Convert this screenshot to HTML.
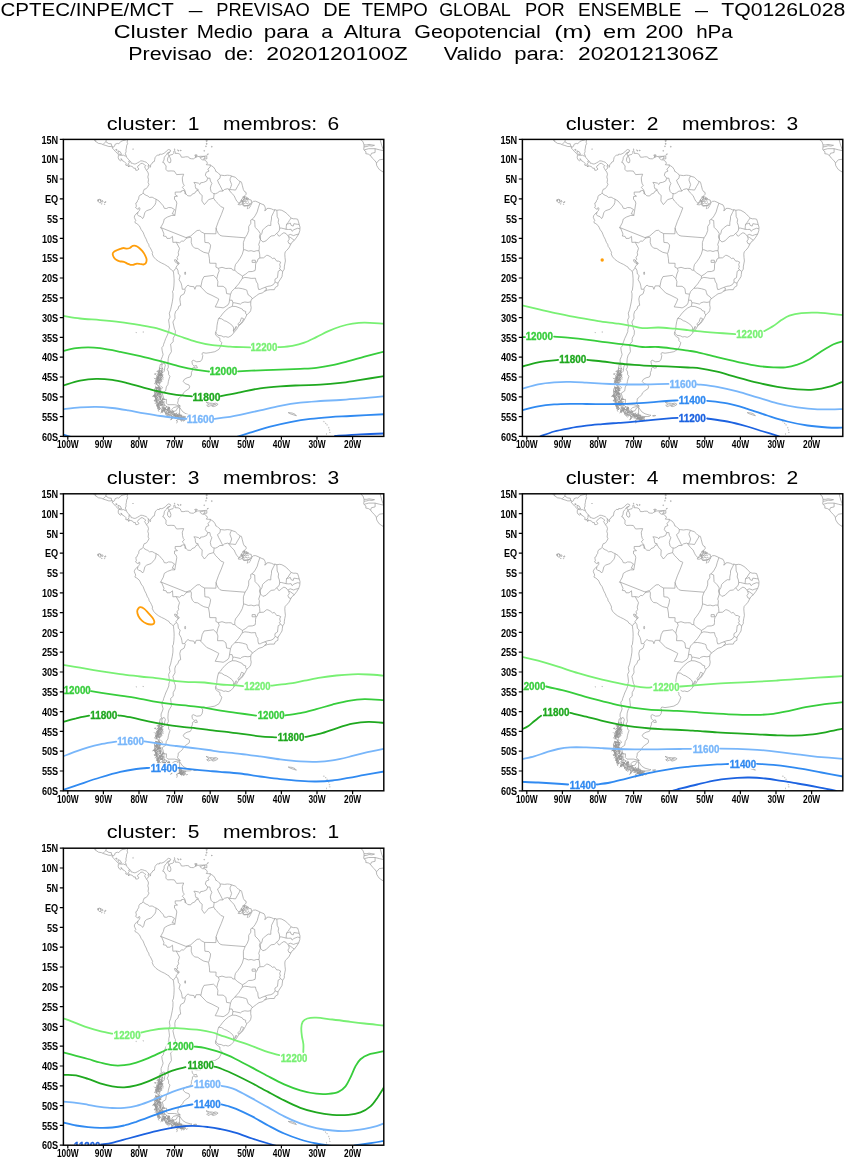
<!DOCTYPE html>
<html><head><meta charset="utf-8"><title>CPTEC/INPE/MCT - Previsao de tempo global por ensemble</title>
<style>html,body{margin:0;padding:0;background:#fff;}body{width:847px;height:1157px;overflow:hidden;}</style>
</head><body>
<svg width="847" height="1157" viewBox="0 0 847 1157" style="display:block">
<g font-family='"Liberation Sans", Arial, Helvetica, sans-serif' fill="#000">
<text x="0.4" y="16.4" font-size="18.8" textLength="173.4" lengthAdjust="spacingAndGlyphs">CPTEC/INPE/MCT</text>
<text x="188.8" y="16.4" font-size="18.8" textLength="13.7" lengthAdjust="spacingAndGlyphs">–</text>
<text x="216.2" y="16.4" font-size="18.8" textLength="93.6" lengthAdjust="spacingAndGlyphs">PREVISAO</text>
<text x="323.2" y="16.4" font-size="18.8" textLength="27.6" lengthAdjust="spacingAndGlyphs">DE</text>
<text x="361.7" y="16.4" font-size="18.8" textLength="66.1" lengthAdjust="spacingAndGlyphs">TEMPO</text>
<text x="439.2" y="16.4" font-size="18.8" textLength="71.6" lengthAdjust="spacingAndGlyphs">GLOBAL</text>
<text x="525.0" y="16.4" font-size="18.8" textLength="39.6" lengthAdjust="spacingAndGlyphs">POR</text>
<text x="578.0" y="16.4" font-size="18.8" textLength="103.3" lengthAdjust="spacingAndGlyphs">ENSEMBLE</text>
<text x="695.0" y="16.4" font-size="18.8" textLength="13.0" lengthAdjust="spacingAndGlyphs">–</text>
<text x="721.2" y="16.4" font-size="18.8" textLength="124.1" lengthAdjust="spacingAndGlyphs">TQ0126L028</text>
<text x="113.7" y="38.4" font-size="18.8" textLength="74.1" lengthAdjust="spacingAndGlyphs">Cluster</text>
<text x="196.7" y="38.4" font-size="18.8" textLength="56.1" lengthAdjust="spacingAndGlyphs">Medio</text>
<text x="263.7" y="38.4" font-size="18.8" textLength="45.1" lengthAdjust="spacingAndGlyphs">para</text>
<text transform="translate(327.2,38.4) scale(1.12,1)" font-size="18.8" text-anchor="middle">a</text>
<text x="343.7" y="38.4" font-size="18.8" textLength="57.1" lengthAdjust="spacingAndGlyphs">Altura</text>
<text x="414.2" y="38.4" font-size="18.8" textLength="126.6" lengthAdjust="spacingAndGlyphs">Geopotencial</text>
<text x="554.2" y="38.4" font-size="18.8" textLength="37.6" lengthAdjust="spacingAndGlyphs">(m)</text>
<text x="603.0" y="38.4" font-size="18.8" textLength="32.8" lengthAdjust="spacingAndGlyphs">em</text>
<text x="645.2" y="38.4" font-size="18.8" textLength="38.1" lengthAdjust="spacingAndGlyphs">200</text>
<text x="696.2" y="38.4" font-size="18.8" textLength="36.6" lengthAdjust="spacingAndGlyphs">hPa</text>
<text x="128.2" y="60.4" font-size="18.8" textLength="83.6" lengthAdjust="spacingAndGlyphs">Previsao</text>
<text x="224.2" y="60.4" font-size="18.8" textLength="29.6" lengthAdjust="spacingAndGlyphs">de:</text>
<text x="266.2" y="60.4" font-size="18.8" textLength="141.6" lengthAdjust="spacingAndGlyphs">2020120100Z</text>
<text x="443.7" y="60.4" font-size="18.8" textLength="58.1" lengthAdjust="spacingAndGlyphs">Valido</text>
<text x="514.2" y="60.4" font-size="18.8" textLength="50.4" lengthAdjust="spacingAndGlyphs">para:</text>
<text x="578.0" y="60.4" font-size="18.8" textLength="140.3" lengthAdjust="spacingAndGlyphs">2020121306Z</text>
</g>
<g transform="translate(63.4,139.4)">
<clipPath id="cp0"><rect x="0" y="0" width="320.4" height="297.0"/></clipPath>
<g clip-path="url(#cp0)">
<path d="M64.3 -2.4L64.3 0.0L63.7 2.8L64.3 4.0L63.2 6.3L63.0 8.7L62.5 10.7L62.7 12.3L61.9 14.3L62.7 16.1L63.5 18.2L64.9 19.8L65.9 21.2L66.5 21.5L67.5 22.4L67.8 23.8L69.2 24.0L70.7 24.6L72.4 24.4L74.2 23.4L76.0 22.4L77.4 21.4L79.2 21.6L81.0 22.2L82.8 22.8L84.2 24.2L85.1 25.1L86.0 26.5L86.7 27.3L86.9 27.9L87.2 26.9L87.2 25.3L88.5 24.4L89.5 22.6L91.0 22.0L91.3 20.2L91.7 18.2L92.6 17.0L94.0 15.6L95.9 15.8L96.3 14.7L98.4 14.9L100.6 13.9L102.3 12.7L103.4 11.3L105.2 10.1L107.0 10.7L107.3 11.7L106.6 12.5L105.6 13.7L104.3 14.3L105.2 15.8L105.6 16.8L105.9 16.0L107.7 15.4L109.5 14.9L110.5 13.9L110.4 11.9L111.2 11.1L112.0 13.1L112.1 14.1L113.7 13.9L115.5 14.3L116.9 15.2L117.5 16.6L118.0 17.8L120.5 17.8L122.3 17.4L124.4 17.4L125.3 17.6L126.2 19.0L128.3 19.4L130.1 19.4L131.5 18.4L133.0 17.8L131.7 17.2L134.4 17.2L137.2 16.9L140.1 17.0L138.3 17.8L136.5 18.0L137.2 19.0L137.9 19.8L139.0 20.4L141.2 20.6L143.3 22.2L144.0 23.8L142.9 25.3L145.4 25.5L146.9 25.5L148.3 26.5L150.1 27.7L151.8 30.1L152.4 32.1L153.6 32.5L155.4 34.3L156.6 35.2L157.0 35.8L157.9 35.8L161.1 36.2L163.9 35.8L166.1 36.0L168.2 36.6L169.6 37.2L171.8 37.8L173.9 39.8L175.3 41.2L176.2 41.6L176.6 42.8L177.3 42.0L178.2 43.2L178.9 45.9L180.0 50.3L181.2 52.3L182.6 52.9L182.8 54.8L181.4 56.2L180.0 58.2L178.5 59.4L177.5 61.4L175.7 64.0L174.6 65.1L176.8 65.5L178.9 64.5L180.0 66.5L181.4 66.7L184.2 66.3L186.4 65.7L188.0 65.1L188.5 63.2L189.9 62.0L192.1 61.8L194.6 62.8L196.5 63.8L198.5 64.7L200.6 65.5L201.7 67.7L202.0 69.7L201.3 71.3L202.6 70.7L203.5 69.1L205.6 68.9L208.1 69.5L210.2 70.5L211.6 70.3L213.4 70.9L216.3 70.5L218.4 70.9L221.6 72.7L223.4 74.1L225.9 76.8L227.8 78.6L229.8 79.4L232.3 79.4L234.2 79.8L235.1 82.4L235.8 85.1L236.6 87.7L236.4 91.3L235.3 94.6L233.4 97.7L230.9 101.0L228.6 102.8L227.5 104.7L225.5 108.5L223.4 110.9L221.8 112.5L221.4 114.8L221.6 118.0L222.0 121.6L221.4 124.5L220.9 127.5L220.9 129.7L219.3 132.1L218.9 135.0L218.6 137.2L217.0 139.8L215.4 142.2L214.6 143.7L214.5 146.5L212.0 147.9L210.9 150.3L206.7 150.3L204.2 150.7L201.2 151.9L198.8 153.6L195.6 154.4L193.1 156.2L189.9 158.6L187.8 160.4L187.4 162.4L187.3 165.5L187.8 168.3L187.3 171.1L186.5 172.7L184.9 174.0L183.4 175.5L182.1 178.2L180.0 181.8L178.2 184.1L175.3 186.5L173.2 190.1L170.5 193.1L169.6 194.4L167.5 196.6L164.8 197.9L162.2 197.2L160.4 197.6L157.9 196.4L154.5 195.9L152.9 194.0L152.4 192.5L152.0 194.0L152.4 195.8L154.0 197.2L156.5 198.8L156.5 201.2L158.4 203.3L157.5 206.3L155.6 209.9L151.5 212.3L146.8 213.2L142.6 213.8L139.4 213.2L138.5 214.6L139.4 216.2L138.7 219.8L137.1 222.0L133.3 222.4L129.8 220.8L128.5 221.8L129.0 224.9L130.8 226.7L133.0 226.1L134.0 228.5L131.5 228.7L130.8 227.5L129.0 228.7L129.0 230.9L128.0 233.2L128.0 235.6L126.9 237.6L123.7 238.4L120.9 240.0L119.8 242.0L121.9 244.3L125.5 245.5L126.2 247.1L125.8 249.1L122.3 251.5L120.1 253.4L119.3 255.4L116.9 257.8L114.8 259.4L114.8 261.4L114.1 263.7L115.2 265.3L116.9 266.7L113.7 267.3L110.2 268.1L108.4 270.1L109.8 272.1L112.7 271.3L114.1 268.5L116.2 267.9L117.7 270.1L119.4 272.4L122.6 274.4L126.9 275.6L128.5 275.8L126.9 277.0L122.6 277.2L117.3 276.6L113.0 276.8L115.5 278.2L120.9 280.8L116.2 279.6L111.2 278.4L107.0 276.0L103.4 274.0L99.5 271.3L96.3 268.5L94.2 265.3L92.7 261.4L91.7 257.4L91.5 253.4L91.3 249.5L92.4 247.9L95.6 248.7L95.9 246.7L93.8 244.7L91.1 244.3L93.1 241.6L94.5 239.6L95.6 236.0L97.4 234.0L99.5 233.2L100.9 231.7L101.3 228.1L102.0 225.7L100.7 223.6L98.8 224.7L97.7 222.9L97.7 220.2L99.0 217.2L99.7 215.0L98.8 211.5L98.4 208.3L99.9 206.5L100.2 204.9L101.3 202.0L102.3 199.2L104.0 195.6L105.4 192.1L105.4 190.3L106.1 187.7L105.7 184.1L105.2 180.6L106.6 177.8L105.9 173.8L107.2 170.3L108.0 166.7L108.9 162.4L109.5 158.4L109.6 154.4L109.1 152.1L110.0 150.7L110.5 146.5L110.7 142.6L110.7 139.4L110.4 135.8L110.1 132.6L109.9 132.1L108.0 130.3L106.4 129.3L105.6 127.7L103.8 126.7L101.3 125.1L98.1 123.6L95.2 122.0L92.7 120.2L90.1 117.4L88.8 114.4L89.2 113.3L88.1 110.9L86.9 108.5L85.8 107.1L85.3 104.9L84.0 103.0L82.8 99.8L81.3 97.0L80.6 95.2L79.6 92.7L77.8 90.3L76.7 87.9L75.8 86.3L73.5 84.3L71.7 83.4L71.6 82.2L72.4 81.4L71.6 79.6L70.9 77.9L71.2 76.4L72.4 74.8L73.9 73.3L74.6 72.9L75.3 71.9L76.2 70.9L76.5 69.1L75.8 68.1L74.9 69.9L73.9 69.5L72.1 68.1L73.0 66.9L72.6 64.9L72.4 63.6L73.7 62.8L74.2 61.0L75.3 59.6L75.5 57.4L76.7 55.6L78.5 55.0L79.7 53.7L79.9 52.3L80.8 49.9L82.8 49.3L84.2 47.5L85.6 44.9L84.7 43.2L85.1 40.0L84.4 37.6L85.1 34.8L84.4 32.7L83.1 30.9L82.1 29.3L81.2 27.5L82.4 26.3L81.0 25.3L79.2 24.0L77.4 24.0L76.4 25.3L74.6 26.5L74.0 27.7L75.6 29.7L74.2 30.7L72.4 30.9L71.9 28.7L70.3 28.9L69.2 27.3L67.5 26.7L65.7 26.5L65.3 27.6L64.4 26.3L63.9 25.3L63.5 26.1L62.3 25.7L62.7 24.0L60.9 22.2L59.1 21.4L58.4 19.9L57.5 19.2L58.0 20.8L57.3 21.4L55.5 20.2L54.8 18.4L55.0 16.2L55.4 15.6L53.9 13.9L52.2 12.3L50.4 10.3L48.6 8.3L49.5 7.9L49.0 6.7L47.5 7.1L45.4 7.1L42.5 6.1L40.4 5.5L37.9 4.4L35.1 4.0L32.2 2.0L30.1 0.0L27.6 -2.4M105.6 16.8L104.3 18.6L104.1 21.4L105.6 23.4L107.2 23.0L107.5 20.6L106.6 18.2L105.9 17.0L105.6 16.8M54.6 11.5L56.8 12.3L58.2 15.0L56.4 15.0L54.8 13.5L54.6 11.5M52.2 10.3L53.6 11.1L53.4 9.9L52.2 10.3M111.1 120.4L112.7 120.4L114.1 122.4L115.9 123.6L115.2 124.9L113.4 123.6L111.6 122.4L111.1 120.4M178.2 178.4L180.3 179.4L178.9 182.2L176.8 184.5L175.0 186.1L174.6 184.5L176.8 182.2L177.5 179.8L178.2 178.4M172.8 186.9L171.4 189.3L170.0 191.3L171.1 190.9L172.8 188.5L172.8 186.9M122.2 133.8L122.0 132.6L121.5 132.6L121.3 133.8L121.5 135.0L122.0 135.0L122.2 133.8M179.8 60.2L182.4 59.8L184.9 60.0L187.8 60.6L188.1 63.0L186.4 65.3L183.5 66.1L180.7 66.3L179.6 64.5L179.8 60.2M181.0 57.0L183.5 58.0L183.9 59.0L181.0 58.8L181.0 57.0M175.7 64.0L177.8 63.0L179.2 61.4L180.3 59.8L181.4 58.6M178.9 64.5L179.2 63.0L180.3 61.8L181.7 61.4L182.8 60.2M179.6 63.4L181.0 64.2L182.4 63.4L183.9 64.2L185.3 63.4L186.4 64.5M180.7 61.8L182.4 62.2L183.9 61.4L185.3 61.8M182.8 59.4L184.2 58.6L185.3 59.2L183.9 59.8L182.8 59.4M179.2 57.8L180.3 57.2L181.4 58.2L180.3 58.6L179.2 57.8M177.8 60.6L178.9 61.0L179.2 62.6L178.2 62.2L177.8 60.6M187.4 66.1L186.4 67.7L185.3 69.3M184.6 66.3L184.2 68.1L183.9 69.7M140.1 17.0L143.3 16.4L143.5 19.4L140.1 19.6L141.5 18.6L141.7 17.4L140.1 17.0M145.0 14.5L144.6 14.4L143.9 14.8L143.7 15.2L144.2 15.3L144.8 14.9L145.0 14.5M134.0 15.8L133.6 15.5L132.6 15.4L131.6 15.5L131.2 15.8L131.6 16.2L132.6 16.3L133.6 16.2L134.0 15.8M141.1 11.5L140.9 11.0L140.7 11.0L140.5 11.5L140.7 11.9L140.9 11.9L141.1 11.5M142.9 6.9L142.7 6.5L142.4 6.5L142.3 6.9L142.4 7.4L142.7 7.4L142.9 6.9M148.8 7.3L148.6 6.8L148.3 6.8L148.1 7.3L148.3 7.8L148.6 7.8L148.8 7.3M143.6 4.4L143.5 3.7L143.1 3.7L142.9 4.4L143.1 5.0L143.5 5.0L143.6 4.4M143.8 1.4L143.6 0.5L143.0 0.5L142.8 1.4L143.0 2.2L143.6 2.2L143.8 1.4M111.6 10.2L111.6 9.8L111.2 9.5L110.9 9.6L110.9 10.0L111.3 10.3L111.6 10.2M115.5 11.6L115.3 11.1L114.6 10.6L114.1 10.5L114.3 11.0L115.0 11.6L115.5 11.6M117.7 11.1L117.5 10.6L117.1 10.6L116.9 11.1L117.1 11.6L117.5 11.6L117.7 11.1M69.8 9.7L69.7 9.3L69.5 9.5L69.5 9.9L69.7 10.1L69.8 9.7M37.2 61.4L36.6 60.0L35.6 59.8L34.8 60.5L34.9 62.2L35.8 63.2L36.6 63.4L37.6 63.2L37.2 61.4M35.2 61.0L35.0 60.3L34.4 60.3L34.2 61.0L34.4 61.7L35.0 61.7L35.2 61.0M39.6 61.8L39.3 61.3L38.6 61.0L38.1 61.5L38.1 62.1L38.6 62.5L39.5 62.5L39.6 61.8M37.8 60.6L37.5 60.1L37.0 60.3L37.0 60.9L37.5 61.0L37.8 60.6M42.6 62.3L42.0 62.2L41.3 62.6L41.0 63.2L41.6 63.4L42.4 62.9L42.6 62.3M38.8 64.5L38.6 64.2L38.2 64.4L38.2 64.7L38.6 64.8L38.8 64.5M41.4 64.9L41.2 64.6L40.9 64.7L40.9 65.0L41.2 65.1L41.4 64.9M73.1 193.1L72.8 192.8L72.5 193.1L72.8 193.3L73.1 193.1M80.1 192.7L79.7 192.4L79.4 192.7L79.7 192.9L80.1 192.7M142.6 262.5L146.1 263.7L149.0 263.9L150.4 264.3L149.3 265.3L147.2 266.3L144.7 267.3L143.3 265.9L145.8 265.3L142.6 262.5M150.4 264.1L152.5 263.7L154.7 264.9L152.5 266.5L149.7 267.3L148.3 266.5L150.8 265.7L150.4 264.1M146.1 264.5L148.3 264.9M150.8 264.9L152.9 265.3M224.8 273.2L228.7 273.6L231.6 274.8L233.0 276.4L230.5 275.6L226.9 274.4L224.8 273.2M260.8 282.3L260.4 282.0L260.1 282.3L260.4 282.7L260.8 282.3M262.5 283.9L262.2 283.6L261.8 283.9L262.2 284.2L262.5 283.9M264.0 285.5L263.6 285.2L263.3 285.5L263.6 285.8L264.0 285.5M265.8 288.3L265.4 288.0L265.0 288.3L265.4 288.6L265.8 288.3M266.5 290.7L266.1 290.3L265.8 290.7L266.1 291.0L266.5 290.7M266.8 293.0L266.5 292.7L266.1 293.0L266.5 293.4L266.8 293.0M263.6 294.6L263.3 294.3L262.9 294.6L263.3 294.9L263.6 294.6M130.1 276.4L131.9 276.0L133.3 276.2L131.5 276.8L130.1 276.4M98.8 224.9L96.8 225.1L96.3 228.1L95.6 230.9L98.1 231.3L98.8 228.9L98.4 226.9L98.8 224.9M96.8 233.5L95.7 233.4L95.4 234.7L95.4 235.9M97.2 233.7L97.3 234.9L97.4 233.7L97.8 233.5M96.0 232.7L97.1 233.9L98.0 234.5L97.2 235.6M96.8 232.2L95.8 232.0L95.0 233.1L95.5 233.0L95.8 233.0M97.5 232.3L97.7 232.4L97.2 231.6L97.7 232.3L97.9 232.3L98.8 231.6L98.3 230.3M96.1 232.0L95.3 232.1L94.1 231.6L94.8 231.4L95.7 231.9L96.2 231.6M97.6 231.9L98.7 232.0L99.1 233.2L99.6 232.8M98.9 231.2L99.5 230.1L99.1 228.9L98.7 228.6L98.7 229.4L98.2 228.7M97.0 231.0L96.0 231.2L96.1 230.1L96.9 229.1L96.4 229.3L96.0 228.3L97.1 229.2M96.3 232.4L95.1 231.5L94.3 232.1L93.4 232.0L93.7 232.5M95.1 234.1L94.9 233.1L96.1 232.6L96.2 232.9M96.2 234.9L95.1 236.1L94.4 237.0L94.0 238.2L92.7 239.2L91.7 239.6L90.6 238.5M97.1 235.5L98.3 235.2L98.2 236.3L98.2 235.0L98.1 235.5L97.2 234.8M97.7 234.9L97.7 235.7L98.8 236.1L99.3 234.9L100.0 235.5M97.3 235.6L97.3 234.5L97.0 235.3L97.1 235.3L97.4 235.0L98.1 234.2M95.4 234.4L95.9 235.1L96.0 235.5L94.8 236.8L94.3 237.5L94.7 236.2L94.6 235.0M98.7 232.9L97.7 234.0L97.6 234.5L97.6 233.1L97.9 234.5L98.9 235.0M97.3 233.2L98.3 232.4L98.9 232.5L98.1 231.7M95.9 233.2L95.8 232.6L94.8 233.5L96.0 234.8L96.3 234.9L96.7 234.6L96.9 234.7M98.5 234.5L97.3 233.7L97.9 234.8L98.5 235.8L99.7 236.6M98.2 237.7L97.6 238.5L97.9 239.1L97.7 240.2L98.7 240.6M96.1 236.6L96.9 235.6L96.0 236.6L96.0 235.5L96.7 235.2L97.4 236.2L96.5 235.9M94.4 237.7L95.1 238.8L95.3 239.5L94.7 238.7L94.7 238.5L95.4 237.4L95.2 237.1M96.3 236.8L96.2 236.7L96.2 235.5L96.6 234.4L97.8 235.1L97.9 233.9M98.0 237.5L97.7 238.0L98.2 238.2L97.4 238.8M94.4 235.3L93.5 234.2L94.7 235.0L95.8 235.3L95.8 233.9L96.6 234.8M96.0 235.8L95.8 236.2L94.7 236.6L94.3 236.7L94.8 237.0L94.9 237.6M98.6 236.6L99.8 237.7L99.2 239.0L99.9 239.6L99.0 239.8M98.3 235.2L98.1 235.1L98.2 235.1L97.7 235.7L98.5 236.6L99.5 237.2M93.9 236.6L92.9 235.6L91.8 234.6L91.7 235.1L91.8 233.9L91.2 234.9M96.1 239.3L97.3 240.0L96.5 238.8L96.8 238.7M94.4 238.9L93.8 238.1L95.0 239.3L93.8 239.3L95.0 239.3M94.6 238.9L95.0 238.8L95.9 237.5L95.5 238.3L94.8 239.1L95.7 238.5L94.8 237.1M98.5 238.1L97.4 237.5L96.8 238.4L95.8 237.4M97.9 238.5L98.2 237.9L97.0 238.8L96.5 240.2L96.1 240.6L97.3 241.1M93.5 237.0L93.1 238.4L92.8 238.5L92.8 239.3L92.8 240.7M94.7 238.6L94.9 238.9L94.4 238.5L93.4 237.3L94.2 238.2L95.2 237.4L95.5 236.7M97.1 237.8L97.7 237.4L96.5 236.5L97.5 236.1L98.1 235.3L97.2 235.2M96.0 237.1L96.8 236.9L97.8 236.4L98.2 237.1M93.4 238.5L94.6 238.9L94.5 240.1L93.3 240.0L92.6 240.7L92.5 241.9M97.7 240.0L98.1 241.2L98.7 241.9L97.7 242.5M96.7 241.4L96.7 241.7L96.7 241.2L97.3 240.8L97.7 242.0L96.8 242.7L97.4 243.2M95.9 241.7L95.9 240.4L94.9 241.2L94.9 240.6M94.5 240.8L95.7 240.7L95.3 241.8L95.2 242.4M93.5 240.8L94.7 241.1L95.7 239.9L94.7 241.0L95.3 241.7L95.0 241.4L95.3 242.0M93.7 240.0L94.6 240.1L93.5 241.5L93.4 241.6L92.9 242.6L92.6 243.1L93.4 244.5M96.8 239.1L97.9 239.9L96.7 239.3L96.1 240.5M95.0 239.0L94.7 239.2L94.1 240.5L93.1 239.6M94.5 238.9L95.7 239.1L95.2 238.3L95.9 238.5L94.8 237.8M95.1 239.0L95.6 240.3L96.2 240.4L96.8 240.0L96.3 241.3M96.7 243.5L96.5 244.1L95.9 243.4L96.3 243.7L95.6 243.7L96.0 244.8L96.4 246.0M94.9 242.1L94.8 242.6L95.4 242.8L95.5 243.5L94.7 243.3M94.1 243.0L95.1 242.3L94.8 242.6L94.9 242.9L94.5 244.1M93.9 241.8L94.4 241.7L95.1 240.8L94.1 239.7L93.8 239.3M94.6 243.1L93.7 243.3L94.3 242.5L95.5 242.5M93.1 240.9L94.2 241.6L93.3 242.6L93.3 242.1L94.4 241.4L94.8 240.7L94.7 240.6M92.9 241.2L93.1 242.5L93.6 241.2L93.9 241.1L93.8 240.4M93.2 242.2L92.9 242.9L93.1 244.3L92.6 244.4L93.8 244.0M96.5 241.8L96.6 243.1L96.4 242.7L95.3 243.5L96.3 243.1M93.1 242.3L94.1 243.1L93.0 243.5L92.8 243.0L92.0 242.2L92.6 242.2L91.9 240.9M94.1 248.5L94.0 249.1L95.0 250.2L95.3 249.9L96.2 249.9M96.6 250.0L97.7 251.2L96.5 250.9L96.3 250.3L95.5 250.5M95.8 249.5L97.0 248.3L96.6 249.1L97.7 248.4M92.9 248.8L93.7 247.4L93.6 248.5L92.5 249.7L92.3 248.6L92.5 247.9L92.2 247.1M94.1 248.5L92.9 248.6L92.6 247.4L91.9 247.8M96.6 249.0L95.9 248.7L95.7 249.0L95.6 248.2L94.5 249.0L93.4 248.7L93.1 249.2M96.8 249.0L97.9 249.6L98.4 249.3L99.2 248.1L98.1 247.2L97.1 246.6M94.7 247.5L95.8 246.7L94.8 246.7L93.6 245.5L93.1 245.0L92.3 245.7M96.4 248.2L96.4 248.5L95.6 248.7L96.0 248.8M95.1 248.8L96.0 247.4L95.4 248.6L94.4 248.6L95.0 248.7L94.3 248.9L94.6 248.5M95.5 250.4L96.2 250.9L95.6 251.6L95.0 252.3M93.8 251.7L93.0 250.6L93.2 251.1L92.9 249.7L92.9 250.5M95.8 250.8L94.8 250.8L95.6 249.9L96.6 251.2M93.1 251.8L93.3 250.9L92.5 252.1L92.6 253.0L92.8 252.2M95.0 252.0L94.3 252.4L93.4 253.2L92.8 253.0L93.2 253.8L92.0 254.3M95.1 250.7L94.1 252.0L94.1 252.0L93.8 251.2L94.2 252.2L94.3 251.8M93.6 250.5L94.0 250.8L92.9 250.1L93.9 250.3L92.7 249.6L93.4 249.2M93.6 250.3L93.4 251.2L92.5 252.3L92.6 252.7M95.6 250.8L95.7 250.4L96.8 251.6L97.1 251.9M94.2 250.8L93.3 251.7L92.3 252.0L92.9 251.2L93.7 251.7L94.5 253.0M96.7 253.4L95.6 252.8L96.1 251.7L96.4 250.8L96.7 250.4L96.0 250.5L96.2 251.8M96.8 253.7L95.9 254.4L96.4 253.3L95.3 253.2L95.9 254.4L96.8 255.5M94.8 252.9L95.1 253.5L94.5 253.8L94.2 253.8L93.4 255.1L94.6 255.2M93.8 252.8L94.7 251.9L94.4 253.1L94.1 253.5L94.8 253.5L95.2 254.8L94.3 253.6M93.0 252.6L91.9 252.6L91.6 251.3L90.7 250.4M97.2 251.6L96.4 250.3L96.4 249.0L97.4 249.9M95.9 251.2L96.7 250.9L96.1 251.4L96.4 250.3M93.9 252.5L93.2 253.2L93.2 253.7L92.0 254.6L91.2 253.4L91.6 252.3L90.8 251.5M91.8 252.0L93.0 252.1L93.0 251.6L94.0 252.3L94.1 251.3L94.7 251.7M93.4 252.3L93.1 251.6L92.9 252.5L93.5 253.7L94.3 254.4M95.1 254.1L95.6 253.4L94.9 254.0L95.3 254.2L94.9 255.4L94.9 255.1M91.3 255.9L90.8 255.8L90.8 256.1L90.4 257.1L90.0 256.2L89.2 257.5M96.1 254.6L95.1 254.2L96.0 253.4L95.8 254.1L94.6 253.7L94.7 254.1L95.1 254.3M97.0 254.6L96.1 255.9L95.0 257.3L94.3 258.2L95.3 259.3M94.9 254.7L94.0 255.5L94.3 255.5L94.6 254.7L93.8 255.2M92.9 254.9L93.4 256.3L94.3 255.6L94.2 254.9L94.1 255.7L93.1 256.4L91.9 256.9M95.8 253.6L96.3 254.3L96.4 254.5L97.1 254.4L96.6 254.0L97.7 254.8M96.6 255.0L97.6 254.0L96.9 255.0L97.9 255.8L97.6 255.6L97.3 254.6M96.9 253.1L96.8 253.0L95.6 254.3L96.7 255.0L97.7 254.2L97.4 254.0L97.6 254.9M91.2 254.8L90.8 255.8L89.6 257.1L90.1 256.7L90.6 256.0M91.6 256.8L90.8 255.6L90.9 255.1L91.9 254.4L92.4 254.7L91.8 255.5M91.4 256.1L92.2 255.7L91.6 256.9L90.6 256.1M92.5 257.4L91.9 257.8L93.0 259.0L93.6 257.9L94.3 257.6L94.3 258.2L94.9 257.4M91.3 257.0L91.0 256.4L91.1 257.2L92.0 258.3M96.7 257.7L96.7 258.2L97.4 259.5L97.0 260.6M95.8 255.4L96.1 254.1L96.1 253.9L95.3 253.0L96.3 253.8L95.5 252.5L96.2 252.6M97.8 255.9L98.2 256.3L97.9 256.6L98.9 257.7M97.1 257.0L96.7 257.2L96.8 258.1L98.0 257.7L99.1 258.7M95.2 255.6L94.8 256.1L93.9 255.2L94.3 254.5M92.3 256.1L92.5 257.2L92.4 256.1L91.7 257.0L91.2 256.4L92.1 257.4M92.5 259.5L92.8 259.9L92.1 258.6L91.5 257.4L92.8 258.3L93.2 259.2M92.5 259.7L93.1 259.9L92.3 259.5L91.4 260.3L91.1 261.6L90.8 260.8M96.2 259.0L96.1 260.0L96.3 260.2L96.9 259.1L96.8 258.9L97.4 259.1M93.0 258.5L93.5 258.2L93.4 258.7L93.7 259.8L93.5 259.0M96.3 258.7L97.2 258.8L96.0 257.8L96.0 257.3L97.0 256.2L96.5 257.6M97.1 257.2L96.0 257.1L95.1 256.3L96.2 256.2M92.2 257.8L92.7 257.8L93.1 256.9L93.1 257.1L94.2 258.0M96.1 258.2L96.7 257.9L97.0 258.6L96.7 259.8M92.0 257.2L92.2 258.3L91.7 258.5L92.8 257.2L94.1 255.9L94.0 256.9M97.8 258.8L97.7 258.7L97.0 257.4L96.7 257.0L97.4 256.1M95.4 261.4L96.1 261.5L96.8 262.2L97.3 261.7L98.5 261.2M95.5 260.4L95.1 259.9L94.7 260.0L95.0 261.1L95.9 262.1L95.5 262.4M92.6 260.8L93.3 261.8L94.2 261.5L93.0 262.8L94.1 262.4L93.5 263.5M93.0 261.5L92.7 262.5L93.7 261.6L92.8 260.6L93.1 259.8L93.5 258.7L94.2 257.8M93.4 260.6L94.0 260.8L95.0 260.6L94.4 261.3M93.0 260.0L93.0 258.9L93.5 259.6L92.6 259.3M97.3 260.6L97.2 260.5L97.6 259.5L97.3 259.8L98.4 260.9L98.8 260.6M92.2 259.8L93.0 260.9L93.0 260.2L92.1 261.0L91.9 262.0L90.9 261.6M94.5 259.4L93.9 259.9L93.3 261.1L92.8 261.5L92.8 262.0M99.0 259.2L100.2 258.8L100.9 259.3L100.5 259.8L100.7 259.5L101.4 260.7M98.0 262.2L97.8 263.3L96.7 262.4L96.6 261.6M92.9 262.9L93.1 262.6L93.6 262.3L94.1 263.1L94.5 263.2L95.2 264.3L94.4 265.6M98.4 262.1L98.1 261.2L98.8 261.1L98.2 261.6M95.7 263.3L95.9 263.1L96.9 263.1L96.9 262.2L97.6 262.4L98.1 262.7L97.0 262.2M97.0 262.0L97.0 262.2L96.0 261.8L95.3 262.8L94.1 264.1M97.7 262.7L97.0 263.8L97.0 264.4L97.1 264.5M98.2 261.1L98.9 260.5L99.8 259.9L98.7 259.5L99.3 259.6L100.3 260.3M99.9 261.5L98.8 260.5L99.3 260.1L99.0 260.7M97.1 261.0L97.4 261.6L98.5 260.9L98.4 261.9L99.6 262.9L100.7 263.8L101.4 263.9M98.5 262.0L99.2 261.9L98.7 263.1L99.8 262.5L100.7 263.0L100.9 261.7M99.7 264.7L99.9 263.4L99.3 263.7L99.0 263.0L98.3 263.1L98.8 263.6M95.1 265.6L94.6 266.6L95.6 265.2L94.7 263.9M99.4 264.8L99.1 266.0L99.2 265.2L98.4 264.5L99.5 265.2L99.8 264.7L99.7 265.5M95.0 264.4L94.9 265.6L95.7 264.8L95.0 264.6L96.0 263.5L96.0 263.6L96.3 264.5M94.5 265.6L94.1 265.4L93.9 265.3L93.0 266.6L94.3 266.9L93.3 266.6M99.4 264.6L99.0 264.6L97.8 265.9L99.0 264.8M96.9 263.8L98.0 264.4L97.0 264.6L97.2 264.3L96.3 263.3L95.9 261.9M96.0 264.9L96.2 263.8L96.1 262.6L97.1 263.8M97.8 264.1L98.3 265.3L97.9 266.0L96.9 264.8M97.1 264.6L96.7 265.3L97.3 266.2L98.4 265.0L97.3 264.8M94.2 266.1L94.9 265.5L95.3 264.1L94.2 265.1L94.8 263.9L95.3 264.5M99.2 266.4L99.2 266.7L98.9 267.1L98.6 267.3M101.2 266.1L101.1 264.9L101.8 265.9L102.7 267.1M99.5 267.2L100.2 265.9L101.2 266.2L100.1 267.4L101.2 267.9M96.1 267.7L95.2 268.4L94.1 267.8L94.2 268.8L95.1 269.5L94.9 270.4M96.4 265.2L97.2 265.9L96.2 266.0L96.1 267.0L96.2 266.6L96.9 265.4M99.0 265.3L98.4 266.1L98.0 264.7L99.3 263.5M94.9 266.3L93.7 265.7L93.2 264.4L92.0 263.5L91.6 264.5M94.0 265.3L93.2 265.4L94.2 266.2L94.4 267.2L93.6 266.5L94.2 267.3M94.7 266.7L95.3 267.6L94.4 267.2L94.8 268.0L94.3 269.4L94.8 269.3L95.6 268.2M100.0 269.2L100.9 268.2L100.9 269.5L101.9 269.6L102.8 270.2L102.0 269.3M98.6 269.6L98.8 268.6L98.5 267.4L99.6 268.5L99.3 269.3L100.1 268.1M102.4 268.2L101.9 269.2L102.5 269.4L101.3 268.5M96.5 269.4L95.8 270.3L94.8 271.0L95.6 272.3M96.1 268.5L95.5 267.6L95.9 267.7L95.2 267.8L94.8 268.9M96.9 268.3L96.9 268.3L96.3 269.4L96.1 270.4L96.3 269.4L95.4 269.2L96.1 270.1M102.9 267.0L103.4 266.8L103.6 268.0L104.8 269.3L104.4 269.6L105.3 269.0L106.1 268.8M104.4 268.2L105.2 269.5L105.3 268.2L106.3 268.9L106.2 268.5L105.8 268.5L104.7 268.6M99.9 268.8L99.7 269.1L100.9 269.3L99.8 267.9L101.0 269.2M103.2 267.7L103.6 266.8L102.4 267.9L101.5 269.3L100.8 270.5L99.8 271.0M98.7 271.7L97.6 271.5L98.7 271.7L98.7 270.6L99.8 270.4L99.2 269.7M104.4 271.3L104.7 271.1L105.0 271.9L105.6 272.0L105.7 271.7L105.6 272.2L105.0 273.0M102.1 271.1L100.9 271.5L101.8 272.2L101.9 272.3L101.4 270.9L100.9 270.1L100.0 271.3M105.7 271.0L105.7 270.1L105.4 269.3L105.4 268.0M103.8 270.0L103.4 270.4L103.8 270.1L104.7 269.2L104.7 268.5L105.3 267.8L105.3 267.0M104.1 269.1L103.9 270.2L103.6 270.0L102.7 270.3L103.9 271.3M105.5 270.3L105.2 270.4L105.1 269.8L104.6 270.1M102.5 270.1L101.3 269.4L102.5 269.8L102.0 269.6L102.8 269.8L102.5 270.6M105.2 270.2L106.3 271.0L106.2 269.9L104.9 271.1L105.1 271.2M106.2 269.3L106.2 269.3L106.7 269.6L106.3 269.3L106.0 268.1L106.4 268.0L105.4 268.4M103.1 272.3L104.1 271.0L104.1 271.2L104.4 269.8L104.0 269.7M107.3 273.1L106.9 274.3L106.5 275.2L106.9 275.7L106.5 274.5L106.5 273.2M105.4 272.4L105.4 273.3L104.7 272.9L104.9 273.3L106.1 272.9M99.6 272.6L99.1 272.1L97.8 272.6L98.7 272.4M105.8 273.0L106.5 272.9L107.4 271.8L107.4 272.8L106.7 272.5L105.8 272.4L105.8 273.7M99.9 270.6L100.7 270.3L101.5 271.5L100.3 270.7L99.8 270.1L99.5 271.0L98.9 272.2M108.2 271.3L107.4 271.0L106.2 271.7L105.9 271.0L104.8 272.2L104.1 273.0M100.7 271.3L100.3 270.2L101.1 270.7L101.3 269.4L101.3 268.2M101.6 271.7L101.4 272.0L101.9 273.3L102.8 274.4L102.0 274.8M99.2 270.7L99.4 271.8L99.5 272.1L99.2 273.3L98.3 272.4L97.9 273.1L97.1 273.7M104.0 275.0L103.6 275.9L104.1 277.0L103.5 276.1M102.9 274.1L102.1 274.6L102.6 274.9L103.8 275.7L104.9 275.7M103.9 274.1L105.0 272.7L105.2 272.9L106.5 272.8L106.2 272.8M102.9 273.5L103.0 274.2L103.7 274.5L104.1 274.3M104.7 274.2L105.2 273.5L104.6 274.3L105.5 275.5M110.7 272.4L110.0 271.8L109.0 272.4L109.7 272.7L109.4 271.7L109.3 271.4M107.9 272.3L107.1 272.7L107.8 272.2L108.8 273.5L109.3 273.6L110.6 273.9M110.7 273.8L109.7 272.7L110.3 272.1L109.1 273.4L108.3 274.2L107.8 274.5M102.0 273.4L102.2 274.2L102.2 274.1L103.2 273.6L103.4 272.4M102.8 272.5L103.8 271.5L104.0 270.9L105.1 270.4L104.0 270.9L104.7 271.4M112.9 275.4L114.2 275.1L113.5 275.0L113.1 273.7L113.0 274.2L113.0 273.7L113.8 273.3M109.2 274.9L109.0 274.8L110.1 275.9L110.7 277.1L111.2 276.3M106.9 275.1L107.0 275.8L105.9 276.2L105.7 277.0L105.2 278.1M111.0 274.9L111.5 276.3L112.0 277.3L112.4 276.7L111.5 276.1M109.9 275.7L110.0 275.0L109.2 274.5L109.5 274.7M111.6 273.6L112.1 274.9L112.0 276.2L113.0 276.7M105.5 274.6L104.7 274.8L104.8 275.3L105.0 276.6M108.8 273.3L107.8 272.7L109.0 272.5L108.0 272.5L107.8 273.4L108.0 274.8L109.0 274.4M110.3 273.4L110.7 274.5L111.3 275.9L111.0 276.8L110.7 275.6L110.8 274.5M110.8 275.0L111.4 275.5L110.6 274.6L110.2 275.0L110.3 275.3L111.1 276.0M108.0 276.3L109.1 275.0L109.0 275.0L108.2 275.6L108.4 276.8L108.9 277.7L108.7 276.4M108.5 277.3L108.4 278.1L108.1 279.4L108.4 278.5L108.4 279.5L107.3 280.7L107.8 279.6M108.2 277.4L109.2 278.3L108.7 278.5L108.9 278.9L108.1 280.0M110.5 276.5L111.6 275.2L111.9 274.3L110.8 273.9L111.1 274.4M112.6 275.5L113.0 276.5L113.9 276.4L114.2 275.5L113.5 274.8L114.0 275.8L114.2 275.6M115.7 275.7L115.9 276.0L114.9 276.9L115.9 276.7L115.0 275.7M109.9 276.2L110.4 277.0L110.3 276.9L110.8 276.2L111.8 276.0L112.7 275.5M114.5 276.1L114.8 274.9L114.9 275.0L115.3 274.9M116.0 276.0L116.6 277.0L117.3 278.3L116.7 278.6L115.5 278.4L114.8 278.9L115.3 279.1M115.3 275.2L115.4 274.0L116.4 274.9L117.0 275.4L117.6 274.9M117.4 278.3L117.4 278.3L117.0 278.3L117.8 278.7L117.5 279.2L117.7 280.5M118.0 278.1L117.3 278.3L118.1 278.0L117.1 279.4L116.2 278.5L115.4 278.4M113.2 277.2L114.0 277.0L113.4 275.6L114.0 276.2L113.9 277.6L115.1 277.6L115.1 278.9M117.5 278.4L118.3 277.1L118.8 277.3L118.1 276.0L118.2 276.4L118.2 276.9L117.3 276.6M112.5 277.0L112.1 277.1L113.2 277.6L112.8 277.6L112.1 278.3L113.1 278.0L113.4 277.4M112.0 276.8L112.0 277.5L112.2 277.4L113.3 276.1M111.2 276.5L112.1 275.7L112.4 275.4L112.1 276.0M117.1 275.9L117.6 276.4L118.2 275.7L118.3 275.4L117.9 275.2M114.1 277.5L114.5 276.4L115.2 276.4L116.2 275.5L117.4 276.5L116.7 275.4M116.2 276.8L116.3 277.3L115.5 278.5L115.0 279.1L115.6 278.9L116.7 279.4L117.7 279.1M115.0 279.4L116.2 279.8L116.9 280.0L117.8 281.2L117.7 280.1L117.2 280.8M114.6 279.4L113.9 280.8L112.8 280.9L113.8 281.5L113.8 282.6L113.2 283.9M115.3 279.7L116.1 278.6L115.7 279.6L114.9 279.5M120.1 278.5L119.3 279.0L120.0 278.6L119.7 278.1M116.6 279.7L117.4 280.8L117.6 280.0L118.9 280.3L120.0 279.3L118.8 279.8L119.2 280.3M117.1 277.4L116.3 278.7L115.5 278.6L116.4 279.0L116.0 279.5L116.5 278.4M115.4 276.8L114.8 276.5L115.5 276.6L114.4 276.2L114.8 276.0L115.3 275.9M116.8 277.7L115.9 279.1L115.8 278.7L116.5 279.0L117.7 279.8L118.3 280.9M114.6 278.5L114.7 279.3L115.4 280.0L115.7 279.3M120.2 277.1L120.3 277.5L120.8 277.6L121.7 278.4L122.8 277.3M119.3 280.5L118.3 279.9L117.3 279.5L117.0 278.5M117.9 279.8L118.9 280.2L119.3 279.2L118.2 280.5L118.7 281.2L118.3 281.7L118.1 282.3M121.4 280.0L121.4 278.8L122.0 277.5L121.1 278.1L120.1 279.4M121.4 280.5L121.8 280.2L121.7 280.0L122.7 280.8L123.6 281.2L124.3 280.2M118.4 279.3L118.9 278.4L118.0 277.3L117.1 277.8L117.1 278.2L117.7 278.3M119.4 279.2L120.3 277.8L119.1 278.6L119.9 278.0L118.7 278.0L118.1 278.2L117.1 279.5M121.9 279.3L120.9 279.4L120.0 279.6L119.2 279.1M118.3 278.5L118.4 277.6L119.5 278.7L120.7 277.8M121.8 279.5L121.2 280.4L120.7 281.6L119.5 281.6M119.4 278.9L118.8 279.4L117.7 279.5L117.1 280.0L116.9 278.6L117.5 279.2M298.9 -2.4L298.0 1.0L299.6 2.2L300.6 5.5L300.6 7.5L300.3 9.9L301.4 11.5L302.6 12.3L302.4 14.3L304.9 14.7L307.1 16.2L308.8 18.6L311.3 21.0L312.9 23.2L313.3 26.1L314.5 28.1L315.9 30.1L319.5 32.5L322.0 34.5M32.2 2.0L32.4 0.0L32.2 -1.2M39.7 5.0L41.5 3.2L42.4 2.3L42.9 0.4L44.0 -1.6M42.4 2.3L45.4 4.2L47.9 4.4L48.1 6.3L47.9 6.9M49.5 7.9L51.1 6.9L51.8 4.8L53.9 4.0L55.4 4.4L57.5 2.0L59.6 1.2L61.8 0.8L64.3 0.0M55.4 15.6L58.2 16.0L60.3 15.8L61.8 16.8L62.7 16.1M65.3 27.6L65.5 25.7L65.0 24.2L66.0 23.4L65.3 22.0L66.5 21.5M85.1 25.1L84.7 27.7L85.6 28.1L84.4 29.7L83.1 30.9M106.6 12.5L104.3 13.3L103.2 15.2L102.3 16.0L100.9 18.0L100.6 20.6L99.3 23.0L100.7 23.4L101.5 25.3L102.7 26.3L102.5 29.9L104.1 31.7L107.7 31.5L110.9 31.7L113.2 35.2L116.6 35.0L120.3 34.8L118.9 38.4L119.1 41.6L119.8 44.5L120.9 45.9L118.9 48.1L121.2 50.3L121.9 52.7L122.5 54.5M122.5 54.5L121.6 54.6L121.6 52.7L120.5 50.9L117.7 51.7L117.8 52.6L111.8 52.7L111.8 55.2L114.1 56.8L111.1 57.2L111.1 60.0L112.7 61.4L113.4 63.8L111.4 76.1M111.4 76.1L110.2 74.6L108.8 74.4L111.1 70.1L108.0 68.3L105.2 68.1L103.1 69.1L100.9 68.9L99.9 66.5L98.1 64.5L95.6 61.6L92.7 59.8M92.7 59.8L91.3 59.2L88.8 57.8L86.0 58.0L84.5 56.6L82.8 56.0L80.6 54.6L79.7 53.7M92.7 59.8L92.4 63.2L91.5 65.5L87.8 69.7L83.3 71.3L81.5 72.9L80.3 77.6L79.2 79.2L77.6 77.2L75.1 76.4L74.0 75.2L74.6 72.9M111.4 76.1L108.4 76.0L104.1 77.6L100.9 79.6L99.9 83.4L98.1 86.7L97.0 88.5L98.1 88.5L100.6 94.6L99.9 96.6L102.7 97.0L103.6 99.0L106.6 99.0L109.1 97.0L109.5 103.0L112.8 102.8M112.8 102.8L116.1 108.9L114.8 113.3L115.3 115.6L113.6 118.0L114.3 120.0L112.7 121.6L114.8 123.6L114.6 125.1L112.5 127.9L113.1 128.7M113.1 128.7L112.0 129.3L109.9 132.1M113.1 128.7L114.5 130.7L115.0 134.6L116.8 136.2L115.7 140.2L117.7 143.7L118.4 146.5L118.9 149.9L121.3 149.8M121.3 149.8L121.9 150.5L120.7 154.4L117.3 156.4L116.4 159.6L116.9 163.2L117.3 165.9L115.5 166.7L114.5 169.9L112.3 171.9L111.4 175.0L111.6 179.0L109.5 182.6L110.2 185.7L111.1 189.7L112.0 191.3L111.8 195.2L109.8 198.8L109.8 202.4L107.2 204.7L107.7 208.7L108.0 212.3L105.6 216.2L104.8 219.4L104.5 224.1L105.0 227.7L103.8 230.1L105.2 232.5L105.2 235.2L106.6 236.8L105.6 239.6L105.0 242.0L104.5 245.1L102.9 247.5L102.3 251.5L98.8 253.8L99.9 257.4L99.9 260.2L103.1 260.0L102.9 263.7L104.5 265.3L111.2 265.3L116.8 266.6M116.2 267.9L116.2 276.8M121.3 149.8L122.8 147.3L124.6 145.7L126.4 146.9L130.5 147.3L131.5 149.9L132.8 146.5L136.9 146.5L137.4 147.5M137.4 147.5L143.3 153.6L148.6 156.0L154.0 158.8L155.4 159.6L154.0 163.2L151.8 167.5L157.5 168.1L159.7 168.5L161.4 167.7L164.6 165.5L165.7 163.5L166.1 160.8M166.1 160.8L168.7 160.8L169.5 163.4L169.1 165.9L168.9 166.9L165.4 168.5L161.8 171.5L159.0 174.6L157.2 177.2L155.2 179.0M155.2 179.0L154.3 182.2L153.6 186.1L153.3 190.1L152.4 192.5M155.2 179.0L158.2 179.4L161.1 181.4L162.7 181.8L166.4 184.1L168.9 186.1L170.3 188.5L170.0 191.3L170.5 193.1M166.1 160.8L167.1 154.8L163.2 154.2L162.5 149.1L159.7 146.9L154.1 146.9L154.5 142.2L153.4 139.2M153.4 139.2L150.1 136.0L140.6 137.2L138.8 140.8L137.4 147.5M153.4 139.2L154.5 134.6L155.8 131.5L154.9 128.9L152.5 127.7L152.7 123.9L146.3 123.8L146.0 119.2L145.1 114.0L140.4 112.9L136.9 110.9L134.4 109.1L131.2 108.7L129.0 106.5L127.8 103.0L128.0 99.0L127.6 97.8L123.4 98.6L120.1 101.8L118.4 101.6L116.2 103.4L112.8 102.8M122.5 54.5L124.4 56.4L127.3 56.6L128.7 54.8L131.5 53.7L132.6 51.7L134.7 50.9L134.7 49.9L132.6 49.5L131.9 47.1L131.9 45.1L130.5 43.0L132.6 43.2L135.1 43.8L136.5 45.1L137.2 43.4L140.1 43.0L143.3 41.6L144.3 38.8M144.3 38.8L141.9 35.8L142.8 32.9L145.6 31.7L144.4 29.7L146.8 27.5L146.9 25.5M144.3 38.8L146.5 38.8L147.0 41.6L148.5 44.0L147.6 46.1L146.9 48.7L147.7 52.1L149.7 54.1L152.2 54.3L154.0 53.5L156.5 51.7L159.4 51.7M159.4 51.7L156.6 46.1L155.2 43.6L154.1 40.8L156.6 38.8L157.0 35.8M159.4 51.7L161.1 50.1L164.3 49.3L166.1 50.2M166.1 50.2L167.5 47.5L168.2 45.1L166.6 40.8L166.8 39.2L168.2 36.6M166.1 50.2L168.9 50.3L172.1 50.7L174.1 47.1L175.7 44.4L176.6 42.8M300.6 5.5L303.5 5.5L305.6 5.0L308.5 5.5L311.1 5.9L308.5 6.7L305.6 6.3L303.5 7.1L300.6 7.5M300.8 10.5L305.3 9.3L311.7 9.3L316.3 10.5L319.9 11.3L322.0 10.7M311.7 9.3L311.7 13.1L308.1 13.9L307.1 16.2M313.1 23.6L315.9 20.4L320.4 19.8L322.7 22.6M316.7 -2.4L317.0 1.2L318.4 6.3L319.9 10.3L319.9 11.3M319.5 32.3L322.7 28.5L323.8 25.7M165.1 49.9L167.9 53.5L170.7 56.2L172.1 59.4L173.4 61.8L175.7 64.0M150.2 58.8L152.2 61.8L154.7 64.2L157.5 67.3L159.7 68.1L160.4 68.5L157.9 75.2L155.0 82.0L152.7 88.5M152.7 88.5L153.3 91.1L155.0 94.2L156.5 95.8L158.6 96.6L181.7 98.4M181.7 98.4L183.9 95.0L185.3 91.1L185.3 87.1L187.4 84.0L187.3 80.7L188.5 80.0M188.5 80.0L190.3 78.4L191.7 76.4L193.8 72.5L194.9 68.5L196.5 63.8M188.5 80.0L191.3 81.2L191.5 85.3L191.7 87.9L194.9 91.1L196.9 94.2L196.0 97.4L197.0 100.0M211.6 70.3L210.2 72.9L208.1 77.2L208.1 79.6L207.4 83.2L207.4 86.1L204.9 85.9L202.0 87.9L199.2 90.7L198.5 93.9L197.0 96.2L197.0 100.0M213.4 70.9L213.6 73.3L213.8 77.2L215.2 80.0L214.8 83.2L215.9 85.9L216.3 88.7M216.3 88.7L215.9 91.1L214.5 93.1L213.2 94.0M213.2 94.0L210.9 96.2L207.7 96.6L204.9 99.0L202.7 101.4L199.5 102.6L197.0 100.0M227.8 78.6L225.9 81.2L224.8 83.2L223.2 84.7M223.2 84.7L222.9 87.1L222.7 89.9M222.7 89.9L220.5 89.3L218.0 88.7L216.3 88.7M235.8 85.1L234.1 84.9L230.5 84.3L229.8 86.7L227.7 85.9L226.9 83.6L225.2 84.3L223.2 84.7M236.4 89.3L234.1 88.9L230.5 90.3L228.7 91.9L227.7 89.9L225.2 90.1L222.7 89.9M235.3 94.6L232.3 95.4L230.2 96.2L226.9 95.0L225.2 95.8L224.5 96.4M230.9 101.0L229.4 99.8L227.3 98.2L225.2 97.2L224.5 96.4M227.5 104.7L225.5 104.1L224.5 101.8L225.9 99.8L225.2 97.2M224.5 96.4L222.7 94.2L220.5 93.3L218.0 95.0L216.3 96.6L215.2 96.6L214.5 95.4L213.2 94.0M196.5 118.6L200.2 118.4L203.1 116.0L204.5 116.0L207.4 117.6L209.1 119.2L210.9 118.6L213.4 121.8L214.8 121.6L217.3 122.8L216.3 125.1L217.0 127.9L215.9 128.7L217.2 130.5M219.3 132.1L217.2 130.5M217.2 130.5L214.8 131.9L214.5 134.6L214.1 138.2L211.6 139.8L211.5 141.6L211.8 142.6M211.8 142.6L213.4 143.4L214.6 143.7M211.8 142.6L209.9 145.3L207.4 146.5L204.5 146.9L202.7 147.5L201.3 148.1M201.3 148.1L203.1 148.9L203.1 150.1L201.7 150.9L201.2 151.9M201.3 148.1L198.5 149.1L197.0 149.9L195.3 150.1L194.6 147.7L194.4 144.5L193.1 142.6L192.4 140.6L192.1 138.8L187.8 139.0L184.9 138.4L181.4 138.0L178.9 139.0M178.9 139.0L176.8 142.2L175.3 144.5L173.5 146.5L171.4 148.9M171.4 148.9L175.3 148.7L178.9 149.3L182.4 150.3L183.5 150.9L183.9 152.9L184.9 155.6L187.4 157.2L189.2 159.6M187.4 162.4L184.6 163.0L181.4 162.6L178.5 163.4L177.1 164.7L173.5 163.9L171.1 163.4L169.5 163.4M183.4 175.5L182.1 173.8L182.4 172.1L179.6 171.1L178.9 169.7L175.7 168.3L172.5 167.1L168.9 166.9M171.4 148.9L168.2 152.1L167.3 154.6M154.9 128.9L158.6 127.9L162.5 129.1L165.4 128.9L168.2 129.1L169.3 130.7L171.4 130.9M171.4 130.9L174.3 133.5L177.8 135.8L179.1 136.6L178.9 139.0M179.1 136.6L182.4 134.6L184.2 133.1L185.3 132.3L188.9 132.1L191.7 131.1L192.1 128.7L192.1 125.5L192.8 122.8L193.8 122.4L194.6 119.6L196.5 118.6M196.5 118.6L196.3 114.8L195.6 111.3M195.6 111.3L193.1 111.3L190.6 112.1L187.8 111.3L184.9 111.7L181.4 110.3L180.1 110.5M180.1 110.5L180.0 106.9L180.0 103.0L181.0 100.2L181.7 98.4M195.6 111.3L196.0 106.9L195.3 105.3L196.3 102.2L197.0 100.0M180.1 110.5L178.9 114.8L176.8 118.8L174.3 122.4L172.1 125.1L171.4 127.9L171.4 130.9M145.4 113.7L146.8 108.9L147.2 105.7L145.4 103.4L141.5 103.0L141.3 99.0L141.2 94.2M141.2 94.2L152.5 94.4L152.7 88.5M141.2 94.2L137.9 92.5L136.2 90.9L133.7 91.1L130.8 93.5L127.3 96.6L122.6 98.2M122.6 98.2L97.7 88.3M122.6 98.2L123.4 98.6M134.7 50.9L136.9 54.6L138.8 56.0L138.5 61.6L141.0 65.2L143.3 62.6L145.2 60.2L150.2 58.8L150.8 54.4M188.7 120.8L191.9 120.8L192.1 123.0L188.7 123.0L188.7 120.8" fill="none" stroke="#9a9a9a" stroke-width="0.7" stroke-linejoin="round"/>
<path d="M49.3 114.8C49.2 113.9 49.5 113.3 50.2 112.7C50.9 112.0 52.3 111.4 53.4 110.9C54.5 110.4 55.8 109.9 56.9 109.5C58.0 109.1 58.8 108.6 59.9 108.6C61.0 108.5 62.3 109.2 63.4 109.2C64.5 109.2 65.4 109.0 66.4 108.6C67.4 108.1 68.3 106.8 69.3 106.5C70.3 106.2 71.3 106.2 72.3 106.5C73.3 106.8 74.1 107.2 75.2 108.0C76.3 108.8 77.7 110.2 78.8 111.5C79.9 112.8 81.0 114.5 81.7 115.9C82.4 117.3 83.1 118.8 83.2 120.1C83.3 121.4 82.8 123.1 82.3 123.9C81.8 124.7 81.0 125.0 80.0 125.1C79.0 125.2 77.5 124.6 76.4 124.5C75.3 124.3 74.6 124.1 73.5 124.2C72.4 124.4 71.0 125.2 69.9 125.4C68.8 125.6 68.0 125.6 67.0 125.4C66.0 125.2 65.1 124.7 64.0 124.2C62.9 123.7 61.8 122.8 60.5 122.4C59.2 122.0 57.7 122.2 56.4 121.9C55.1 121.6 53.8 121.1 52.8 120.4C51.8 119.8 51.1 118.9 50.5 118.0C49.9 117.1 49.4 115.7 49.3 114.8Z" fill="none" stroke="#ff9e0a" stroke-width="1.8" stroke-linecap="round" stroke-linejoin="round"/>
<rect x="185.9" y="203.1" width="29.3" height="9.8" fill="#fff"/>
<path d="M-0.4 176.5C2.5 176.9 10.5 178.4 16.7 179.1C22.9 179.8 30.0 180.1 36.7 180.7C43.4 181.3 50.1 181.9 56.8 182.7C63.5 183.5 70.9 184.7 76.9 185.7C82.9 186.7 88.2 187.5 92.9 188.7C97.6 189.9 101.0 191.3 105.0 192.7C109.0 194.1 112.3 195.5 117.0 197.1C121.7 198.7 127.8 201.0 133.1 202.4C138.4 203.8 143.5 205.0 149.1 205.8C154.7 206.6 162.7 206.9 166.6 207.2C170.5 207.5 169.3 207.5 172.7 207.6C176.0 207.7 184.4 207.9 186.7 208.0M214.8 207.8C217.1 207.6 224.6 207.2 228.9 206.4C233.2 205.6 236.9 204.7 240.9 203.2C244.9 201.8 248.9 199.6 252.9 197.7C256.9 195.8 261.0 193.5 265.0 191.7C269.0 189.9 273.0 188.3 277.0 187.1C281.0 185.9 285.1 184.9 289.1 184.3C293.1 183.7 295.7 183.3 301.1 183.3C306.5 183.3 318.2 184.1 321.6 184.2" fill="none" stroke="#78f073" stroke-width="1.8" stroke-linecap="round" stroke-linejoin="round"/>
<text x="200.5" y="211.6" text-anchor="middle" font-family='"Liberation Sans", Arial, sans-serif' font-weight="bold" font-size="10.0" stroke="#78f073" stroke-width="0.3" textLength="26.9" lengthAdjust="spacingAndGlyphs" fill="#78f073">12200</text>
<rect x="144.9" y="227.6" width="30.2" height="9.8" fill="#fff"/>
<path d="M-0.4 211.6C1.8 211.1 8.5 209.4 12.7 208.8C16.9 208.2 20.7 208.0 24.7 208.0C28.7 208.0 31.3 208.1 36.7 208.8C42.0 209.5 50.1 211.1 56.8 212.4C63.5 213.7 70.2 215.2 76.9 216.8C83.6 218.4 90.3 220.1 97.0 221.8C103.7 223.5 111.0 225.8 117.0 227.2C123.0 228.7 128.3 229.7 133.1 230.5C137.9 231.3 143.5 231.8 145.6 232.1M174.7 231.9C178.4 231.7 189.7 231.2 196.7 230.9C203.7 230.6 210.1 230.5 216.8 230.3C223.5 230.0 230.9 229.7 236.9 229.4C242.9 229.1 247.6 229.0 252.9 228.4C258.2 227.8 263.6 226.9 269.0 225.8C274.4 224.7 279.8 223.2 285.1 221.8C290.5 220.4 295.0 218.9 301.1 217.2C307.2 215.6 318.2 212.8 321.6 211.9" fill="none" stroke="#37cd3c" stroke-width="1.8" stroke-linecap="round" stroke-linejoin="round"/>
<text x="160.0" y="236.1" text-anchor="middle" font-family='"Liberation Sans", Arial, sans-serif' font-weight="bold" font-size="10.0" stroke="#37cd3c" stroke-width="0.3" textLength="27.8" lengthAdjust="spacingAndGlyphs" fill="#37cd3c">12000</text>
<rect x="127.9" y="252.7" width="30.3" height="9.8" fill="#fff"/>
<path d="M-0.4 246.2C2.5 245.4 11.2 242.4 16.7 241.3C22.2 240.2 27.3 239.6 32.7 239.5C38.0 239.4 43.5 239.8 48.8 240.5C54.2 241.2 59.4 242.6 64.8 243.9C70.1 245.2 75.5 247.1 80.9 248.5C86.3 249.9 91.7 251.3 97.0 252.5C102.3 253.7 107.7 254.8 113.0 255.5C118.3 256.2 126.0 256.7 128.6 256.9M157.4 256.7C158.9 256.4 163.4 255.5 166.6 254.9C169.8 254.3 171.7 253.9 176.7 252.9C181.7 251.9 190.0 249.9 196.7 248.9C203.4 247.9 210.1 247.4 216.8 246.9C223.5 246.4 230.2 246.2 236.9 245.9C243.6 245.6 250.3 245.7 257.0 245.3C263.7 244.9 270.3 244.3 277.0 243.5C283.7 242.7 289.7 241.6 297.1 240.5C304.5 239.3 317.5 237.2 321.6 236.6" fill="none" stroke="#1fa81f" stroke-width="1.8" stroke-linecap="round" stroke-linejoin="round"/>
<text x="143.0" y="261.2" text-anchor="middle" font-family='"Liberation Sans", Arial, sans-serif' font-weight="bold" font-size="10.0" stroke="#1fa81f" stroke-width="0.3" textLength="27.9" lengthAdjust="spacingAndGlyphs" fill="#1fa81f">11800</text>
<rect x="122.3" y="274.9" width="29.9" height="9.8" fill="#fff"/>
<path d="M-0.4 269.7C2.5 269.4 11.2 268.4 16.7 268.0C22.2 267.6 27.3 267.3 32.7 267.4C38.0 267.5 43.5 268.0 48.8 268.6C54.2 269.2 59.4 270.1 64.8 271.0C70.1 271.9 75.5 273.1 80.9 274.0C86.3 274.9 91.7 275.8 97.0 276.6C102.3 277.4 108.7 278.1 113.0 278.6C117.3 279.1 121.4 279.3 123.1 279.4M151.2 279.4C153.8 279.1 162.3 278.0 166.6 277.4C170.8 276.8 171.7 276.6 176.7 275.5C181.7 274.4 190.0 272.5 196.7 271.0C203.4 269.5 210.1 267.8 216.8 266.5C223.5 265.2 230.2 264.1 236.9 263.3C243.6 262.5 250.3 262.1 257.0 261.6C263.7 261.2 270.3 261.0 277.0 260.6C283.7 260.2 289.7 259.6 297.1 259.0C304.5 258.4 317.5 257.1 321.6 256.7" fill="none" stroke="#78b6fa" stroke-width="1.8" stroke-linecap="round" stroke-linejoin="round"/>
<text x="137.2" y="283.4" text-anchor="middle" font-family='"Liberation Sans", Arial, sans-serif' font-weight="bold" font-size="10.0" stroke="#78b6fa" stroke-width="0.3" textLength="27.5" lengthAdjust="spacingAndGlyphs" fill="#78b6fa">11600</text>
<path d="M-0.4 295.2C0.8 295.5 5.4 296.8 6.6 297.1M172.6 297.8C174.9 297.0 181.0 295.0 186.7 293.2C192.4 291.5 200.1 289.0 206.8 287.3C213.5 285.5 220.2 284.0 226.9 282.7C233.6 281.4 240.2 280.3 246.9 279.5C253.6 278.7 260.3 278.2 267.0 277.7C273.7 277.2 278.0 277.1 287.1 276.6C296.2 276.1 315.9 275.1 321.6 274.8" fill="none" stroke="#308af1" stroke-width="1.8" stroke-linecap="round" stroke-linejoin="round"/>
<path d="M271.6 296.6C275.9 296.3 288.8 295.3 297.1 294.9C305.4 294.5 317.5 294.2 321.6 294.1" fill="none" stroke="#1c62e0" stroke-width="1.8" stroke-linecap="round" stroke-linejoin="round"/>
</g>
<rect x="0" y="0" width="320.4" height="297.0" fill="none" stroke="#000" stroke-width="1.45"/>
<path d="M0 0.0h-3.6M0 19.8h-3.6M0 39.6h-3.6M0 59.4h-3.6M0 79.2h-3.6M0 99.0h-3.6M0 118.8h-3.6M0 138.6h-3.6M0 158.4h-3.6M0 178.2h-3.6M0 198.0h-3.6M0 217.8h-3.6M0 237.6h-3.6M0 257.4h-3.6M0 277.2h-3.6M0 297.0h-3.6M4.4 297.0v3.4M40.0 297.0v3.4M75.6 297.0v3.4M111.2 297.0v3.4M146.8 297.0v3.4M182.4 297.0v3.4M218.0 297.0v3.4M253.6 297.0v3.4M289.2 297.0v3.4" stroke="#000" stroke-width="1.2" fill="none"/>
<g font-family='"Liberation Sans", Arial, Helvetica, sans-serif' font-weight="bold" font-size="10.1" fill="#000">
<text x="-21.99" y="4.2" textLength="16.79" lengthAdjust="spacingAndGlyphs">15N</text>
<text x="-21.99" y="24.0" textLength="16.79" lengthAdjust="spacingAndGlyphs">10N</text>
<text x="-16.90" y="43.8" textLength="11.70" lengthAdjust="spacingAndGlyphs">5N</text>
<text x="-18.42" y="63.6" textLength="13.22" lengthAdjust="spacingAndGlyphs">EQ</text>
<text x="-16.39" y="83.4" textLength="11.19" lengthAdjust="spacingAndGlyphs">5S</text>
<text x="-21.48" y="103.2" textLength="16.28" lengthAdjust="spacingAndGlyphs">10S</text>
<text x="-21.48" y="123.0" textLength="16.28" lengthAdjust="spacingAndGlyphs">15S</text>
<text x="-21.48" y="142.8" textLength="16.28" lengthAdjust="spacingAndGlyphs">20S</text>
<text x="-21.48" y="162.6" textLength="16.28" lengthAdjust="spacingAndGlyphs">25S</text>
<text x="-21.48" y="182.4" textLength="16.28" lengthAdjust="spacingAndGlyphs">30S</text>
<text x="-21.48" y="202.2" textLength="16.28" lengthAdjust="spacingAndGlyphs">35S</text>
<text x="-21.48" y="222.0" textLength="16.28" lengthAdjust="spacingAndGlyphs">40S</text>
<text x="-21.48" y="241.8" textLength="16.28" lengthAdjust="spacingAndGlyphs">45S</text>
<text x="-21.48" y="261.6" textLength="16.28" lengthAdjust="spacingAndGlyphs">50S</text>
<text x="-21.48" y="281.4" textLength="16.28" lengthAdjust="spacingAndGlyphs">55S</text>
<text x="-21.48" y="301.2" textLength="16.28" lengthAdjust="spacingAndGlyphs">60S</text>
<text x="-6.46" y="308.9" textLength="21.81" lengthAdjust="spacingAndGlyphs">100W</text>
<text x="31.47" y="308.9" textLength="17.17" lengthAdjust="spacingAndGlyphs">90W</text>
<text x="67.07" y="308.9" textLength="17.17" lengthAdjust="spacingAndGlyphs">80W</text>
<text x="102.67" y="308.9" textLength="17.17" lengthAdjust="spacingAndGlyphs">70W</text>
<text x="138.27" y="308.9" textLength="17.17" lengthAdjust="spacingAndGlyphs">60W</text>
<text x="173.87" y="308.9" textLength="17.17" lengthAdjust="spacingAndGlyphs">50W</text>
<text x="209.47" y="308.9" textLength="17.17" lengthAdjust="spacingAndGlyphs">40W</text>
<text x="245.07" y="308.9" textLength="17.17" lengthAdjust="spacingAndGlyphs">30W</text>
<text x="280.67" y="308.9" textLength="17.17" lengthAdjust="spacingAndGlyphs">20W</text>
</g>
<g font-family='"Liberation Sans", Arial, Helvetica, sans-serif' font-size="18.8" fill="#000">
<text x="43.3" y="-9.9" textLength="70.1" lengthAdjust="spacingAndGlyphs">cluster:</text>
<text transform="translate(130.2,-9.9) scale(1.12,1)" text-anchor="middle">1</text>
<text x="159.7" y="-9.9" textLength="94.0" lengthAdjust="spacingAndGlyphs">membros:</text>
<text transform="translate(270.0,-9.9) scale(1.12,1)" text-anchor="middle">6</text>
</g>
</g>
<g transform="translate(522.4,139.4)">
<clipPath id="cp1"><rect x="0" y="0" width="320.4" height="297.0"/></clipPath>
<g clip-path="url(#cp1)">
<path d="M64.3 -2.4L64.3 0.0L63.7 2.8L64.3 4.0L63.2 6.3L63.0 8.7L62.5 10.7L62.7 12.3L61.9 14.3L62.7 16.1L63.5 18.2L64.9 19.8L65.9 21.2L66.5 21.5L67.5 22.4L67.8 23.8L69.2 24.0L70.7 24.6L72.4 24.4L74.2 23.4L76.0 22.4L77.4 21.4L79.2 21.6L81.0 22.2L82.8 22.8L84.2 24.2L85.1 25.1L86.0 26.5L86.7 27.3L86.9 27.9L87.2 26.9L87.2 25.3L88.5 24.4L89.5 22.6L91.0 22.0L91.3 20.2L91.7 18.2L92.6 17.0L94.0 15.6L95.9 15.8L96.3 14.7L98.4 14.9L100.6 13.9L102.3 12.7L103.4 11.3L105.2 10.1L107.0 10.7L107.3 11.7L106.6 12.5L105.6 13.7L104.3 14.3L105.2 15.8L105.6 16.8L105.9 16.0L107.7 15.4L109.5 14.9L110.5 13.9L110.4 11.9L111.2 11.1L112.0 13.1L112.1 14.1L113.7 13.9L115.5 14.3L116.9 15.2L117.5 16.6L118.0 17.8L120.5 17.8L122.3 17.4L124.4 17.4L125.3 17.6L126.2 19.0L128.3 19.4L130.1 19.4L131.5 18.4L133.0 17.8L131.7 17.2L134.4 17.2L137.2 16.9L140.1 17.0L138.3 17.8L136.5 18.0L137.2 19.0L137.9 19.8L139.0 20.4L141.2 20.6L143.3 22.2L144.0 23.8L142.9 25.3L145.4 25.5L146.9 25.5L148.3 26.5L150.1 27.7L151.8 30.1L152.4 32.1L153.6 32.5L155.4 34.3L156.6 35.2L157.0 35.8L157.9 35.8L161.1 36.2L163.9 35.8L166.1 36.0L168.2 36.6L169.6 37.2L171.8 37.8L173.9 39.8L175.3 41.2L176.2 41.6L176.6 42.8L177.3 42.0L178.2 43.2L178.9 45.9L180.0 50.3L181.2 52.3L182.6 52.9L182.8 54.8L181.4 56.2L180.0 58.2L178.5 59.4L177.5 61.4L175.7 64.0L174.6 65.1L176.8 65.5L178.9 64.5L180.0 66.5L181.4 66.7L184.2 66.3L186.4 65.7L188.0 65.1L188.5 63.2L189.9 62.0L192.1 61.8L194.6 62.8L196.5 63.8L198.5 64.7L200.6 65.5L201.7 67.7L202.0 69.7L201.3 71.3L202.6 70.7L203.5 69.1L205.6 68.9L208.1 69.5L210.2 70.5L211.6 70.3L213.4 70.9L216.3 70.5L218.4 70.9L221.6 72.7L223.4 74.1L225.9 76.8L227.8 78.6L229.8 79.4L232.3 79.4L234.2 79.8L235.1 82.4L235.8 85.1L236.6 87.7L236.4 91.3L235.3 94.6L233.4 97.7L230.9 101.0L228.6 102.8L227.5 104.7L225.5 108.5L223.4 110.9L221.8 112.5L221.4 114.8L221.6 118.0L222.0 121.6L221.4 124.5L220.9 127.5L220.9 129.7L219.3 132.1L218.9 135.0L218.6 137.2L217.0 139.8L215.4 142.2L214.6 143.7L214.5 146.5L212.0 147.9L210.9 150.3L206.7 150.3L204.2 150.7L201.2 151.9L198.8 153.6L195.6 154.4L193.1 156.2L189.9 158.6L187.8 160.4L187.4 162.4L187.3 165.5L187.8 168.3L187.3 171.1L186.5 172.7L184.9 174.0L183.4 175.5L182.1 178.2L180.0 181.8L178.2 184.1L175.3 186.5L173.2 190.1L170.5 193.1L169.6 194.4L167.5 196.6L164.8 197.9L162.2 197.2L160.4 197.6L157.9 196.4L154.5 195.9L152.9 194.0L152.4 192.5L152.0 194.0L152.4 195.8L154.0 197.2L156.5 198.8L156.5 201.2L158.4 203.3L157.5 206.3L155.6 209.9L151.5 212.3L146.8 213.2L142.6 213.8L139.4 213.2L138.5 214.6L139.4 216.2L138.7 219.8L137.1 222.0L133.3 222.4L129.8 220.8L128.5 221.8L129.0 224.9L130.8 226.7L133.0 226.1L134.0 228.5L131.5 228.7L130.8 227.5L129.0 228.7L129.0 230.9L128.0 233.2L128.0 235.6L126.9 237.6L123.7 238.4L120.9 240.0L119.8 242.0L121.9 244.3L125.5 245.5L126.2 247.1L125.8 249.1L122.3 251.5L120.1 253.4L119.3 255.4L116.9 257.8L114.8 259.4L114.8 261.4L114.1 263.7L115.2 265.3L116.9 266.7L113.7 267.3L110.2 268.1L108.4 270.1L109.8 272.1L112.7 271.3L114.1 268.5L116.2 267.9L117.7 270.1L119.4 272.4L122.6 274.4L126.9 275.6L128.5 275.8L126.9 277.0L122.6 277.2L117.3 276.6L113.0 276.8L115.5 278.2L120.9 280.8L116.2 279.6L111.2 278.4L107.0 276.0L103.4 274.0L99.5 271.3L96.3 268.5L94.2 265.3L92.7 261.4L91.7 257.4L91.5 253.4L91.3 249.5L92.4 247.9L95.6 248.7L95.9 246.7L93.8 244.7L91.1 244.3L93.1 241.6L94.5 239.6L95.6 236.0L97.4 234.0L99.5 233.2L100.9 231.7L101.3 228.1L102.0 225.7L100.7 223.6L98.8 224.7L97.7 222.9L97.7 220.2L99.0 217.2L99.7 215.0L98.8 211.5L98.4 208.3L99.9 206.5L100.2 204.9L101.3 202.0L102.3 199.2L104.0 195.6L105.4 192.1L105.4 190.3L106.1 187.7L105.7 184.1L105.2 180.6L106.6 177.8L105.9 173.8L107.2 170.3L108.0 166.7L108.9 162.4L109.5 158.4L109.6 154.4L109.1 152.1L110.0 150.7L110.5 146.5L110.7 142.6L110.7 139.4L110.4 135.8L110.1 132.6L109.9 132.1L108.0 130.3L106.4 129.3L105.6 127.7L103.8 126.7L101.3 125.1L98.1 123.6L95.2 122.0L92.7 120.2L90.1 117.4L88.8 114.4L89.2 113.3L88.1 110.9L86.9 108.5L85.8 107.1L85.3 104.9L84.0 103.0L82.8 99.8L81.3 97.0L80.6 95.2L79.6 92.7L77.8 90.3L76.7 87.9L75.8 86.3L73.5 84.3L71.7 83.4L71.6 82.2L72.4 81.4L71.6 79.6L70.9 77.9L71.2 76.4L72.4 74.8L73.9 73.3L74.6 72.9L75.3 71.9L76.2 70.9L76.5 69.1L75.8 68.1L74.9 69.9L73.9 69.5L72.1 68.1L73.0 66.9L72.6 64.9L72.4 63.6L73.7 62.8L74.2 61.0L75.3 59.6L75.5 57.4L76.7 55.6L78.5 55.0L79.7 53.7L79.9 52.3L80.8 49.9L82.8 49.3L84.2 47.5L85.6 44.9L84.7 43.2L85.1 40.0L84.4 37.6L85.1 34.8L84.4 32.7L83.1 30.9L82.1 29.3L81.2 27.5L82.4 26.3L81.0 25.3L79.2 24.0L77.4 24.0L76.4 25.3L74.6 26.5L74.0 27.7L75.6 29.7L74.2 30.7L72.4 30.9L71.9 28.7L70.3 28.9L69.2 27.3L67.5 26.7L65.7 26.5L65.3 27.6L64.4 26.3L63.9 25.3L63.5 26.1L62.3 25.7L62.7 24.0L60.9 22.2L59.1 21.4L58.4 19.9L57.5 19.2L58.0 20.8L57.3 21.4L55.5 20.2L54.8 18.4L55.0 16.2L55.4 15.6L53.9 13.9L52.2 12.3L50.4 10.3L48.6 8.3L49.5 7.9L49.0 6.7L47.5 7.1L45.4 7.1L42.5 6.1L40.4 5.5L37.9 4.4L35.1 4.0L32.2 2.0L30.1 0.0L27.6 -2.4M105.6 16.8L104.3 18.6L104.1 21.4L105.6 23.4L107.2 23.0L107.5 20.6L106.6 18.2L105.9 17.0L105.6 16.8M54.6 11.5L56.8 12.3L58.2 15.0L56.4 15.0L54.8 13.5L54.6 11.5M52.2 10.3L53.6 11.1L53.4 9.9L52.2 10.3M111.1 120.4L112.7 120.4L114.1 122.4L115.9 123.6L115.2 124.9L113.4 123.6L111.6 122.4L111.1 120.4M178.2 178.4L180.3 179.4L178.9 182.2L176.8 184.5L175.0 186.1L174.6 184.5L176.8 182.2L177.5 179.8L178.2 178.4M172.8 186.9L171.4 189.3L170.0 191.3L171.1 190.9L172.8 188.5L172.8 186.9M122.2 133.8L122.0 132.6L121.5 132.6L121.3 133.8L121.5 135.0L122.0 135.0L122.2 133.8M179.8 60.2L182.4 59.8L184.9 60.0L187.8 60.6L188.1 63.0L186.4 65.3L183.5 66.1L180.7 66.3L179.6 64.5L179.8 60.2M181.0 57.0L183.5 58.0L183.9 59.0L181.0 58.8L181.0 57.0M175.7 64.0L177.8 63.0L179.2 61.4L180.3 59.8L181.4 58.6M178.9 64.5L179.2 63.0L180.3 61.8L181.7 61.4L182.8 60.2M179.6 63.4L181.0 64.2L182.4 63.4L183.9 64.2L185.3 63.4L186.4 64.5M180.7 61.8L182.4 62.2L183.9 61.4L185.3 61.8M182.8 59.4L184.2 58.6L185.3 59.2L183.9 59.8L182.8 59.4M179.2 57.8L180.3 57.2L181.4 58.2L180.3 58.6L179.2 57.8M177.8 60.6L178.9 61.0L179.2 62.6L178.2 62.2L177.8 60.6M187.4 66.1L186.4 67.7L185.3 69.3M184.6 66.3L184.2 68.1L183.9 69.7M140.1 17.0L143.3 16.4L143.5 19.4L140.1 19.6L141.5 18.6L141.7 17.4L140.1 17.0M145.0 14.5L144.6 14.4L143.9 14.8L143.7 15.2L144.2 15.3L144.8 14.9L145.0 14.5M134.0 15.8L133.6 15.5L132.6 15.4L131.6 15.5L131.2 15.8L131.6 16.2L132.6 16.3L133.6 16.2L134.0 15.8M141.1 11.5L140.9 11.0L140.7 11.0L140.5 11.5L140.7 11.9L140.9 11.9L141.1 11.5M142.9 6.9L142.7 6.5L142.4 6.5L142.3 6.9L142.4 7.4L142.7 7.4L142.9 6.9M148.8 7.3L148.6 6.8L148.3 6.8L148.1 7.3L148.3 7.8L148.6 7.8L148.8 7.3M143.6 4.4L143.5 3.7L143.1 3.7L142.9 4.4L143.1 5.0L143.5 5.0L143.6 4.4M143.8 1.4L143.6 0.5L143.0 0.5L142.8 1.4L143.0 2.2L143.6 2.2L143.8 1.4M111.6 10.2L111.6 9.8L111.2 9.5L110.9 9.6L110.9 10.0L111.3 10.3L111.6 10.2M115.5 11.6L115.3 11.1L114.6 10.6L114.1 10.5L114.3 11.0L115.0 11.6L115.5 11.6M117.7 11.1L117.5 10.6L117.1 10.6L116.9 11.1L117.1 11.6L117.5 11.6L117.7 11.1M69.8 9.7L69.7 9.3L69.5 9.5L69.5 9.9L69.7 10.1L69.8 9.7M37.2 61.4L36.6 60.0L35.6 59.8L34.8 60.5L34.9 62.2L35.8 63.2L36.6 63.4L37.6 63.2L37.2 61.4M35.2 61.0L35.0 60.3L34.4 60.3L34.2 61.0L34.4 61.7L35.0 61.7L35.2 61.0M39.6 61.8L39.3 61.3L38.6 61.0L38.1 61.5L38.1 62.1L38.6 62.5L39.5 62.5L39.6 61.8M37.8 60.6L37.5 60.1L37.0 60.3L37.0 60.9L37.5 61.0L37.8 60.6M42.6 62.3L42.0 62.2L41.3 62.6L41.0 63.2L41.6 63.4L42.4 62.9L42.6 62.3M38.8 64.5L38.6 64.2L38.2 64.4L38.2 64.7L38.6 64.8L38.8 64.5M41.4 64.9L41.2 64.6L40.9 64.7L40.9 65.0L41.2 65.1L41.4 64.9M73.1 193.1L72.8 192.8L72.5 193.1L72.8 193.3L73.1 193.1M80.1 192.7L79.7 192.4L79.4 192.7L79.7 192.9L80.1 192.7M142.6 262.5L146.1 263.7L149.0 263.9L150.4 264.3L149.3 265.3L147.2 266.3L144.7 267.3L143.3 265.9L145.8 265.3L142.6 262.5M150.4 264.1L152.5 263.7L154.7 264.9L152.5 266.5L149.7 267.3L148.3 266.5L150.8 265.7L150.4 264.1M146.1 264.5L148.3 264.9M150.8 264.9L152.9 265.3M224.8 273.2L228.7 273.6L231.6 274.8L233.0 276.4L230.5 275.6L226.9 274.4L224.8 273.2M260.8 282.3L260.4 282.0L260.1 282.3L260.4 282.7L260.8 282.3M262.5 283.9L262.2 283.6L261.8 283.9L262.2 284.2L262.5 283.9M264.0 285.5L263.6 285.2L263.3 285.5L263.6 285.8L264.0 285.5M265.8 288.3L265.4 288.0L265.0 288.3L265.4 288.6L265.8 288.3M266.5 290.7L266.1 290.3L265.8 290.7L266.1 291.0L266.5 290.7M266.8 293.0L266.5 292.7L266.1 293.0L266.5 293.4L266.8 293.0M263.6 294.6L263.3 294.3L262.9 294.6L263.3 294.9L263.6 294.6M130.1 276.4L131.9 276.0L133.3 276.2L131.5 276.8L130.1 276.4M98.8 224.9L96.8 225.1L96.3 228.1L95.6 230.9L98.1 231.3L98.8 228.9L98.4 226.9L98.8 224.9M96.8 233.5L95.7 233.4L95.4 234.7L95.4 235.9M97.2 233.7L97.3 234.9L97.4 233.7L97.8 233.5M96.0 232.7L97.1 233.9L98.0 234.5L97.2 235.6M96.8 232.2L95.8 232.0L95.0 233.1L95.5 233.0L95.8 233.0M97.5 232.3L97.7 232.4L97.2 231.6L97.7 232.3L97.9 232.3L98.8 231.6L98.3 230.3M96.1 232.0L95.3 232.1L94.1 231.6L94.8 231.4L95.7 231.9L96.2 231.6M97.6 231.9L98.7 232.0L99.1 233.2L99.6 232.8M98.9 231.2L99.5 230.1L99.1 228.9L98.7 228.6L98.7 229.4L98.2 228.7M97.0 231.0L96.0 231.2L96.1 230.1L96.9 229.1L96.4 229.3L96.0 228.3L97.1 229.2M96.3 232.4L95.1 231.5L94.3 232.1L93.4 232.0L93.7 232.5M95.1 234.1L94.9 233.1L96.1 232.6L96.2 232.9M96.2 234.9L95.1 236.1L94.4 237.0L94.0 238.2L92.7 239.2L91.7 239.6L90.6 238.5M97.1 235.5L98.3 235.2L98.2 236.3L98.2 235.0L98.1 235.5L97.2 234.8M97.7 234.9L97.7 235.7L98.8 236.1L99.3 234.9L100.0 235.5M97.3 235.6L97.3 234.5L97.0 235.3L97.1 235.3L97.4 235.0L98.1 234.2M95.4 234.4L95.9 235.1L96.0 235.5L94.8 236.8L94.3 237.5L94.7 236.2L94.6 235.0M98.7 232.9L97.7 234.0L97.6 234.5L97.6 233.1L97.9 234.5L98.9 235.0M97.3 233.2L98.3 232.4L98.9 232.5L98.1 231.7M95.9 233.2L95.8 232.6L94.8 233.5L96.0 234.8L96.3 234.9L96.7 234.6L96.9 234.7M98.5 234.5L97.3 233.7L97.9 234.8L98.5 235.8L99.7 236.6M98.2 237.7L97.6 238.5L97.9 239.1L97.7 240.2L98.7 240.6M96.1 236.6L96.9 235.6L96.0 236.6L96.0 235.5L96.7 235.2L97.4 236.2L96.5 235.9M94.4 237.7L95.1 238.8L95.3 239.5L94.7 238.7L94.7 238.5L95.4 237.4L95.2 237.1M96.3 236.8L96.2 236.7L96.2 235.5L96.6 234.4L97.8 235.1L97.9 233.9M98.0 237.5L97.7 238.0L98.2 238.2L97.4 238.8M94.4 235.3L93.5 234.2L94.7 235.0L95.8 235.3L95.8 233.9L96.6 234.8M96.0 235.8L95.8 236.2L94.7 236.6L94.3 236.7L94.8 237.0L94.9 237.6M98.6 236.6L99.8 237.7L99.2 239.0L99.9 239.6L99.0 239.8M98.3 235.2L98.1 235.1L98.2 235.1L97.7 235.7L98.5 236.6L99.5 237.2M93.9 236.6L92.9 235.6L91.8 234.6L91.7 235.1L91.8 233.9L91.2 234.9M96.1 239.3L97.3 240.0L96.5 238.8L96.8 238.7M94.4 238.9L93.8 238.1L95.0 239.3L93.8 239.3L95.0 239.3M94.6 238.9L95.0 238.8L95.9 237.5L95.5 238.3L94.8 239.1L95.7 238.5L94.8 237.1M98.5 238.1L97.4 237.5L96.8 238.4L95.8 237.4M97.9 238.5L98.2 237.9L97.0 238.8L96.5 240.2L96.1 240.6L97.3 241.1M93.5 237.0L93.1 238.4L92.8 238.5L92.8 239.3L92.8 240.7M94.7 238.6L94.9 238.9L94.4 238.5L93.4 237.3L94.2 238.2L95.2 237.4L95.5 236.7M97.1 237.8L97.7 237.4L96.5 236.5L97.5 236.1L98.1 235.3L97.2 235.2M96.0 237.1L96.8 236.9L97.8 236.4L98.2 237.1M93.4 238.5L94.6 238.9L94.5 240.1L93.3 240.0L92.6 240.7L92.5 241.9M97.7 240.0L98.1 241.2L98.7 241.9L97.7 242.5M96.7 241.4L96.7 241.7L96.7 241.2L97.3 240.8L97.7 242.0L96.8 242.7L97.4 243.2M95.9 241.7L95.9 240.4L94.9 241.2L94.9 240.6M94.5 240.8L95.7 240.7L95.3 241.8L95.2 242.4M93.5 240.8L94.7 241.1L95.7 239.9L94.7 241.0L95.3 241.7L95.0 241.4L95.3 242.0M93.7 240.0L94.6 240.1L93.5 241.5L93.4 241.6L92.9 242.6L92.6 243.1L93.4 244.5M96.8 239.1L97.9 239.9L96.7 239.3L96.1 240.5M95.0 239.0L94.7 239.2L94.1 240.5L93.1 239.6M94.5 238.9L95.7 239.1L95.2 238.3L95.9 238.5L94.8 237.8M95.1 239.0L95.6 240.3L96.2 240.4L96.8 240.0L96.3 241.3M96.7 243.5L96.5 244.1L95.9 243.4L96.3 243.7L95.6 243.7L96.0 244.8L96.4 246.0M94.9 242.1L94.8 242.6L95.4 242.8L95.5 243.5L94.7 243.3M94.1 243.0L95.1 242.3L94.8 242.6L94.9 242.9L94.5 244.1M93.9 241.8L94.4 241.7L95.1 240.8L94.1 239.7L93.8 239.3M94.6 243.1L93.7 243.3L94.3 242.5L95.5 242.5M93.1 240.9L94.2 241.6L93.3 242.6L93.3 242.1L94.4 241.4L94.8 240.7L94.7 240.6M92.9 241.2L93.1 242.5L93.6 241.2L93.9 241.1L93.8 240.4M93.2 242.2L92.9 242.9L93.1 244.3L92.6 244.4L93.8 244.0M96.5 241.8L96.6 243.1L96.4 242.7L95.3 243.5L96.3 243.1M93.1 242.3L94.1 243.1L93.0 243.5L92.8 243.0L92.0 242.2L92.6 242.2L91.9 240.9M94.1 248.5L94.0 249.1L95.0 250.2L95.3 249.9L96.2 249.9M96.6 250.0L97.7 251.2L96.5 250.9L96.3 250.3L95.5 250.5M95.8 249.5L97.0 248.3L96.6 249.1L97.7 248.4M92.9 248.8L93.7 247.4L93.6 248.5L92.5 249.7L92.3 248.6L92.5 247.9L92.2 247.1M94.1 248.5L92.9 248.6L92.6 247.4L91.9 247.8M96.6 249.0L95.9 248.7L95.7 249.0L95.6 248.2L94.5 249.0L93.4 248.7L93.1 249.2M96.8 249.0L97.9 249.6L98.4 249.3L99.2 248.1L98.1 247.2L97.1 246.6M94.7 247.5L95.8 246.7L94.8 246.7L93.6 245.5L93.1 245.0L92.3 245.7M96.4 248.2L96.4 248.5L95.6 248.7L96.0 248.8M95.1 248.8L96.0 247.4L95.4 248.6L94.4 248.6L95.0 248.7L94.3 248.9L94.6 248.5M95.5 250.4L96.2 250.9L95.6 251.6L95.0 252.3M93.8 251.7L93.0 250.6L93.2 251.1L92.9 249.7L92.9 250.5M95.8 250.8L94.8 250.8L95.6 249.9L96.6 251.2M93.1 251.8L93.3 250.9L92.5 252.1L92.6 253.0L92.8 252.2M95.0 252.0L94.3 252.4L93.4 253.2L92.8 253.0L93.2 253.8L92.0 254.3M95.1 250.7L94.1 252.0L94.1 252.0L93.8 251.2L94.2 252.2L94.3 251.8M93.6 250.5L94.0 250.8L92.9 250.1L93.9 250.3L92.7 249.6L93.4 249.2M93.6 250.3L93.4 251.2L92.5 252.3L92.6 252.7M95.6 250.8L95.7 250.4L96.8 251.6L97.1 251.9M94.2 250.8L93.3 251.7L92.3 252.0L92.9 251.2L93.7 251.7L94.5 253.0M96.7 253.4L95.6 252.8L96.1 251.7L96.4 250.8L96.7 250.4L96.0 250.5L96.2 251.8M96.8 253.7L95.9 254.4L96.4 253.3L95.3 253.2L95.9 254.4L96.8 255.5M94.8 252.9L95.1 253.5L94.5 253.8L94.2 253.8L93.4 255.1L94.6 255.2M93.8 252.8L94.7 251.9L94.4 253.1L94.1 253.5L94.8 253.5L95.2 254.8L94.3 253.6M93.0 252.6L91.9 252.6L91.6 251.3L90.7 250.4M97.2 251.6L96.4 250.3L96.4 249.0L97.4 249.9M95.9 251.2L96.7 250.9L96.1 251.4L96.4 250.3M93.9 252.5L93.2 253.2L93.2 253.7L92.0 254.6L91.2 253.4L91.6 252.3L90.8 251.5M91.8 252.0L93.0 252.1L93.0 251.6L94.0 252.3L94.1 251.3L94.7 251.7M93.4 252.3L93.1 251.6L92.9 252.5L93.5 253.7L94.3 254.4M95.1 254.1L95.6 253.4L94.9 254.0L95.3 254.2L94.9 255.4L94.9 255.1M91.3 255.9L90.8 255.8L90.8 256.1L90.4 257.1L90.0 256.2L89.2 257.5M96.1 254.6L95.1 254.2L96.0 253.4L95.8 254.1L94.6 253.7L94.7 254.1L95.1 254.3M97.0 254.6L96.1 255.9L95.0 257.3L94.3 258.2L95.3 259.3M94.9 254.7L94.0 255.5L94.3 255.5L94.6 254.7L93.8 255.2M92.9 254.9L93.4 256.3L94.3 255.6L94.2 254.9L94.1 255.7L93.1 256.4L91.9 256.9M95.8 253.6L96.3 254.3L96.4 254.5L97.1 254.4L96.6 254.0L97.7 254.8M96.6 255.0L97.6 254.0L96.9 255.0L97.9 255.8L97.6 255.6L97.3 254.6M96.9 253.1L96.8 253.0L95.6 254.3L96.7 255.0L97.7 254.2L97.4 254.0L97.6 254.9M91.2 254.8L90.8 255.8L89.6 257.1L90.1 256.7L90.6 256.0M91.6 256.8L90.8 255.6L90.9 255.1L91.9 254.4L92.4 254.7L91.8 255.5M91.4 256.1L92.2 255.7L91.6 256.9L90.6 256.1M92.5 257.4L91.9 257.8L93.0 259.0L93.6 257.9L94.3 257.6L94.3 258.2L94.9 257.4M91.3 257.0L91.0 256.4L91.1 257.2L92.0 258.3M96.7 257.7L96.7 258.2L97.4 259.5L97.0 260.6M95.8 255.4L96.1 254.1L96.1 253.9L95.3 253.0L96.3 253.8L95.5 252.5L96.2 252.6M97.8 255.9L98.2 256.3L97.9 256.6L98.9 257.7M97.1 257.0L96.7 257.2L96.8 258.1L98.0 257.7L99.1 258.7M95.2 255.6L94.8 256.1L93.9 255.2L94.3 254.5M92.3 256.1L92.5 257.2L92.4 256.1L91.7 257.0L91.2 256.4L92.1 257.4M92.5 259.5L92.8 259.9L92.1 258.6L91.5 257.4L92.8 258.3L93.2 259.2M92.5 259.7L93.1 259.9L92.3 259.5L91.4 260.3L91.1 261.6L90.8 260.8M96.2 259.0L96.1 260.0L96.3 260.2L96.9 259.1L96.8 258.9L97.4 259.1M93.0 258.5L93.5 258.2L93.4 258.7L93.7 259.8L93.5 259.0M96.3 258.7L97.2 258.8L96.0 257.8L96.0 257.3L97.0 256.2L96.5 257.6M97.1 257.2L96.0 257.1L95.1 256.3L96.2 256.2M92.2 257.8L92.7 257.8L93.1 256.9L93.1 257.1L94.2 258.0M96.1 258.2L96.7 257.9L97.0 258.6L96.7 259.8M92.0 257.2L92.2 258.3L91.7 258.5L92.8 257.2L94.1 255.9L94.0 256.9M97.8 258.8L97.7 258.7L97.0 257.4L96.7 257.0L97.4 256.1M95.4 261.4L96.1 261.5L96.8 262.2L97.3 261.7L98.5 261.2M95.5 260.4L95.1 259.9L94.7 260.0L95.0 261.1L95.9 262.1L95.5 262.4M92.6 260.8L93.3 261.8L94.2 261.5L93.0 262.8L94.1 262.4L93.5 263.5M93.0 261.5L92.7 262.5L93.7 261.6L92.8 260.6L93.1 259.8L93.5 258.7L94.2 257.8M93.4 260.6L94.0 260.8L95.0 260.6L94.4 261.3M93.0 260.0L93.0 258.9L93.5 259.6L92.6 259.3M97.3 260.6L97.2 260.5L97.6 259.5L97.3 259.8L98.4 260.9L98.8 260.6M92.2 259.8L93.0 260.9L93.0 260.2L92.1 261.0L91.9 262.0L90.9 261.6M94.5 259.4L93.9 259.9L93.3 261.1L92.8 261.5L92.8 262.0M99.0 259.2L100.2 258.8L100.9 259.3L100.5 259.8L100.7 259.5L101.4 260.7M98.0 262.2L97.8 263.3L96.7 262.4L96.6 261.6M92.9 262.9L93.1 262.6L93.6 262.3L94.1 263.1L94.5 263.2L95.2 264.3L94.4 265.6M98.4 262.1L98.1 261.2L98.8 261.1L98.2 261.6M95.7 263.3L95.9 263.1L96.9 263.1L96.9 262.2L97.6 262.4L98.1 262.7L97.0 262.2M97.0 262.0L97.0 262.2L96.0 261.8L95.3 262.8L94.1 264.1M97.7 262.7L97.0 263.8L97.0 264.4L97.1 264.5M98.2 261.1L98.9 260.5L99.8 259.9L98.7 259.5L99.3 259.6L100.3 260.3M99.9 261.5L98.8 260.5L99.3 260.1L99.0 260.7M97.1 261.0L97.4 261.6L98.5 260.9L98.4 261.9L99.6 262.9L100.7 263.8L101.4 263.9M98.5 262.0L99.2 261.9L98.7 263.1L99.8 262.5L100.7 263.0L100.9 261.7M99.7 264.7L99.9 263.4L99.3 263.7L99.0 263.0L98.3 263.1L98.8 263.6M95.1 265.6L94.6 266.6L95.6 265.2L94.7 263.9M99.4 264.8L99.1 266.0L99.2 265.2L98.4 264.5L99.5 265.2L99.8 264.7L99.7 265.5M95.0 264.4L94.9 265.6L95.7 264.8L95.0 264.6L96.0 263.5L96.0 263.6L96.3 264.5M94.5 265.6L94.1 265.4L93.9 265.3L93.0 266.6L94.3 266.9L93.3 266.6M99.4 264.6L99.0 264.6L97.8 265.9L99.0 264.8M96.9 263.8L98.0 264.4L97.0 264.6L97.2 264.3L96.3 263.3L95.9 261.9M96.0 264.9L96.2 263.8L96.1 262.6L97.1 263.8M97.8 264.1L98.3 265.3L97.9 266.0L96.9 264.8M97.1 264.6L96.7 265.3L97.3 266.2L98.4 265.0L97.3 264.8M94.2 266.1L94.9 265.5L95.3 264.1L94.2 265.1L94.8 263.9L95.3 264.5M99.2 266.4L99.2 266.7L98.9 267.1L98.6 267.3M101.2 266.1L101.1 264.9L101.8 265.9L102.7 267.1M99.5 267.2L100.2 265.9L101.2 266.2L100.1 267.4L101.2 267.9M96.1 267.7L95.2 268.4L94.1 267.8L94.2 268.8L95.1 269.5L94.9 270.4M96.4 265.2L97.2 265.9L96.2 266.0L96.1 267.0L96.2 266.6L96.9 265.4M99.0 265.3L98.4 266.1L98.0 264.7L99.3 263.5M94.9 266.3L93.7 265.7L93.2 264.4L92.0 263.5L91.6 264.5M94.0 265.3L93.2 265.4L94.2 266.2L94.4 267.2L93.6 266.5L94.2 267.3M94.7 266.7L95.3 267.6L94.4 267.2L94.8 268.0L94.3 269.4L94.8 269.3L95.6 268.2M100.0 269.2L100.9 268.2L100.9 269.5L101.9 269.6L102.8 270.2L102.0 269.3M98.6 269.6L98.8 268.6L98.5 267.4L99.6 268.5L99.3 269.3L100.1 268.1M102.4 268.2L101.9 269.2L102.5 269.4L101.3 268.5M96.5 269.4L95.8 270.3L94.8 271.0L95.6 272.3M96.1 268.5L95.5 267.6L95.9 267.7L95.2 267.8L94.8 268.9M96.9 268.3L96.9 268.3L96.3 269.4L96.1 270.4L96.3 269.4L95.4 269.2L96.1 270.1M102.9 267.0L103.4 266.8L103.6 268.0L104.8 269.3L104.4 269.6L105.3 269.0L106.1 268.8M104.4 268.2L105.2 269.5L105.3 268.2L106.3 268.9L106.2 268.5L105.8 268.5L104.7 268.6M99.9 268.8L99.7 269.1L100.9 269.3L99.8 267.9L101.0 269.2M103.2 267.7L103.6 266.8L102.4 267.9L101.5 269.3L100.8 270.5L99.8 271.0M98.7 271.7L97.6 271.5L98.7 271.7L98.7 270.6L99.8 270.4L99.2 269.7M104.4 271.3L104.7 271.1L105.0 271.9L105.6 272.0L105.7 271.7L105.6 272.2L105.0 273.0M102.1 271.1L100.9 271.5L101.8 272.2L101.9 272.3L101.4 270.9L100.9 270.1L100.0 271.3M105.7 271.0L105.7 270.1L105.4 269.3L105.4 268.0M103.8 270.0L103.4 270.4L103.8 270.1L104.7 269.2L104.7 268.5L105.3 267.8L105.3 267.0M104.1 269.1L103.9 270.2L103.6 270.0L102.7 270.3L103.9 271.3M105.5 270.3L105.2 270.4L105.1 269.8L104.6 270.1M102.5 270.1L101.3 269.4L102.5 269.8L102.0 269.6L102.8 269.8L102.5 270.6M105.2 270.2L106.3 271.0L106.2 269.9L104.9 271.1L105.1 271.2M106.2 269.3L106.2 269.3L106.7 269.6L106.3 269.3L106.0 268.1L106.4 268.0L105.4 268.4M103.1 272.3L104.1 271.0L104.1 271.2L104.4 269.8L104.0 269.7M107.3 273.1L106.9 274.3L106.5 275.2L106.9 275.7L106.5 274.5L106.5 273.2M105.4 272.4L105.4 273.3L104.7 272.9L104.9 273.3L106.1 272.9M99.6 272.6L99.1 272.1L97.8 272.6L98.7 272.4M105.8 273.0L106.5 272.9L107.4 271.8L107.4 272.8L106.7 272.5L105.8 272.4L105.8 273.7M99.9 270.6L100.7 270.3L101.5 271.5L100.3 270.7L99.8 270.1L99.5 271.0L98.9 272.2M108.2 271.3L107.4 271.0L106.2 271.7L105.9 271.0L104.8 272.2L104.1 273.0M100.7 271.3L100.3 270.2L101.1 270.7L101.3 269.4L101.3 268.2M101.6 271.7L101.4 272.0L101.9 273.3L102.8 274.4L102.0 274.8M99.2 270.7L99.4 271.8L99.5 272.1L99.2 273.3L98.3 272.4L97.9 273.1L97.1 273.7M104.0 275.0L103.6 275.9L104.1 277.0L103.5 276.1M102.9 274.1L102.1 274.6L102.6 274.9L103.8 275.7L104.9 275.7M103.9 274.1L105.0 272.7L105.2 272.9L106.5 272.8L106.2 272.8M102.9 273.5L103.0 274.2L103.7 274.5L104.1 274.3M104.7 274.2L105.2 273.5L104.6 274.3L105.5 275.5M110.7 272.4L110.0 271.8L109.0 272.4L109.7 272.7L109.4 271.7L109.3 271.4M107.9 272.3L107.1 272.7L107.8 272.2L108.8 273.5L109.3 273.6L110.6 273.9M110.7 273.8L109.7 272.7L110.3 272.1L109.1 273.4L108.3 274.2L107.8 274.5M102.0 273.4L102.2 274.2L102.2 274.1L103.2 273.6L103.4 272.4M102.8 272.5L103.8 271.5L104.0 270.9L105.1 270.4L104.0 270.9L104.7 271.4M112.9 275.4L114.2 275.1L113.5 275.0L113.1 273.7L113.0 274.2L113.0 273.7L113.8 273.3M109.2 274.9L109.0 274.8L110.1 275.9L110.7 277.1L111.2 276.3M106.9 275.1L107.0 275.8L105.9 276.2L105.7 277.0L105.2 278.1M111.0 274.9L111.5 276.3L112.0 277.3L112.4 276.7L111.5 276.1M109.9 275.7L110.0 275.0L109.2 274.5L109.5 274.7M111.6 273.6L112.1 274.9L112.0 276.2L113.0 276.7M105.5 274.6L104.7 274.8L104.8 275.3L105.0 276.6M108.8 273.3L107.8 272.7L109.0 272.5L108.0 272.5L107.8 273.4L108.0 274.8L109.0 274.4M110.3 273.4L110.7 274.5L111.3 275.9L111.0 276.8L110.7 275.6L110.8 274.5M110.8 275.0L111.4 275.5L110.6 274.6L110.2 275.0L110.3 275.3L111.1 276.0M108.0 276.3L109.1 275.0L109.0 275.0L108.2 275.6L108.4 276.8L108.9 277.7L108.7 276.4M108.5 277.3L108.4 278.1L108.1 279.4L108.4 278.5L108.4 279.5L107.3 280.7L107.8 279.6M108.2 277.4L109.2 278.3L108.7 278.5L108.9 278.9L108.1 280.0M110.5 276.5L111.6 275.2L111.9 274.3L110.8 273.9L111.1 274.4M112.6 275.5L113.0 276.5L113.9 276.4L114.2 275.5L113.5 274.8L114.0 275.8L114.2 275.6M115.7 275.7L115.9 276.0L114.9 276.9L115.9 276.7L115.0 275.7M109.9 276.2L110.4 277.0L110.3 276.9L110.8 276.2L111.8 276.0L112.7 275.5M114.5 276.1L114.8 274.9L114.9 275.0L115.3 274.9M116.0 276.0L116.6 277.0L117.3 278.3L116.7 278.6L115.5 278.4L114.8 278.9L115.3 279.1M115.3 275.2L115.4 274.0L116.4 274.9L117.0 275.4L117.6 274.9M117.4 278.3L117.4 278.3L117.0 278.3L117.8 278.7L117.5 279.2L117.7 280.5M118.0 278.1L117.3 278.3L118.1 278.0L117.1 279.4L116.2 278.5L115.4 278.4M113.2 277.2L114.0 277.0L113.4 275.6L114.0 276.2L113.9 277.6L115.1 277.6L115.1 278.9M117.5 278.4L118.3 277.1L118.8 277.3L118.1 276.0L118.2 276.4L118.2 276.9L117.3 276.6M112.5 277.0L112.1 277.1L113.2 277.6L112.8 277.6L112.1 278.3L113.1 278.0L113.4 277.4M112.0 276.8L112.0 277.5L112.2 277.4L113.3 276.1M111.2 276.5L112.1 275.7L112.4 275.4L112.1 276.0M117.1 275.9L117.6 276.4L118.2 275.7L118.3 275.4L117.9 275.2M114.1 277.5L114.5 276.4L115.2 276.4L116.2 275.5L117.4 276.5L116.7 275.4M116.2 276.8L116.3 277.3L115.5 278.5L115.0 279.1L115.6 278.9L116.7 279.4L117.7 279.1M115.0 279.4L116.2 279.8L116.9 280.0L117.8 281.2L117.7 280.1L117.2 280.8M114.6 279.4L113.9 280.8L112.8 280.9L113.8 281.5L113.8 282.6L113.2 283.9M115.3 279.7L116.1 278.6L115.7 279.6L114.9 279.5M120.1 278.5L119.3 279.0L120.0 278.6L119.7 278.1M116.6 279.7L117.4 280.8L117.6 280.0L118.9 280.3L120.0 279.3L118.8 279.8L119.2 280.3M117.1 277.4L116.3 278.7L115.5 278.6L116.4 279.0L116.0 279.5L116.5 278.4M115.4 276.8L114.8 276.5L115.5 276.6L114.4 276.2L114.8 276.0L115.3 275.9M116.8 277.7L115.9 279.1L115.8 278.7L116.5 279.0L117.7 279.8L118.3 280.9M114.6 278.5L114.7 279.3L115.4 280.0L115.7 279.3M120.2 277.1L120.3 277.5L120.8 277.6L121.7 278.4L122.8 277.3M119.3 280.5L118.3 279.9L117.3 279.5L117.0 278.5M117.9 279.8L118.9 280.2L119.3 279.2L118.2 280.5L118.7 281.2L118.3 281.7L118.1 282.3M121.4 280.0L121.4 278.8L122.0 277.5L121.1 278.1L120.1 279.4M121.4 280.5L121.8 280.2L121.7 280.0L122.7 280.8L123.6 281.2L124.3 280.2M118.4 279.3L118.9 278.4L118.0 277.3L117.1 277.8L117.1 278.2L117.7 278.3M119.4 279.2L120.3 277.8L119.1 278.6L119.9 278.0L118.7 278.0L118.1 278.2L117.1 279.5M121.9 279.3L120.9 279.4L120.0 279.6L119.2 279.1M118.3 278.5L118.4 277.6L119.5 278.7L120.7 277.8M121.8 279.5L121.2 280.4L120.7 281.6L119.5 281.6M119.4 278.9L118.8 279.4L117.7 279.5L117.1 280.0L116.9 278.6L117.5 279.2M298.9 -2.4L298.0 1.0L299.6 2.2L300.6 5.5L300.6 7.5L300.3 9.9L301.4 11.5L302.6 12.3L302.4 14.3L304.9 14.7L307.1 16.2L308.8 18.6L311.3 21.0L312.9 23.2L313.3 26.1L314.5 28.1L315.9 30.1L319.5 32.5L322.0 34.5M32.2 2.0L32.4 0.0L32.2 -1.2M39.7 5.0L41.5 3.2L42.4 2.3L42.9 0.4L44.0 -1.6M42.4 2.3L45.4 4.2L47.9 4.4L48.1 6.3L47.9 6.9M49.5 7.9L51.1 6.9L51.8 4.8L53.9 4.0L55.4 4.4L57.5 2.0L59.6 1.2L61.8 0.8L64.3 0.0M55.4 15.6L58.2 16.0L60.3 15.8L61.8 16.8L62.7 16.1M65.3 27.6L65.5 25.7L65.0 24.2L66.0 23.4L65.3 22.0L66.5 21.5M85.1 25.1L84.7 27.7L85.6 28.1L84.4 29.7L83.1 30.9M106.6 12.5L104.3 13.3L103.2 15.2L102.3 16.0L100.9 18.0L100.6 20.6L99.3 23.0L100.7 23.4L101.5 25.3L102.7 26.3L102.5 29.9L104.1 31.7L107.7 31.5L110.9 31.7L113.2 35.2L116.6 35.0L120.3 34.8L118.9 38.4L119.1 41.6L119.8 44.5L120.9 45.9L118.9 48.1L121.2 50.3L121.9 52.7L122.5 54.5M122.5 54.5L121.6 54.6L121.6 52.7L120.5 50.9L117.7 51.7L117.8 52.6L111.8 52.7L111.8 55.2L114.1 56.8L111.1 57.2L111.1 60.0L112.7 61.4L113.4 63.8L111.4 76.1M111.4 76.1L110.2 74.6L108.8 74.4L111.1 70.1L108.0 68.3L105.2 68.1L103.1 69.1L100.9 68.9L99.9 66.5L98.1 64.5L95.6 61.6L92.7 59.8M92.7 59.8L91.3 59.2L88.8 57.8L86.0 58.0L84.5 56.6L82.8 56.0L80.6 54.6L79.7 53.7M92.7 59.8L92.4 63.2L91.5 65.5L87.8 69.7L83.3 71.3L81.5 72.9L80.3 77.6L79.2 79.2L77.6 77.2L75.1 76.4L74.0 75.2L74.6 72.9M111.4 76.1L108.4 76.0L104.1 77.6L100.9 79.6L99.9 83.4L98.1 86.7L97.0 88.5L98.1 88.5L100.6 94.6L99.9 96.6L102.7 97.0L103.6 99.0L106.6 99.0L109.1 97.0L109.5 103.0L112.8 102.8M112.8 102.8L116.1 108.9L114.8 113.3L115.3 115.6L113.6 118.0L114.3 120.0L112.7 121.6L114.8 123.6L114.6 125.1L112.5 127.9L113.1 128.7M113.1 128.7L112.0 129.3L109.9 132.1M113.1 128.7L114.5 130.7L115.0 134.6L116.8 136.2L115.7 140.2L117.7 143.7L118.4 146.5L118.9 149.9L121.3 149.8M121.3 149.8L121.9 150.5L120.7 154.4L117.3 156.4L116.4 159.6L116.9 163.2L117.3 165.9L115.5 166.7L114.5 169.9L112.3 171.9L111.4 175.0L111.6 179.0L109.5 182.6L110.2 185.7L111.1 189.7L112.0 191.3L111.8 195.2L109.8 198.8L109.8 202.4L107.2 204.7L107.7 208.7L108.0 212.3L105.6 216.2L104.8 219.4L104.5 224.1L105.0 227.7L103.8 230.1L105.2 232.5L105.2 235.2L106.6 236.8L105.6 239.6L105.0 242.0L104.5 245.1L102.9 247.5L102.3 251.5L98.8 253.8L99.9 257.4L99.9 260.2L103.1 260.0L102.9 263.7L104.5 265.3L111.2 265.3L116.8 266.6M116.2 267.9L116.2 276.8M121.3 149.8L122.8 147.3L124.6 145.7L126.4 146.9L130.5 147.3L131.5 149.9L132.8 146.5L136.9 146.5L137.4 147.5M137.4 147.5L143.3 153.6L148.6 156.0L154.0 158.8L155.4 159.6L154.0 163.2L151.8 167.5L157.5 168.1L159.7 168.5L161.4 167.7L164.6 165.5L165.7 163.5L166.1 160.8M166.1 160.8L168.7 160.8L169.5 163.4L169.1 165.9L168.9 166.9L165.4 168.5L161.8 171.5L159.0 174.6L157.2 177.2L155.2 179.0M155.2 179.0L154.3 182.2L153.6 186.1L153.3 190.1L152.4 192.5M155.2 179.0L158.2 179.4L161.1 181.4L162.7 181.8L166.4 184.1L168.9 186.1L170.3 188.5L170.0 191.3L170.5 193.1M166.1 160.8L167.1 154.8L163.2 154.2L162.5 149.1L159.7 146.9L154.1 146.9L154.5 142.2L153.4 139.2M153.4 139.2L150.1 136.0L140.6 137.2L138.8 140.8L137.4 147.5M153.4 139.2L154.5 134.6L155.8 131.5L154.9 128.9L152.5 127.7L152.7 123.9L146.3 123.8L146.0 119.2L145.1 114.0L140.4 112.9L136.9 110.9L134.4 109.1L131.2 108.7L129.0 106.5L127.8 103.0L128.0 99.0L127.6 97.8L123.4 98.6L120.1 101.8L118.4 101.6L116.2 103.4L112.8 102.8M122.5 54.5L124.4 56.4L127.3 56.6L128.7 54.8L131.5 53.7L132.6 51.7L134.7 50.9L134.7 49.9L132.6 49.5L131.9 47.1L131.9 45.1L130.5 43.0L132.6 43.2L135.1 43.8L136.5 45.1L137.2 43.4L140.1 43.0L143.3 41.6L144.3 38.8M144.3 38.8L141.9 35.8L142.8 32.9L145.6 31.7L144.4 29.7L146.8 27.5L146.9 25.5M144.3 38.8L146.5 38.8L147.0 41.6L148.5 44.0L147.6 46.1L146.9 48.7L147.7 52.1L149.7 54.1L152.2 54.3L154.0 53.5L156.5 51.7L159.4 51.7M159.4 51.7L156.6 46.1L155.2 43.6L154.1 40.8L156.6 38.8L157.0 35.8M159.4 51.7L161.1 50.1L164.3 49.3L166.1 50.2M166.1 50.2L167.5 47.5L168.2 45.1L166.6 40.8L166.8 39.2L168.2 36.6M166.1 50.2L168.9 50.3L172.1 50.7L174.1 47.1L175.7 44.4L176.6 42.8M300.6 5.5L303.5 5.5L305.6 5.0L308.5 5.5L311.1 5.9L308.5 6.7L305.6 6.3L303.5 7.1L300.6 7.5M300.8 10.5L305.3 9.3L311.7 9.3L316.3 10.5L319.9 11.3L322.0 10.7M311.7 9.3L311.7 13.1L308.1 13.9L307.1 16.2M313.1 23.6L315.9 20.4L320.4 19.8L322.7 22.6M316.7 -2.4L317.0 1.2L318.4 6.3L319.9 10.3L319.9 11.3M319.5 32.3L322.7 28.5L323.8 25.7M165.1 49.9L167.9 53.5L170.7 56.2L172.1 59.4L173.4 61.8L175.7 64.0M150.2 58.8L152.2 61.8L154.7 64.2L157.5 67.3L159.7 68.1L160.4 68.5L157.9 75.2L155.0 82.0L152.7 88.5M152.7 88.5L153.3 91.1L155.0 94.2L156.5 95.8L158.6 96.6L181.7 98.4M181.7 98.4L183.9 95.0L185.3 91.1L185.3 87.1L187.4 84.0L187.3 80.7L188.5 80.0M188.5 80.0L190.3 78.4L191.7 76.4L193.8 72.5L194.9 68.5L196.5 63.8M188.5 80.0L191.3 81.2L191.5 85.3L191.7 87.9L194.9 91.1L196.9 94.2L196.0 97.4L197.0 100.0M211.6 70.3L210.2 72.9L208.1 77.2L208.1 79.6L207.4 83.2L207.4 86.1L204.9 85.9L202.0 87.9L199.2 90.7L198.5 93.9L197.0 96.2L197.0 100.0M213.4 70.9L213.6 73.3L213.8 77.2L215.2 80.0L214.8 83.2L215.9 85.9L216.3 88.7M216.3 88.7L215.9 91.1L214.5 93.1L213.2 94.0M213.2 94.0L210.9 96.2L207.7 96.6L204.9 99.0L202.7 101.4L199.5 102.6L197.0 100.0M227.8 78.6L225.9 81.2L224.8 83.2L223.2 84.7M223.2 84.7L222.9 87.1L222.7 89.9M222.7 89.9L220.5 89.3L218.0 88.7L216.3 88.7M235.8 85.1L234.1 84.9L230.5 84.3L229.8 86.7L227.7 85.9L226.9 83.6L225.2 84.3L223.2 84.7M236.4 89.3L234.1 88.9L230.5 90.3L228.7 91.9L227.7 89.9L225.2 90.1L222.7 89.9M235.3 94.6L232.3 95.4L230.2 96.2L226.9 95.0L225.2 95.8L224.5 96.4M230.9 101.0L229.4 99.8L227.3 98.2L225.2 97.2L224.5 96.4M227.5 104.7L225.5 104.1L224.5 101.8L225.9 99.8L225.2 97.2M224.5 96.4L222.7 94.2L220.5 93.3L218.0 95.0L216.3 96.6L215.2 96.6L214.5 95.4L213.2 94.0M196.5 118.6L200.2 118.4L203.1 116.0L204.5 116.0L207.4 117.6L209.1 119.2L210.9 118.6L213.4 121.8L214.8 121.6L217.3 122.8L216.3 125.1L217.0 127.9L215.9 128.7L217.2 130.5M219.3 132.1L217.2 130.5M217.2 130.5L214.8 131.9L214.5 134.6L214.1 138.2L211.6 139.8L211.5 141.6L211.8 142.6M211.8 142.6L213.4 143.4L214.6 143.7M211.8 142.6L209.9 145.3L207.4 146.5L204.5 146.9L202.7 147.5L201.3 148.1M201.3 148.1L203.1 148.9L203.1 150.1L201.7 150.9L201.2 151.9M201.3 148.1L198.5 149.1L197.0 149.9L195.3 150.1L194.6 147.7L194.4 144.5L193.1 142.6L192.4 140.6L192.1 138.8L187.8 139.0L184.9 138.4L181.4 138.0L178.9 139.0M178.9 139.0L176.8 142.2L175.3 144.5L173.5 146.5L171.4 148.9M171.4 148.9L175.3 148.7L178.9 149.3L182.4 150.3L183.5 150.9L183.9 152.9L184.9 155.6L187.4 157.2L189.2 159.6M187.4 162.4L184.6 163.0L181.4 162.6L178.5 163.4L177.1 164.7L173.5 163.9L171.1 163.4L169.5 163.4M183.4 175.5L182.1 173.8L182.4 172.1L179.6 171.1L178.9 169.7L175.7 168.3L172.5 167.1L168.9 166.9M171.4 148.9L168.2 152.1L167.3 154.6M154.9 128.9L158.6 127.9L162.5 129.1L165.4 128.9L168.2 129.1L169.3 130.7L171.4 130.9M171.4 130.9L174.3 133.5L177.8 135.8L179.1 136.6L178.9 139.0M179.1 136.6L182.4 134.6L184.2 133.1L185.3 132.3L188.9 132.1L191.7 131.1L192.1 128.7L192.1 125.5L192.8 122.8L193.8 122.4L194.6 119.6L196.5 118.6M196.5 118.6L196.3 114.8L195.6 111.3M195.6 111.3L193.1 111.3L190.6 112.1L187.8 111.3L184.9 111.7L181.4 110.3L180.1 110.5M180.1 110.5L180.0 106.9L180.0 103.0L181.0 100.2L181.7 98.4M195.6 111.3L196.0 106.9L195.3 105.3L196.3 102.2L197.0 100.0M180.1 110.5L178.9 114.8L176.8 118.8L174.3 122.4L172.1 125.1L171.4 127.9L171.4 130.9M145.4 113.7L146.8 108.9L147.2 105.7L145.4 103.4L141.5 103.0L141.3 99.0L141.2 94.2M141.2 94.2L152.5 94.4L152.7 88.5M141.2 94.2L137.9 92.5L136.2 90.9L133.7 91.1L130.8 93.5L127.3 96.6L122.6 98.2M122.6 98.2L97.7 88.3M122.6 98.2L123.4 98.6M134.7 50.9L136.9 54.6L138.8 56.0L138.5 61.6L141.0 65.2L143.3 62.6L145.2 60.2L150.2 58.8L150.8 54.4M188.7 120.8L191.9 120.8L192.1 123.0L188.7 123.0L188.7 120.8" fill="none" stroke="#9a9a9a" stroke-width="0.7" stroke-linejoin="round"/>
<circle cx="79.8" cy="120.6" r="1.7" fill="#ff9e0a"/>
<rect x="212.6" y="190.3" width="29.3" height="9.8" fill="#fff"/>
<path d="M-0.4 165.9C2.3 166.5 9.7 168.3 15.7 169.7C21.7 171.1 29.0 172.9 35.7 174.3C42.4 175.7 49.1 177.1 55.8 178.3C62.5 179.5 69.2 180.7 75.9 181.7C82.6 182.7 90.6 183.5 96.0 184.3C101.4 185.1 104.0 185.6 108.0 186.3C112.0 187.0 115.3 188.4 120.0 188.7C124.7 189.0 130.7 188.0 136.1 188.1C141.5 188.2 147.3 188.9 152.2 189.3C157.1 189.7 161.9 190.3 165.6 190.7C169.4 191.1 169.9 191.3 174.7 191.7C179.6 192.2 188.4 192.9 194.7 193.4C201.1 193.9 209.8 194.6 212.8 194.8M241.9 191.7C243.4 190.9 248.0 188.5 250.9 186.7C253.7 184.9 256.3 182.4 259.0 180.7C261.7 179.0 263.7 177.5 267.0 176.3C270.3 175.1 274.3 174.2 279.0 173.7C283.7 173.2 288.0 172.9 295.1 173.3C302.2 173.6 317.2 175.4 321.6 175.8" fill="none" stroke="#78f073" stroke-width="1.8" stroke-linecap="round" stroke-linejoin="round"/>
<text x="227.3" y="198.8" text-anchor="middle" font-family='"Liberation Sans", Arial, sans-serif' font-weight="bold" font-size="10.0" stroke="#78f073" stroke-width="0.3" textLength="26.9" lengthAdjust="spacingAndGlyphs" fill="#78f073">12200</text>
<rect x="2.0" y="192.5" width="29.7" height="9.8" fill="#fff"/>
<path d="M-0.4 197.8C0.1 197.8 2.1 197.7 2.6 197.7M31.7 197.2C34.4 197.4 42.5 197.9 47.8 198.4C53.2 198.9 58.5 199.5 63.8 200.2C69.2 200.9 74.5 201.7 79.9 202.4C85.3 203.1 91.3 203.8 96.0 204.4C100.7 205.0 104.0 205.3 108.0 205.8C112.0 206.3 115.3 207.3 120.0 207.6C124.7 207.9 130.7 207.3 136.1 207.6C141.5 207.9 147.3 208.8 152.2 209.4C157.1 210.0 161.9 210.6 165.6 211.2C169.4 211.8 169.9 211.7 174.7 212.8C179.6 213.9 188.0 216.2 194.7 217.8C201.4 219.4 208.1 221.0 214.8 222.5C221.5 223.9 228.9 225.6 234.9 226.5C240.9 227.4 246.2 227.7 250.9 227.9C255.6 228.1 259.0 228.3 263.0 227.9C267.0 227.5 271.0 226.6 275.0 225.3C279.0 223.9 283.1 222.0 287.1 219.8C291.1 217.5 295.1 214.3 299.1 211.8C303.1 209.3 307.5 206.5 311.2 204.8C315.0 203.1 319.9 202.0 321.6 201.5" fill="none" stroke="#37cd3c" stroke-width="1.8" stroke-linecap="round" stroke-linejoin="round"/>
<text x="16.9" y="201.0" text-anchor="middle" font-family='"Liberation Sans", Arial, sans-serif' font-weight="bold" font-size="10.0" stroke="#37cd3c" stroke-width="0.3" textLength="27.3" lengthAdjust="spacingAndGlyphs" fill="#37cd3c">12000</text>
<rect x="35.5" y="215.6" width="29.5" height="9.8" fill="#fff"/>
<path d="M-0.4 227.2C2.3 226.5 9.7 224.0 15.7 222.9C21.7 221.8 32.4 220.9 35.7 220.5M64.8 220.5C67.3 220.8 74.7 221.5 79.9 222.1C85.1 222.7 90.6 223.5 96.0 224.1C101.4 224.7 106.6 225.1 112.0 225.5C117.4 225.9 122.8 226.3 128.1 226.5C133.5 226.7 137.9 226.6 144.1 226.9C150.4 227.2 160.5 227.8 165.6 228.1C170.7 228.4 169.9 227.8 174.7 228.5C179.6 229.2 188.0 230.7 194.7 232.3C201.4 233.9 208.1 236.1 214.8 237.9C221.5 239.7 228.2 241.7 234.9 243.3C241.6 244.9 248.3 246.4 255.0 247.5C261.7 248.6 269.0 249.5 275.0 250.0C281.0 250.4 285.8 250.7 291.1 250.2C296.5 249.8 302.0 248.7 307.1 247.3C312.2 245.9 319.2 242.7 321.6 241.8" fill="none" stroke="#1fa81f" stroke-width="1.8" stroke-linecap="round" stroke-linejoin="round"/>
<text x="50.3" y="224.1" text-anchor="middle" font-family='"Liberation Sans", Arial, sans-serif' font-weight="bold" font-size="10.0" stroke="#1fa81f" stroke-width="0.3" textLength="27.1" lengthAdjust="spacingAndGlyphs" fill="#1fa81f">11800</text>
<rect x="145.9" y="240.0" width="29.6" height="9.8" fill="#fff"/>
<path d="M-0.4 249.3C2.3 248.6 10.4 246.0 15.7 244.9C21.1 243.8 26.4 243.3 31.7 242.9C37.1 242.5 42.5 242.4 47.8 242.5C53.2 242.6 58.5 243.0 63.8 243.3C69.2 243.6 74.5 244.0 79.9 244.3C85.3 244.6 90.6 244.8 96.0 244.9C101.4 245.0 106.6 245.1 112.0 245.1C117.4 245.1 122.4 245.0 128.1 244.9C133.8 244.8 143.1 244.6 146.1 244.5M174.7 244.9C178.0 245.3 188.0 246.2 194.7 247.4C201.4 248.6 208.1 250.2 214.8 252.0C221.5 253.8 228.2 256.0 234.9 258.0C241.6 260.0 248.3 262.3 255.0 264.0C261.7 265.7 268.3 267.0 275.0 268.0C281.7 269.0 287.3 269.7 295.1 270.0C302.9 270.3 317.2 269.7 321.6 269.6" fill="none" stroke="#78b6fa" stroke-width="1.8" stroke-linecap="round" stroke-linejoin="round"/>
<text x="160.7" y="248.5" text-anchor="middle" font-family='"Liberation Sans", Arial, sans-serif' font-weight="bold" font-size="10.0" stroke="#78b6fa" stroke-width="0.3" textLength="27.2" lengthAdjust="spacingAndGlyphs" fill="#78b6fa">11600</text>
<rect x="155.0" y="256.5" width="29.7" height="9.8" fill="#fff"/>
<path d="M-0.4 270.9C2.3 270.2 10.4 268.0 15.7 267.0C21.1 266.0 26.4 265.4 31.7 265.0C37.1 264.6 42.5 264.5 47.8 264.4C53.2 264.3 58.5 264.5 63.8 264.6C69.2 264.7 74.5 264.8 79.9 264.8C85.3 264.8 90.6 264.7 96.0 264.6C101.4 264.5 106.6 264.3 112.0 264.0C117.4 263.7 122.8 263.4 128.1 263.0C133.5 262.6 139.6 261.9 144.1 261.6C148.6 261.3 153.4 261.1 155.2 261.0M184.7 261.4C188.1 261.8 198.1 262.7 204.8 264.0C211.5 265.3 218.2 267.4 224.9 269.4C231.6 271.4 238.2 274.0 244.9 276.1C251.6 278.2 258.3 280.4 265.0 282.1C271.7 283.8 278.4 285.1 285.1 286.1C291.8 287.1 299.0 287.7 305.1 288.1C311.2 288.5 318.9 288.3 321.6 288.3" fill="none" stroke="#308af1" stroke-width="1.8" stroke-linecap="round" stroke-linejoin="round"/>
<text x="169.9" y="265.0" text-anchor="middle" font-family='"Liberation Sans", Arial, sans-serif' font-weight="bold" font-size="10.0" stroke="#308af1" stroke-width="0.3" textLength="27.3" lengthAdjust="spacingAndGlyphs" fill="#308af1">11400</text>
<rect x="155.0" y="274.2" width="29.7" height="9.8" fill="#fff"/>
<path d="M17.6 297.1C20.0 296.3 26.7 293.5 31.7 292.1C36.7 290.7 42.5 289.7 47.8 288.7C53.2 287.7 58.5 287.0 63.8 286.3C69.2 285.6 74.5 285.2 79.9 284.7C85.3 284.2 90.6 283.9 96.0 283.5C101.4 283.1 106.6 282.8 112.0 282.3C117.4 281.8 122.8 281.2 128.1 280.7C133.5 280.2 139.6 279.7 144.1 279.3C148.6 278.9 153.4 278.6 155.2 278.5M184.7 279.1C188.1 279.6 198.1 280.8 204.8 282.1C211.5 283.4 218.9 285.4 224.9 287.1C230.9 288.8 235.6 290.5 240.9 292.1C246.2 293.7 254.0 296.1 256.6 296.9" fill="none" stroke="#1c62e0" stroke-width="1.8" stroke-linecap="round" stroke-linejoin="round"/>
<text x="169.9" y="282.7" text-anchor="middle" font-family='"Liberation Sans", Arial, sans-serif' font-weight="bold" font-size="10.0" stroke="#1c62e0" stroke-width="0.3" textLength="27.3" lengthAdjust="spacingAndGlyphs" fill="#1c62e0">11200</text>
</g>
<rect x="0" y="0" width="320.4" height="297.0" fill="none" stroke="#000" stroke-width="1.45"/>
<path d="M0 0.0h-3.6M0 19.8h-3.6M0 39.6h-3.6M0 59.4h-3.6M0 79.2h-3.6M0 99.0h-3.6M0 118.8h-3.6M0 138.6h-3.6M0 158.4h-3.6M0 178.2h-3.6M0 198.0h-3.6M0 217.8h-3.6M0 237.6h-3.6M0 257.4h-3.6M0 277.2h-3.6M0 297.0h-3.6M4.4 297.0v3.4M40.0 297.0v3.4M75.6 297.0v3.4M111.2 297.0v3.4M146.8 297.0v3.4M182.4 297.0v3.4M218.0 297.0v3.4M253.6 297.0v3.4M289.2 297.0v3.4" stroke="#000" stroke-width="1.2" fill="none"/>
<g font-family='"Liberation Sans", Arial, Helvetica, sans-serif' font-weight="bold" font-size="10.1" fill="#000">
<text x="-21.99" y="4.2" textLength="16.79" lengthAdjust="spacingAndGlyphs">15N</text>
<text x="-21.99" y="24.0" textLength="16.79" lengthAdjust="spacingAndGlyphs">10N</text>
<text x="-16.90" y="43.8" textLength="11.70" lengthAdjust="spacingAndGlyphs">5N</text>
<text x="-18.42" y="63.6" textLength="13.22" lengthAdjust="spacingAndGlyphs">EQ</text>
<text x="-16.39" y="83.4" textLength="11.19" lengthAdjust="spacingAndGlyphs">5S</text>
<text x="-21.48" y="103.2" textLength="16.28" lengthAdjust="spacingAndGlyphs">10S</text>
<text x="-21.48" y="123.0" textLength="16.28" lengthAdjust="spacingAndGlyphs">15S</text>
<text x="-21.48" y="142.8" textLength="16.28" lengthAdjust="spacingAndGlyphs">20S</text>
<text x="-21.48" y="162.6" textLength="16.28" lengthAdjust="spacingAndGlyphs">25S</text>
<text x="-21.48" y="182.4" textLength="16.28" lengthAdjust="spacingAndGlyphs">30S</text>
<text x="-21.48" y="202.2" textLength="16.28" lengthAdjust="spacingAndGlyphs">35S</text>
<text x="-21.48" y="222.0" textLength="16.28" lengthAdjust="spacingAndGlyphs">40S</text>
<text x="-21.48" y="241.8" textLength="16.28" lengthAdjust="spacingAndGlyphs">45S</text>
<text x="-21.48" y="261.6" textLength="16.28" lengthAdjust="spacingAndGlyphs">50S</text>
<text x="-21.48" y="281.4" textLength="16.28" lengthAdjust="spacingAndGlyphs">55S</text>
<text x="-21.48" y="301.2" textLength="16.28" lengthAdjust="spacingAndGlyphs">60S</text>
<text x="-6.46" y="308.9" textLength="21.81" lengthAdjust="spacingAndGlyphs">100W</text>
<text x="31.47" y="308.9" textLength="17.17" lengthAdjust="spacingAndGlyphs">90W</text>
<text x="67.07" y="308.9" textLength="17.17" lengthAdjust="spacingAndGlyphs">80W</text>
<text x="102.67" y="308.9" textLength="17.17" lengthAdjust="spacingAndGlyphs">70W</text>
<text x="138.27" y="308.9" textLength="17.17" lengthAdjust="spacingAndGlyphs">60W</text>
<text x="173.87" y="308.9" textLength="17.17" lengthAdjust="spacingAndGlyphs">50W</text>
<text x="209.47" y="308.9" textLength="17.17" lengthAdjust="spacingAndGlyphs">40W</text>
<text x="245.07" y="308.9" textLength="17.17" lengthAdjust="spacingAndGlyphs">30W</text>
<text x="280.67" y="308.9" textLength="17.17" lengthAdjust="spacingAndGlyphs">20W</text>
</g>
<g font-family='"Liberation Sans", Arial, Helvetica, sans-serif' font-size="18.8" fill="#000">
<text x="43.3" y="-9.9" textLength="70.1" lengthAdjust="spacingAndGlyphs">cluster:</text>
<text transform="translate(130.2,-9.9) scale(1.12,1)" text-anchor="middle">2</text>
<text x="159.7" y="-9.9" textLength="94.0" lengthAdjust="spacingAndGlyphs">membros:</text>
<text transform="translate(270.0,-9.9) scale(1.12,1)" text-anchor="middle">3</text>
</g>
</g>
<g transform="translate(63.4,493.8)">
<clipPath id="cp2"><rect x="0" y="0" width="320.4" height="297.0"/></clipPath>
<g clip-path="url(#cp2)">
<path d="M64.3 -2.4L64.3 0.0L63.7 2.8L64.3 4.0L63.2 6.3L63.0 8.7L62.5 10.7L62.7 12.3L61.9 14.3L62.7 16.1L63.5 18.2L64.9 19.8L65.9 21.2L66.5 21.5L67.5 22.4L67.8 23.8L69.2 24.0L70.7 24.6L72.4 24.4L74.2 23.4L76.0 22.4L77.4 21.4L79.2 21.6L81.0 22.2L82.8 22.8L84.2 24.2L85.1 25.1L86.0 26.5L86.7 27.3L86.9 27.9L87.2 26.9L87.2 25.3L88.5 24.4L89.5 22.6L91.0 22.0L91.3 20.2L91.7 18.2L92.6 17.0L94.0 15.6L95.9 15.8L96.3 14.7L98.4 14.9L100.6 13.9L102.3 12.7L103.4 11.3L105.2 10.1L107.0 10.7L107.3 11.7L106.6 12.5L105.6 13.7L104.3 14.3L105.2 15.8L105.6 16.8L105.9 16.0L107.7 15.4L109.5 14.9L110.5 13.9L110.4 11.9L111.2 11.1L112.0 13.1L112.1 14.1L113.7 13.9L115.5 14.3L116.9 15.2L117.5 16.6L118.0 17.8L120.5 17.8L122.3 17.4L124.4 17.4L125.3 17.6L126.2 19.0L128.3 19.4L130.1 19.4L131.5 18.4L133.0 17.8L131.7 17.2L134.4 17.2L137.2 16.9L140.1 17.0L138.3 17.8L136.5 18.0L137.2 19.0L137.9 19.8L139.0 20.4L141.2 20.6L143.3 22.2L144.0 23.8L142.9 25.3L145.4 25.5L146.9 25.5L148.3 26.5L150.1 27.7L151.8 30.1L152.4 32.1L153.6 32.5L155.4 34.3L156.6 35.2L157.0 35.8L157.9 35.8L161.1 36.2L163.9 35.8L166.1 36.0L168.2 36.6L169.6 37.2L171.8 37.8L173.9 39.8L175.3 41.2L176.2 41.6L176.6 42.8L177.3 42.0L178.2 43.2L178.9 45.9L180.0 50.3L181.2 52.3L182.6 52.9L182.8 54.8L181.4 56.2L180.0 58.2L178.5 59.4L177.5 61.4L175.7 64.0L174.6 65.1L176.8 65.5L178.9 64.5L180.0 66.5L181.4 66.7L184.2 66.3L186.4 65.7L188.0 65.1L188.5 63.2L189.9 62.0L192.1 61.8L194.6 62.8L196.5 63.8L198.5 64.7L200.6 65.5L201.7 67.7L202.0 69.7L201.3 71.3L202.6 70.7L203.5 69.1L205.6 68.9L208.1 69.5L210.2 70.5L211.6 70.3L213.4 70.9L216.3 70.5L218.4 70.9L221.6 72.7L223.4 74.1L225.9 76.8L227.8 78.6L229.8 79.4L232.3 79.4L234.2 79.8L235.1 82.4L235.8 85.1L236.6 87.7L236.4 91.3L235.3 94.6L233.4 97.7L230.9 101.0L228.6 102.8L227.5 104.7L225.5 108.5L223.4 110.9L221.8 112.5L221.4 114.8L221.6 118.0L222.0 121.6L221.4 124.5L220.9 127.5L220.9 129.7L219.3 132.1L218.9 135.0L218.6 137.2L217.0 139.8L215.4 142.2L214.6 143.7L214.5 146.5L212.0 147.9L210.9 150.3L206.7 150.3L204.2 150.7L201.2 151.9L198.8 153.6L195.6 154.4L193.1 156.2L189.9 158.6L187.8 160.4L187.4 162.4L187.3 165.5L187.8 168.3L187.3 171.1L186.5 172.7L184.9 174.0L183.4 175.5L182.1 178.2L180.0 181.8L178.2 184.1L175.3 186.5L173.2 190.1L170.5 193.1L169.6 194.4L167.5 196.6L164.8 197.9L162.2 197.2L160.4 197.6L157.9 196.4L154.5 195.9L152.9 194.0L152.4 192.5L152.0 194.0L152.4 195.8L154.0 197.2L156.5 198.8L156.5 201.2L158.4 203.3L157.5 206.3L155.6 209.9L151.5 212.3L146.8 213.2L142.6 213.8L139.4 213.2L138.5 214.6L139.4 216.2L138.7 219.8L137.1 222.0L133.3 222.4L129.8 220.8L128.5 221.8L129.0 224.9L130.8 226.7L133.0 226.1L134.0 228.5L131.5 228.7L130.8 227.5L129.0 228.7L129.0 230.9L128.0 233.2L128.0 235.6L126.9 237.6L123.7 238.4L120.9 240.0L119.8 242.0L121.9 244.3L125.5 245.5L126.2 247.1L125.8 249.1L122.3 251.5L120.1 253.4L119.3 255.4L116.9 257.8L114.8 259.4L114.8 261.4L114.1 263.7L115.2 265.3L116.9 266.7L113.7 267.3L110.2 268.1L108.4 270.1L109.8 272.1L112.7 271.3L114.1 268.5L116.2 267.9L117.7 270.1L119.4 272.4L122.6 274.4L126.9 275.6L128.5 275.8L126.9 277.0L122.6 277.2L117.3 276.6L113.0 276.8L115.5 278.2L120.9 280.8L116.2 279.6L111.2 278.4L107.0 276.0L103.4 274.0L99.5 271.3L96.3 268.5L94.2 265.3L92.7 261.4L91.7 257.4L91.5 253.4L91.3 249.5L92.4 247.9L95.6 248.7L95.9 246.7L93.8 244.7L91.1 244.3L93.1 241.6L94.5 239.6L95.6 236.0L97.4 234.0L99.5 233.2L100.9 231.7L101.3 228.1L102.0 225.7L100.7 223.6L98.8 224.7L97.7 222.9L97.7 220.2L99.0 217.2L99.7 215.0L98.8 211.5L98.4 208.3L99.9 206.5L100.2 204.9L101.3 202.0L102.3 199.2L104.0 195.6L105.4 192.1L105.4 190.3L106.1 187.7L105.7 184.1L105.2 180.6L106.6 177.8L105.9 173.8L107.2 170.3L108.0 166.7L108.9 162.4L109.5 158.4L109.6 154.4L109.1 152.1L110.0 150.7L110.5 146.5L110.7 142.6L110.7 139.4L110.4 135.8L110.1 132.6L109.9 132.1L108.0 130.3L106.4 129.3L105.6 127.7L103.8 126.7L101.3 125.1L98.1 123.6L95.2 122.0L92.7 120.2L90.1 117.4L88.8 114.4L89.2 113.3L88.1 110.9L86.9 108.5L85.8 107.1L85.3 104.9L84.0 103.0L82.8 99.8L81.3 97.0L80.6 95.2L79.6 92.7L77.8 90.3L76.7 87.9L75.8 86.3L73.5 84.3L71.7 83.4L71.6 82.2L72.4 81.4L71.6 79.6L70.9 77.9L71.2 76.4L72.4 74.8L73.9 73.3L74.6 72.9L75.3 71.9L76.2 70.9L76.5 69.1L75.8 68.1L74.9 69.9L73.9 69.5L72.1 68.1L73.0 66.9L72.6 64.9L72.4 63.6L73.7 62.8L74.2 61.0L75.3 59.6L75.5 57.4L76.7 55.6L78.5 55.0L79.7 53.7L79.9 52.3L80.8 49.9L82.8 49.3L84.2 47.5L85.6 44.9L84.7 43.2L85.1 40.0L84.4 37.6L85.1 34.8L84.4 32.7L83.1 30.9L82.1 29.3L81.2 27.5L82.4 26.3L81.0 25.3L79.2 24.0L77.4 24.0L76.4 25.3L74.6 26.5L74.0 27.7L75.6 29.7L74.2 30.7L72.4 30.9L71.9 28.7L70.3 28.9L69.2 27.3L67.5 26.7L65.7 26.5L65.3 27.6L64.4 26.3L63.9 25.3L63.5 26.1L62.3 25.7L62.7 24.0L60.9 22.2L59.1 21.4L58.4 19.9L57.5 19.2L58.0 20.8L57.3 21.4L55.5 20.2L54.8 18.4L55.0 16.2L55.4 15.6L53.9 13.9L52.2 12.3L50.4 10.3L48.6 8.3L49.5 7.9L49.0 6.7L47.5 7.1L45.4 7.1L42.5 6.1L40.4 5.5L37.9 4.4L35.1 4.0L32.2 2.0L30.1 0.0L27.6 -2.4M105.6 16.8L104.3 18.6L104.1 21.4L105.6 23.4L107.2 23.0L107.5 20.6L106.6 18.2L105.9 17.0L105.6 16.8M54.6 11.5L56.8 12.3L58.2 15.0L56.4 15.0L54.8 13.5L54.6 11.5M52.2 10.3L53.6 11.1L53.4 9.9L52.2 10.3M111.1 120.4L112.7 120.4L114.1 122.4L115.9 123.6L115.2 124.9L113.4 123.6L111.6 122.4L111.1 120.4M178.2 178.4L180.3 179.4L178.9 182.2L176.8 184.5L175.0 186.1L174.6 184.5L176.8 182.2L177.5 179.8L178.2 178.4M172.8 186.9L171.4 189.3L170.0 191.3L171.1 190.9L172.8 188.5L172.8 186.9M122.2 133.8L122.0 132.6L121.5 132.6L121.3 133.8L121.5 135.0L122.0 135.0L122.2 133.8M179.8 60.2L182.4 59.8L184.9 60.0L187.8 60.6L188.1 63.0L186.4 65.3L183.5 66.1L180.7 66.3L179.6 64.5L179.8 60.2M181.0 57.0L183.5 58.0L183.9 59.0L181.0 58.8L181.0 57.0M175.7 64.0L177.8 63.0L179.2 61.4L180.3 59.8L181.4 58.6M178.9 64.5L179.2 63.0L180.3 61.8L181.7 61.4L182.8 60.2M179.6 63.4L181.0 64.2L182.4 63.4L183.9 64.2L185.3 63.4L186.4 64.5M180.7 61.8L182.4 62.2L183.9 61.4L185.3 61.8M182.8 59.4L184.2 58.6L185.3 59.2L183.9 59.8L182.8 59.4M179.2 57.8L180.3 57.2L181.4 58.2L180.3 58.6L179.2 57.8M177.8 60.6L178.9 61.0L179.2 62.6L178.2 62.2L177.8 60.6M187.4 66.1L186.4 67.7L185.3 69.3M184.6 66.3L184.2 68.1L183.9 69.7M140.1 17.0L143.3 16.4L143.5 19.4L140.1 19.6L141.5 18.6L141.7 17.4L140.1 17.0M145.0 14.5L144.6 14.4L143.9 14.8L143.7 15.2L144.2 15.3L144.8 14.9L145.0 14.5M134.0 15.8L133.6 15.5L132.6 15.4L131.6 15.5L131.2 15.8L131.6 16.2L132.6 16.3L133.6 16.2L134.0 15.8M141.1 11.5L140.9 11.0L140.7 11.0L140.5 11.5L140.7 11.9L140.9 11.9L141.1 11.5M142.9 6.9L142.7 6.5L142.4 6.5L142.3 6.9L142.4 7.4L142.7 7.4L142.9 6.9M148.8 7.3L148.6 6.8L148.3 6.8L148.1 7.3L148.3 7.8L148.6 7.8L148.8 7.3M143.6 4.4L143.5 3.7L143.1 3.7L142.9 4.4L143.1 5.0L143.5 5.0L143.6 4.4M143.8 1.4L143.6 0.5L143.0 0.5L142.8 1.4L143.0 2.2L143.6 2.2L143.8 1.4M111.6 10.2L111.6 9.8L111.2 9.5L110.9 9.6L110.9 10.0L111.3 10.3L111.6 10.2M115.5 11.6L115.3 11.1L114.6 10.6L114.1 10.5L114.3 11.0L115.0 11.6L115.5 11.6M117.7 11.1L117.5 10.6L117.1 10.6L116.9 11.1L117.1 11.6L117.5 11.6L117.7 11.1M69.8 9.7L69.7 9.3L69.5 9.5L69.5 9.9L69.7 10.1L69.8 9.7M37.2 61.4L36.6 60.0L35.6 59.8L34.8 60.5L34.9 62.2L35.8 63.2L36.6 63.4L37.6 63.2L37.2 61.4M35.2 61.0L35.0 60.3L34.4 60.3L34.2 61.0L34.4 61.7L35.0 61.7L35.2 61.0M39.6 61.8L39.3 61.3L38.6 61.0L38.1 61.5L38.1 62.1L38.6 62.5L39.5 62.5L39.6 61.8M37.8 60.6L37.5 60.1L37.0 60.3L37.0 60.9L37.5 61.0L37.8 60.6M42.6 62.3L42.0 62.2L41.3 62.6L41.0 63.2L41.6 63.4L42.4 62.9L42.6 62.3M38.8 64.5L38.6 64.2L38.2 64.4L38.2 64.7L38.6 64.8L38.8 64.5M41.4 64.9L41.2 64.6L40.9 64.7L40.9 65.0L41.2 65.1L41.4 64.9M73.1 193.1L72.8 192.8L72.5 193.1L72.8 193.3L73.1 193.1M80.1 192.7L79.7 192.4L79.4 192.7L79.7 192.9L80.1 192.7M142.6 262.5L146.1 263.7L149.0 263.9L150.4 264.3L149.3 265.3L147.2 266.3L144.7 267.3L143.3 265.9L145.8 265.3L142.6 262.5M150.4 264.1L152.5 263.7L154.7 264.9L152.5 266.5L149.7 267.3L148.3 266.5L150.8 265.7L150.4 264.1M146.1 264.5L148.3 264.9M150.8 264.9L152.9 265.3M224.8 273.2L228.7 273.6L231.6 274.8L233.0 276.4L230.5 275.6L226.9 274.4L224.8 273.2M260.8 282.3L260.4 282.0L260.1 282.3L260.4 282.7L260.8 282.3M262.5 283.9L262.2 283.6L261.8 283.9L262.2 284.2L262.5 283.9M264.0 285.5L263.6 285.2L263.3 285.5L263.6 285.8L264.0 285.5M265.8 288.3L265.4 288.0L265.0 288.3L265.4 288.6L265.8 288.3M266.5 290.7L266.1 290.3L265.8 290.7L266.1 291.0L266.5 290.7M266.8 293.0L266.5 292.7L266.1 293.0L266.5 293.4L266.8 293.0M263.6 294.6L263.3 294.3L262.9 294.6L263.3 294.9L263.6 294.6M130.1 276.4L131.9 276.0L133.3 276.2L131.5 276.8L130.1 276.4M98.8 224.9L96.8 225.1L96.3 228.1L95.6 230.9L98.1 231.3L98.8 228.9L98.4 226.9L98.8 224.9M96.8 233.5L95.7 233.4L95.4 234.7L95.4 235.9M97.2 233.7L97.3 234.9L97.4 233.7L97.8 233.5M96.0 232.7L97.1 233.9L98.0 234.5L97.2 235.6M96.8 232.2L95.8 232.0L95.0 233.1L95.5 233.0L95.8 233.0M97.5 232.3L97.7 232.4L97.2 231.6L97.7 232.3L97.9 232.3L98.8 231.6L98.3 230.3M96.1 232.0L95.3 232.1L94.1 231.6L94.8 231.4L95.7 231.9L96.2 231.6M97.6 231.9L98.7 232.0L99.1 233.2L99.6 232.8M98.9 231.2L99.5 230.1L99.1 228.9L98.7 228.6L98.7 229.4L98.2 228.7M97.0 231.0L96.0 231.2L96.1 230.1L96.9 229.1L96.4 229.3L96.0 228.3L97.1 229.2M96.3 232.4L95.1 231.5L94.3 232.1L93.4 232.0L93.7 232.5M95.1 234.1L94.9 233.1L96.1 232.6L96.2 232.9M96.2 234.9L95.1 236.1L94.4 237.0L94.0 238.2L92.7 239.2L91.7 239.6L90.6 238.5M97.1 235.5L98.3 235.2L98.2 236.3L98.2 235.0L98.1 235.5L97.2 234.8M97.7 234.9L97.7 235.7L98.8 236.1L99.3 234.9L100.0 235.5M97.3 235.6L97.3 234.5L97.0 235.3L97.1 235.3L97.4 235.0L98.1 234.2M95.4 234.4L95.9 235.1L96.0 235.5L94.8 236.8L94.3 237.5L94.7 236.2L94.6 235.0M98.7 232.9L97.7 234.0L97.6 234.5L97.6 233.1L97.9 234.5L98.9 235.0M97.3 233.2L98.3 232.4L98.9 232.5L98.1 231.7M95.9 233.2L95.8 232.6L94.8 233.5L96.0 234.8L96.3 234.9L96.7 234.6L96.9 234.7M98.5 234.5L97.3 233.7L97.9 234.8L98.5 235.8L99.7 236.6M98.2 237.7L97.6 238.5L97.9 239.1L97.7 240.2L98.7 240.6M96.1 236.6L96.9 235.6L96.0 236.6L96.0 235.5L96.7 235.2L97.4 236.2L96.5 235.9M94.4 237.7L95.1 238.8L95.3 239.5L94.7 238.7L94.7 238.5L95.4 237.4L95.2 237.1M96.3 236.8L96.2 236.7L96.2 235.5L96.6 234.4L97.8 235.1L97.9 233.9M98.0 237.5L97.7 238.0L98.2 238.2L97.4 238.8M94.4 235.3L93.5 234.2L94.7 235.0L95.8 235.3L95.8 233.9L96.6 234.8M96.0 235.8L95.8 236.2L94.7 236.6L94.3 236.7L94.8 237.0L94.9 237.6M98.6 236.6L99.8 237.7L99.2 239.0L99.9 239.6L99.0 239.8M98.3 235.2L98.1 235.1L98.2 235.1L97.7 235.7L98.5 236.6L99.5 237.2M93.9 236.6L92.9 235.6L91.8 234.6L91.7 235.1L91.8 233.9L91.2 234.9M96.1 239.3L97.3 240.0L96.5 238.8L96.8 238.7M94.4 238.9L93.8 238.1L95.0 239.3L93.8 239.3L95.0 239.3M94.6 238.9L95.0 238.8L95.9 237.5L95.5 238.3L94.8 239.1L95.7 238.5L94.8 237.1M98.5 238.1L97.4 237.5L96.8 238.4L95.8 237.4M97.9 238.5L98.2 237.9L97.0 238.8L96.5 240.2L96.1 240.6L97.3 241.1M93.5 237.0L93.1 238.4L92.8 238.5L92.8 239.3L92.8 240.7M94.7 238.6L94.9 238.9L94.4 238.5L93.4 237.3L94.2 238.2L95.2 237.4L95.5 236.7M97.1 237.8L97.7 237.4L96.5 236.5L97.5 236.1L98.1 235.3L97.2 235.2M96.0 237.1L96.8 236.9L97.8 236.4L98.2 237.1M93.4 238.5L94.6 238.9L94.5 240.1L93.3 240.0L92.6 240.7L92.5 241.9M97.7 240.0L98.1 241.2L98.7 241.9L97.7 242.5M96.7 241.4L96.7 241.7L96.7 241.2L97.3 240.8L97.7 242.0L96.8 242.7L97.4 243.2M95.9 241.7L95.9 240.4L94.9 241.2L94.9 240.6M94.5 240.8L95.7 240.7L95.3 241.8L95.2 242.4M93.5 240.8L94.7 241.1L95.7 239.9L94.7 241.0L95.3 241.7L95.0 241.4L95.3 242.0M93.7 240.0L94.6 240.1L93.5 241.5L93.4 241.6L92.9 242.6L92.6 243.1L93.4 244.5M96.8 239.1L97.9 239.9L96.7 239.3L96.1 240.5M95.0 239.0L94.7 239.2L94.1 240.5L93.1 239.6M94.5 238.9L95.7 239.1L95.2 238.3L95.9 238.5L94.8 237.8M95.1 239.0L95.6 240.3L96.2 240.4L96.8 240.0L96.3 241.3M96.7 243.5L96.5 244.1L95.9 243.4L96.3 243.7L95.6 243.7L96.0 244.8L96.4 246.0M94.9 242.1L94.8 242.6L95.4 242.8L95.5 243.5L94.7 243.3M94.1 243.0L95.1 242.3L94.8 242.6L94.9 242.9L94.5 244.1M93.9 241.8L94.4 241.7L95.1 240.8L94.1 239.7L93.8 239.3M94.6 243.1L93.7 243.3L94.3 242.5L95.5 242.5M93.1 240.9L94.2 241.6L93.3 242.6L93.3 242.1L94.4 241.4L94.8 240.7L94.7 240.6M92.9 241.2L93.1 242.5L93.6 241.2L93.9 241.1L93.8 240.4M93.2 242.2L92.9 242.9L93.1 244.3L92.6 244.4L93.8 244.0M96.5 241.8L96.6 243.1L96.4 242.7L95.3 243.5L96.3 243.1M93.1 242.3L94.1 243.1L93.0 243.5L92.8 243.0L92.0 242.2L92.6 242.2L91.9 240.9M94.1 248.5L94.0 249.1L95.0 250.2L95.3 249.9L96.2 249.9M96.6 250.0L97.7 251.2L96.5 250.9L96.3 250.3L95.5 250.5M95.8 249.5L97.0 248.3L96.6 249.1L97.7 248.4M92.9 248.8L93.7 247.4L93.6 248.5L92.5 249.7L92.3 248.6L92.5 247.9L92.2 247.1M94.1 248.5L92.9 248.6L92.6 247.4L91.9 247.8M96.6 249.0L95.9 248.7L95.7 249.0L95.6 248.2L94.5 249.0L93.4 248.7L93.1 249.2M96.8 249.0L97.9 249.6L98.4 249.3L99.2 248.1L98.1 247.2L97.1 246.6M94.7 247.5L95.8 246.7L94.8 246.7L93.6 245.5L93.1 245.0L92.3 245.7M96.4 248.2L96.4 248.5L95.6 248.7L96.0 248.8M95.1 248.8L96.0 247.4L95.4 248.6L94.4 248.6L95.0 248.7L94.3 248.9L94.6 248.5M95.5 250.4L96.2 250.9L95.6 251.6L95.0 252.3M93.8 251.7L93.0 250.6L93.2 251.1L92.9 249.7L92.9 250.5M95.8 250.8L94.8 250.8L95.6 249.9L96.6 251.2M93.1 251.8L93.3 250.9L92.5 252.1L92.6 253.0L92.8 252.2M95.0 252.0L94.3 252.4L93.4 253.2L92.8 253.0L93.2 253.8L92.0 254.3M95.1 250.7L94.1 252.0L94.1 252.0L93.8 251.2L94.2 252.2L94.3 251.8M93.6 250.5L94.0 250.8L92.9 250.1L93.9 250.3L92.7 249.6L93.4 249.2M93.6 250.3L93.4 251.2L92.5 252.3L92.6 252.7M95.6 250.8L95.7 250.4L96.8 251.6L97.1 251.9M94.2 250.8L93.3 251.7L92.3 252.0L92.9 251.2L93.7 251.7L94.5 253.0M96.7 253.4L95.6 252.8L96.1 251.7L96.4 250.8L96.7 250.4L96.0 250.5L96.2 251.8M96.8 253.7L95.9 254.4L96.4 253.3L95.3 253.2L95.9 254.4L96.8 255.5M94.8 252.9L95.1 253.5L94.5 253.8L94.2 253.8L93.4 255.1L94.6 255.2M93.8 252.8L94.7 251.9L94.4 253.1L94.1 253.5L94.8 253.5L95.2 254.8L94.3 253.6M93.0 252.6L91.9 252.6L91.6 251.3L90.7 250.4M97.2 251.6L96.4 250.3L96.4 249.0L97.4 249.9M95.9 251.2L96.7 250.9L96.1 251.4L96.4 250.3M93.9 252.5L93.2 253.2L93.2 253.7L92.0 254.6L91.2 253.4L91.6 252.3L90.8 251.5M91.8 252.0L93.0 252.1L93.0 251.6L94.0 252.3L94.1 251.3L94.7 251.7M93.4 252.3L93.1 251.6L92.9 252.5L93.5 253.7L94.3 254.4M95.1 254.1L95.6 253.4L94.9 254.0L95.3 254.2L94.9 255.4L94.9 255.1M91.3 255.9L90.8 255.8L90.8 256.1L90.4 257.1L90.0 256.2L89.2 257.5M96.1 254.6L95.1 254.2L96.0 253.4L95.8 254.1L94.6 253.7L94.7 254.1L95.1 254.3M97.0 254.6L96.1 255.9L95.0 257.3L94.3 258.2L95.3 259.3M94.9 254.7L94.0 255.5L94.3 255.5L94.6 254.7L93.8 255.2M92.9 254.9L93.4 256.3L94.3 255.6L94.2 254.9L94.1 255.7L93.1 256.4L91.9 256.9M95.8 253.6L96.3 254.3L96.4 254.5L97.1 254.4L96.6 254.0L97.7 254.8M96.6 255.0L97.6 254.0L96.9 255.0L97.9 255.8L97.6 255.6L97.3 254.6M96.9 253.1L96.8 253.0L95.6 254.3L96.7 255.0L97.7 254.2L97.4 254.0L97.6 254.9M91.2 254.8L90.8 255.8L89.6 257.1L90.1 256.7L90.6 256.0M91.6 256.8L90.8 255.6L90.9 255.1L91.9 254.4L92.4 254.7L91.8 255.5M91.4 256.1L92.2 255.7L91.6 256.9L90.6 256.1M92.5 257.4L91.9 257.8L93.0 259.0L93.6 257.9L94.3 257.6L94.3 258.2L94.9 257.4M91.3 257.0L91.0 256.4L91.1 257.2L92.0 258.3M96.7 257.7L96.7 258.2L97.4 259.5L97.0 260.6M95.8 255.4L96.1 254.1L96.1 253.9L95.3 253.0L96.3 253.8L95.5 252.5L96.2 252.6M97.8 255.9L98.2 256.3L97.9 256.6L98.9 257.7M97.1 257.0L96.7 257.2L96.8 258.1L98.0 257.7L99.1 258.7M95.2 255.6L94.8 256.1L93.9 255.2L94.3 254.5M92.3 256.1L92.5 257.2L92.4 256.1L91.7 257.0L91.2 256.4L92.1 257.4M92.5 259.5L92.8 259.9L92.1 258.6L91.5 257.4L92.8 258.3L93.2 259.2M92.5 259.7L93.1 259.9L92.3 259.5L91.4 260.3L91.1 261.6L90.8 260.8M96.2 259.0L96.1 260.0L96.3 260.2L96.9 259.1L96.8 258.9L97.4 259.1M93.0 258.5L93.5 258.2L93.4 258.7L93.7 259.8L93.5 259.0M96.3 258.7L97.2 258.8L96.0 257.8L96.0 257.3L97.0 256.2L96.5 257.6M97.1 257.2L96.0 257.1L95.1 256.3L96.2 256.2M92.2 257.8L92.7 257.8L93.1 256.9L93.1 257.1L94.2 258.0M96.1 258.2L96.7 257.9L97.0 258.6L96.7 259.8M92.0 257.2L92.2 258.3L91.7 258.5L92.8 257.2L94.1 255.9L94.0 256.9M97.8 258.8L97.7 258.7L97.0 257.4L96.7 257.0L97.4 256.1M95.4 261.4L96.1 261.5L96.8 262.2L97.3 261.7L98.5 261.2M95.5 260.4L95.1 259.9L94.7 260.0L95.0 261.1L95.9 262.1L95.5 262.4M92.6 260.8L93.3 261.8L94.2 261.5L93.0 262.8L94.1 262.4L93.5 263.5M93.0 261.5L92.7 262.5L93.7 261.6L92.8 260.6L93.1 259.8L93.5 258.7L94.2 257.8M93.4 260.6L94.0 260.8L95.0 260.6L94.4 261.3M93.0 260.0L93.0 258.9L93.5 259.6L92.6 259.3M97.3 260.6L97.2 260.5L97.6 259.5L97.3 259.8L98.4 260.9L98.8 260.6M92.2 259.8L93.0 260.9L93.0 260.2L92.1 261.0L91.9 262.0L90.9 261.6M94.5 259.4L93.9 259.9L93.3 261.1L92.8 261.5L92.8 262.0M99.0 259.2L100.2 258.8L100.9 259.3L100.5 259.8L100.7 259.5L101.4 260.7M98.0 262.2L97.8 263.3L96.7 262.4L96.6 261.6M92.9 262.9L93.1 262.6L93.6 262.3L94.1 263.1L94.5 263.2L95.2 264.3L94.4 265.6M98.4 262.1L98.1 261.2L98.8 261.1L98.2 261.6M95.7 263.3L95.9 263.1L96.9 263.1L96.9 262.2L97.6 262.4L98.1 262.7L97.0 262.2M97.0 262.0L97.0 262.2L96.0 261.8L95.3 262.8L94.1 264.1M97.7 262.7L97.0 263.8L97.0 264.4L97.1 264.5M98.2 261.1L98.9 260.5L99.8 259.9L98.7 259.5L99.3 259.6L100.3 260.3M99.9 261.5L98.8 260.5L99.3 260.1L99.0 260.7M97.1 261.0L97.4 261.6L98.5 260.9L98.4 261.9L99.6 262.9L100.7 263.8L101.4 263.9M98.5 262.0L99.2 261.9L98.7 263.1L99.8 262.5L100.7 263.0L100.9 261.7M99.7 264.7L99.9 263.4L99.3 263.7L99.0 263.0L98.3 263.1L98.8 263.6M95.1 265.6L94.6 266.6L95.6 265.2L94.7 263.9M99.4 264.8L99.1 266.0L99.2 265.2L98.4 264.5L99.5 265.2L99.8 264.7L99.7 265.5M95.0 264.4L94.9 265.6L95.7 264.8L95.0 264.6L96.0 263.5L96.0 263.6L96.3 264.5M94.5 265.6L94.1 265.4L93.9 265.3L93.0 266.6L94.3 266.9L93.3 266.6M99.4 264.6L99.0 264.6L97.8 265.9L99.0 264.8M96.9 263.8L98.0 264.4L97.0 264.6L97.2 264.3L96.3 263.3L95.9 261.9M96.0 264.9L96.2 263.8L96.1 262.6L97.1 263.8M97.8 264.1L98.3 265.3L97.9 266.0L96.9 264.8M97.1 264.6L96.7 265.3L97.3 266.2L98.4 265.0L97.3 264.8M94.2 266.1L94.9 265.5L95.3 264.1L94.2 265.1L94.8 263.9L95.3 264.5M99.2 266.4L99.2 266.7L98.9 267.1L98.6 267.3M101.2 266.1L101.1 264.9L101.8 265.9L102.7 267.1M99.5 267.2L100.2 265.9L101.2 266.2L100.1 267.4L101.2 267.9M96.1 267.7L95.2 268.4L94.1 267.8L94.2 268.8L95.1 269.5L94.9 270.4M96.4 265.2L97.2 265.9L96.2 266.0L96.1 267.0L96.2 266.6L96.9 265.4M99.0 265.3L98.4 266.1L98.0 264.7L99.3 263.5M94.9 266.3L93.7 265.7L93.2 264.4L92.0 263.5L91.6 264.5M94.0 265.3L93.2 265.4L94.2 266.2L94.4 267.2L93.6 266.5L94.2 267.3M94.7 266.7L95.3 267.6L94.4 267.2L94.8 268.0L94.3 269.4L94.8 269.3L95.6 268.2M100.0 269.2L100.9 268.2L100.9 269.5L101.9 269.6L102.8 270.2L102.0 269.3M98.6 269.6L98.8 268.6L98.5 267.4L99.6 268.5L99.3 269.3L100.1 268.1M102.4 268.2L101.9 269.2L102.5 269.4L101.3 268.5M96.5 269.4L95.8 270.3L94.8 271.0L95.6 272.3M96.1 268.5L95.5 267.6L95.9 267.7L95.2 267.8L94.8 268.9M96.9 268.3L96.9 268.3L96.3 269.4L96.1 270.4L96.3 269.4L95.4 269.2L96.1 270.1M102.9 267.0L103.4 266.8L103.6 268.0L104.8 269.3L104.4 269.6L105.3 269.0L106.1 268.8M104.4 268.2L105.2 269.5L105.3 268.2L106.3 268.9L106.2 268.5L105.8 268.5L104.7 268.6M99.9 268.8L99.7 269.1L100.9 269.3L99.8 267.9L101.0 269.2M103.2 267.7L103.6 266.8L102.4 267.9L101.5 269.3L100.8 270.5L99.8 271.0M98.7 271.7L97.6 271.5L98.7 271.7L98.7 270.6L99.8 270.4L99.2 269.7M104.4 271.3L104.7 271.1L105.0 271.9L105.6 272.0L105.7 271.7L105.6 272.2L105.0 273.0M102.1 271.1L100.9 271.5L101.8 272.2L101.9 272.3L101.4 270.9L100.9 270.1L100.0 271.3M105.7 271.0L105.7 270.1L105.4 269.3L105.4 268.0M103.8 270.0L103.4 270.4L103.8 270.1L104.7 269.2L104.7 268.5L105.3 267.8L105.3 267.0M104.1 269.1L103.9 270.2L103.6 270.0L102.7 270.3L103.9 271.3M105.5 270.3L105.2 270.4L105.1 269.8L104.6 270.1M102.5 270.1L101.3 269.4L102.5 269.8L102.0 269.6L102.8 269.8L102.5 270.6M105.2 270.2L106.3 271.0L106.2 269.9L104.9 271.1L105.1 271.2M106.2 269.3L106.2 269.3L106.7 269.6L106.3 269.3L106.0 268.1L106.4 268.0L105.4 268.4M103.1 272.3L104.1 271.0L104.1 271.2L104.4 269.8L104.0 269.7M107.3 273.1L106.9 274.3L106.5 275.2L106.9 275.7L106.5 274.5L106.5 273.2M105.4 272.4L105.4 273.3L104.7 272.9L104.9 273.3L106.1 272.9M99.6 272.6L99.1 272.1L97.8 272.6L98.7 272.4M105.8 273.0L106.5 272.9L107.4 271.8L107.4 272.8L106.7 272.5L105.8 272.4L105.8 273.7M99.9 270.6L100.7 270.3L101.5 271.5L100.3 270.7L99.8 270.1L99.5 271.0L98.9 272.2M108.2 271.3L107.4 271.0L106.2 271.7L105.9 271.0L104.8 272.2L104.1 273.0M100.7 271.3L100.3 270.2L101.1 270.7L101.3 269.4L101.3 268.2M101.6 271.7L101.4 272.0L101.9 273.3L102.8 274.4L102.0 274.8M99.2 270.7L99.4 271.8L99.5 272.1L99.2 273.3L98.3 272.4L97.9 273.1L97.1 273.7M104.0 275.0L103.6 275.9L104.1 277.0L103.5 276.1M102.9 274.1L102.1 274.6L102.6 274.9L103.8 275.7L104.9 275.7M103.9 274.1L105.0 272.7L105.2 272.9L106.5 272.8L106.2 272.8M102.9 273.5L103.0 274.2L103.7 274.5L104.1 274.3M104.7 274.2L105.2 273.5L104.6 274.3L105.5 275.5M110.7 272.4L110.0 271.8L109.0 272.4L109.7 272.7L109.4 271.7L109.3 271.4M107.9 272.3L107.1 272.7L107.8 272.2L108.8 273.5L109.3 273.6L110.6 273.9M110.7 273.8L109.7 272.7L110.3 272.1L109.1 273.4L108.3 274.2L107.8 274.5M102.0 273.4L102.2 274.2L102.2 274.1L103.2 273.6L103.4 272.4M102.8 272.5L103.8 271.5L104.0 270.9L105.1 270.4L104.0 270.9L104.7 271.4M112.9 275.4L114.2 275.1L113.5 275.0L113.1 273.7L113.0 274.2L113.0 273.7L113.8 273.3M109.2 274.9L109.0 274.8L110.1 275.9L110.7 277.1L111.2 276.3M106.9 275.1L107.0 275.8L105.9 276.2L105.7 277.0L105.2 278.1M111.0 274.9L111.5 276.3L112.0 277.3L112.4 276.7L111.5 276.1M109.9 275.7L110.0 275.0L109.2 274.5L109.5 274.7M111.6 273.6L112.1 274.9L112.0 276.2L113.0 276.7M105.5 274.6L104.7 274.8L104.8 275.3L105.0 276.6M108.8 273.3L107.8 272.7L109.0 272.5L108.0 272.5L107.8 273.4L108.0 274.8L109.0 274.4M110.3 273.4L110.7 274.5L111.3 275.9L111.0 276.8L110.7 275.6L110.8 274.5M110.8 275.0L111.4 275.5L110.6 274.6L110.2 275.0L110.3 275.3L111.1 276.0M108.0 276.3L109.1 275.0L109.0 275.0L108.2 275.6L108.4 276.8L108.9 277.7L108.7 276.4M108.5 277.3L108.4 278.1L108.1 279.4L108.4 278.5L108.4 279.5L107.3 280.7L107.8 279.6M108.2 277.4L109.2 278.3L108.7 278.5L108.9 278.9L108.1 280.0M110.5 276.5L111.6 275.2L111.9 274.3L110.8 273.9L111.1 274.4M112.6 275.5L113.0 276.5L113.9 276.4L114.2 275.5L113.5 274.8L114.0 275.8L114.2 275.6M115.7 275.7L115.9 276.0L114.9 276.9L115.9 276.7L115.0 275.7M109.9 276.2L110.4 277.0L110.3 276.9L110.8 276.2L111.8 276.0L112.7 275.5M114.5 276.1L114.8 274.9L114.9 275.0L115.3 274.9M116.0 276.0L116.6 277.0L117.3 278.3L116.7 278.6L115.5 278.4L114.8 278.9L115.3 279.1M115.3 275.2L115.4 274.0L116.4 274.9L117.0 275.4L117.6 274.9M117.4 278.3L117.4 278.3L117.0 278.3L117.8 278.7L117.5 279.2L117.7 280.5M118.0 278.1L117.3 278.3L118.1 278.0L117.1 279.4L116.2 278.5L115.4 278.4M113.2 277.2L114.0 277.0L113.4 275.6L114.0 276.2L113.9 277.6L115.1 277.6L115.1 278.9M117.5 278.4L118.3 277.1L118.8 277.3L118.1 276.0L118.2 276.4L118.2 276.9L117.3 276.6M112.5 277.0L112.1 277.1L113.2 277.6L112.8 277.6L112.1 278.3L113.1 278.0L113.4 277.4M112.0 276.8L112.0 277.5L112.2 277.4L113.3 276.1M111.2 276.5L112.1 275.7L112.4 275.4L112.1 276.0M117.1 275.9L117.6 276.4L118.2 275.7L118.3 275.4L117.9 275.2M114.1 277.5L114.5 276.4L115.2 276.4L116.2 275.5L117.4 276.5L116.7 275.4M116.2 276.8L116.3 277.3L115.5 278.5L115.0 279.1L115.6 278.9L116.7 279.4L117.7 279.1M115.0 279.4L116.2 279.8L116.9 280.0L117.8 281.2L117.7 280.1L117.2 280.8M114.6 279.4L113.9 280.8L112.8 280.9L113.8 281.5L113.8 282.6L113.2 283.9M115.3 279.7L116.1 278.6L115.7 279.6L114.9 279.5M120.1 278.5L119.3 279.0L120.0 278.6L119.7 278.1M116.6 279.7L117.4 280.8L117.6 280.0L118.9 280.3L120.0 279.3L118.8 279.8L119.2 280.3M117.1 277.4L116.3 278.7L115.5 278.6L116.4 279.0L116.0 279.5L116.5 278.4M115.4 276.8L114.8 276.5L115.5 276.6L114.4 276.2L114.8 276.0L115.3 275.9M116.8 277.7L115.9 279.1L115.8 278.7L116.5 279.0L117.7 279.8L118.3 280.9M114.6 278.5L114.7 279.3L115.4 280.0L115.7 279.3M120.2 277.1L120.3 277.5L120.8 277.6L121.7 278.4L122.8 277.3M119.3 280.5L118.3 279.9L117.3 279.5L117.0 278.5M117.9 279.8L118.9 280.2L119.3 279.2L118.2 280.5L118.7 281.2L118.3 281.7L118.1 282.3M121.4 280.0L121.4 278.8L122.0 277.5L121.1 278.1L120.1 279.4M121.4 280.5L121.8 280.2L121.7 280.0L122.7 280.8L123.6 281.2L124.3 280.2M118.4 279.3L118.9 278.4L118.0 277.3L117.1 277.8L117.1 278.2L117.7 278.3M119.4 279.2L120.3 277.8L119.1 278.6L119.9 278.0L118.7 278.0L118.1 278.2L117.1 279.5M121.9 279.3L120.9 279.4L120.0 279.6L119.2 279.1M118.3 278.5L118.4 277.6L119.5 278.7L120.7 277.8M121.8 279.5L121.2 280.4L120.7 281.6L119.5 281.6M119.4 278.9L118.8 279.4L117.7 279.5L117.1 280.0L116.9 278.6L117.5 279.2M298.9 -2.4L298.0 1.0L299.6 2.2L300.6 5.5L300.6 7.5L300.3 9.9L301.4 11.5L302.6 12.3L302.4 14.3L304.9 14.7L307.1 16.2L308.8 18.6L311.3 21.0L312.9 23.2L313.3 26.1L314.5 28.1L315.9 30.1L319.5 32.5L322.0 34.5M32.2 2.0L32.4 0.0L32.2 -1.2M39.7 5.0L41.5 3.2L42.4 2.3L42.9 0.4L44.0 -1.6M42.4 2.3L45.4 4.2L47.9 4.4L48.1 6.3L47.9 6.9M49.5 7.9L51.1 6.9L51.8 4.8L53.9 4.0L55.4 4.4L57.5 2.0L59.6 1.2L61.8 0.8L64.3 0.0M55.4 15.6L58.2 16.0L60.3 15.8L61.8 16.8L62.7 16.1M65.3 27.6L65.5 25.7L65.0 24.2L66.0 23.4L65.3 22.0L66.5 21.5M85.1 25.1L84.7 27.7L85.6 28.1L84.4 29.7L83.1 30.9M106.6 12.5L104.3 13.3L103.2 15.2L102.3 16.0L100.9 18.0L100.6 20.6L99.3 23.0L100.7 23.4L101.5 25.3L102.7 26.3L102.5 29.9L104.1 31.7L107.7 31.5L110.9 31.7L113.2 35.2L116.6 35.0L120.3 34.8L118.9 38.4L119.1 41.6L119.8 44.5L120.9 45.9L118.9 48.1L121.2 50.3L121.9 52.7L122.5 54.5M122.5 54.5L121.6 54.6L121.6 52.7L120.5 50.9L117.7 51.7L117.8 52.6L111.8 52.7L111.8 55.2L114.1 56.8L111.1 57.2L111.1 60.0L112.7 61.4L113.4 63.8L111.4 76.1M111.4 76.1L110.2 74.6L108.8 74.4L111.1 70.1L108.0 68.3L105.2 68.1L103.1 69.1L100.9 68.9L99.9 66.5L98.1 64.5L95.6 61.6L92.7 59.8M92.7 59.8L91.3 59.2L88.8 57.8L86.0 58.0L84.5 56.6L82.8 56.0L80.6 54.6L79.7 53.7M92.7 59.8L92.4 63.2L91.5 65.5L87.8 69.7L83.3 71.3L81.5 72.9L80.3 77.6L79.2 79.2L77.6 77.2L75.1 76.4L74.0 75.2L74.6 72.9M111.4 76.1L108.4 76.0L104.1 77.6L100.9 79.6L99.9 83.4L98.1 86.7L97.0 88.5L98.1 88.5L100.6 94.6L99.9 96.6L102.7 97.0L103.6 99.0L106.6 99.0L109.1 97.0L109.5 103.0L112.8 102.8M112.8 102.8L116.1 108.9L114.8 113.3L115.3 115.6L113.6 118.0L114.3 120.0L112.7 121.6L114.8 123.6L114.6 125.1L112.5 127.9L113.1 128.7M113.1 128.7L112.0 129.3L109.9 132.1M113.1 128.7L114.5 130.7L115.0 134.6L116.8 136.2L115.7 140.2L117.7 143.7L118.4 146.5L118.9 149.9L121.3 149.8M121.3 149.8L121.9 150.5L120.7 154.4L117.3 156.4L116.4 159.6L116.9 163.2L117.3 165.9L115.5 166.7L114.5 169.9L112.3 171.9L111.4 175.0L111.6 179.0L109.5 182.6L110.2 185.7L111.1 189.7L112.0 191.3L111.8 195.2L109.8 198.8L109.8 202.4L107.2 204.7L107.7 208.7L108.0 212.3L105.6 216.2L104.8 219.4L104.5 224.1L105.0 227.7L103.8 230.1L105.2 232.5L105.2 235.2L106.6 236.8L105.6 239.6L105.0 242.0L104.5 245.1L102.9 247.5L102.3 251.5L98.8 253.8L99.9 257.4L99.9 260.2L103.1 260.0L102.9 263.7L104.5 265.3L111.2 265.3L116.8 266.6M116.2 267.9L116.2 276.8M121.3 149.8L122.8 147.3L124.6 145.7L126.4 146.9L130.5 147.3L131.5 149.9L132.8 146.5L136.9 146.5L137.4 147.5M137.4 147.5L143.3 153.6L148.6 156.0L154.0 158.8L155.4 159.6L154.0 163.2L151.8 167.5L157.5 168.1L159.7 168.5L161.4 167.7L164.6 165.5L165.7 163.5L166.1 160.8M166.1 160.8L168.7 160.8L169.5 163.4L169.1 165.9L168.9 166.9L165.4 168.5L161.8 171.5L159.0 174.6L157.2 177.2L155.2 179.0M155.2 179.0L154.3 182.2L153.6 186.1L153.3 190.1L152.4 192.5M155.2 179.0L158.2 179.4L161.1 181.4L162.7 181.8L166.4 184.1L168.9 186.1L170.3 188.5L170.0 191.3L170.5 193.1M166.1 160.8L167.1 154.8L163.2 154.2L162.5 149.1L159.7 146.9L154.1 146.9L154.5 142.2L153.4 139.2M153.4 139.2L150.1 136.0L140.6 137.2L138.8 140.8L137.4 147.5M153.4 139.2L154.5 134.6L155.8 131.5L154.9 128.9L152.5 127.7L152.7 123.9L146.3 123.8L146.0 119.2L145.1 114.0L140.4 112.9L136.9 110.9L134.4 109.1L131.2 108.7L129.0 106.5L127.8 103.0L128.0 99.0L127.6 97.8L123.4 98.6L120.1 101.8L118.4 101.6L116.2 103.4L112.8 102.8M122.5 54.5L124.4 56.4L127.3 56.6L128.7 54.8L131.5 53.7L132.6 51.7L134.7 50.9L134.7 49.9L132.6 49.5L131.9 47.1L131.9 45.1L130.5 43.0L132.6 43.2L135.1 43.8L136.5 45.1L137.2 43.4L140.1 43.0L143.3 41.6L144.3 38.8M144.3 38.8L141.9 35.8L142.8 32.9L145.6 31.7L144.4 29.7L146.8 27.5L146.9 25.5M144.3 38.8L146.5 38.8L147.0 41.6L148.5 44.0L147.6 46.1L146.9 48.7L147.7 52.1L149.7 54.1L152.2 54.3L154.0 53.5L156.5 51.7L159.4 51.7M159.4 51.7L156.6 46.1L155.2 43.6L154.1 40.8L156.6 38.8L157.0 35.8M159.4 51.7L161.1 50.1L164.3 49.3L166.1 50.2M166.1 50.2L167.5 47.5L168.2 45.1L166.6 40.8L166.8 39.2L168.2 36.6M166.1 50.2L168.9 50.3L172.1 50.7L174.1 47.1L175.7 44.4L176.6 42.8M300.6 5.5L303.5 5.5L305.6 5.0L308.5 5.5L311.1 5.9L308.5 6.7L305.6 6.3L303.5 7.1L300.6 7.5M300.8 10.5L305.3 9.3L311.7 9.3L316.3 10.5L319.9 11.3L322.0 10.7M311.7 9.3L311.7 13.1L308.1 13.9L307.1 16.2M313.1 23.6L315.9 20.4L320.4 19.8L322.7 22.6M316.7 -2.4L317.0 1.2L318.4 6.3L319.9 10.3L319.9 11.3M319.5 32.3L322.7 28.5L323.8 25.7M165.1 49.9L167.9 53.5L170.7 56.2L172.1 59.4L173.4 61.8L175.7 64.0M150.2 58.8L152.2 61.8L154.7 64.2L157.5 67.3L159.7 68.1L160.4 68.5L157.9 75.2L155.0 82.0L152.7 88.5M152.7 88.5L153.3 91.1L155.0 94.2L156.5 95.8L158.6 96.6L181.7 98.4M181.7 98.4L183.9 95.0L185.3 91.1L185.3 87.1L187.4 84.0L187.3 80.7L188.5 80.0M188.5 80.0L190.3 78.4L191.7 76.4L193.8 72.5L194.9 68.5L196.5 63.8M188.5 80.0L191.3 81.2L191.5 85.3L191.7 87.9L194.9 91.1L196.9 94.2L196.0 97.4L197.0 100.0M211.6 70.3L210.2 72.9L208.1 77.2L208.1 79.6L207.4 83.2L207.4 86.1L204.9 85.9L202.0 87.9L199.2 90.7L198.5 93.9L197.0 96.2L197.0 100.0M213.4 70.9L213.6 73.3L213.8 77.2L215.2 80.0L214.8 83.2L215.9 85.9L216.3 88.7M216.3 88.7L215.9 91.1L214.5 93.1L213.2 94.0M213.2 94.0L210.9 96.2L207.7 96.6L204.9 99.0L202.7 101.4L199.5 102.6L197.0 100.0M227.8 78.6L225.9 81.2L224.8 83.2L223.2 84.7M223.2 84.7L222.9 87.1L222.7 89.9M222.7 89.9L220.5 89.3L218.0 88.7L216.3 88.7M235.8 85.1L234.1 84.9L230.5 84.3L229.8 86.7L227.7 85.9L226.9 83.6L225.2 84.3L223.2 84.7M236.4 89.3L234.1 88.9L230.5 90.3L228.7 91.9L227.7 89.9L225.2 90.1L222.7 89.9M235.3 94.6L232.3 95.4L230.2 96.2L226.9 95.0L225.2 95.8L224.5 96.4M230.9 101.0L229.4 99.8L227.3 98.2L225.2 97.2L224.5 96.4M227.5 104.7L225.5 104.1L224.5 101.8L225.9 99.8L225.2 97.2M224.5 96.4L222.7 94.2L220.5 93.3L218.0 95.0L216.3 96.6L215.2 96.6L214.5 95.4L213.2 94.0M196.5 118.6L200.2 118.4L203.1 116.0L204.5 116.0L207.4 117.6L209.1 119.2L210.9 118.6L213.4 121.8L214.8 121.6L217.3 122.8L216.3 125.1L217.0 127.9L215.9 128.7L217.2 130.5M219.3 132.1L217.2 130.5M217.2 130.5L214.8 131.9L214.5 134.6L214.1 138.2L211.6 139.8L211.5 141.6L211.8 142.6M211.8 142.6L213.4 143.4L214.6 143.7M211.8 142.6L209.9 145.3L207.4 146.5L204.5 146.9L202.7 147.5L201.3 148.1M201.3 148.1L203.1 148.9L203.1 150.1L201.7 150.9L201.2 151.9M201.3 148.1L198.5 149.1L197.0 149.9L195.3 150.1L194.6 147.7L194.4 144.5L193.1 142.6L192.4 140.6L192.1 138.8L187.8 139.0L184.9 138.4L181.4 138.0L178.9 139.0M178.9 139.0L176.8 142.2L175.3 144.5L173.5 146.5L171.4 148.9M171.4 148.9L175.3 148.7L178.9 149.3L182.4 150.3L183.5 150.9L183.9 152.9L184.9 155.6L187.4 157.2L189.2 159.6M187.4 162.4L184.6 163.0L181.4 162.6L178.5 163.4L177.1 164.7L173.5 163.9L171.1 163.4L169.5 163.4M183.4 175.5L182.1 173.8L182.4 172.1L179.6 171.1L178.9 169.7L175.7 168.3L172.5 167.1L168.9 166.9M171.4 148.9L168.2 152.1L167.3 154.6M154.9 128.9L158.6 127.9L162.5 129.1L165.4 128.9L168.2 129.1L169.3 130.7L171.4 130.9M171.4 130.9L174.3 133.5L177.8 135.8L179.1 136.6L178.9 139.0M179.1 136.6L182.4 134.6L184.2 133.1L185.3 132.3L188.9 132.1L191.7 131.1L192.1 128.7L192.1 125.5L192.8 122.8L193.8 122.4L194.6 119.6L196.5 118.6M196.5 118.6L196.3 114.8L195.6 111.3M195.6 111.3L193.1 111.3L190.6 112.1L187.8 111.3L184.9 111.7L181.4 110.3L180.1 110.5M180.1 110.5L180.0 106.9L180.0 103.0L181.0 100.2L181.7 98.4M195.6 111.3L196.0 106.9L195.3 105.3L196.3 102.2L197.0 100.0M180.1 110.5L178.9 114.8L176.8 118.8L174.3 122.4L172.1 125.1L171.4 127.9L171.4 130.9M145.4 113.7L146.8 108.9L147.2 105.7L145.4 103.4L141.5 103.0L141.3 99.0L141.2 94.2M141.2 94.2L152.5 94.4L152.7 88.5M141.2 94.2L137.9 92.5L136.2 90.9L133.7 91.1L130.8 93.5L127.3 96.6L122.6 98.2M122.6 98.2L97.7 88.3M122.6 98.2L123.4 98.6M134.7 50.9L136.9 54.6L138.8 56.0L138.5 61.6L141.0 65.2L143.3 62.6L145.2 60.2L150.2 58.8L150.8 54.4M188.7 120.8L191.9 120.8L192.1 123.0L188.7 123.0L188.7 120.8" fill="none" stroke="#9a9a9a" stroke-width="0.7" stroke-linejoin="round"/>
<path d="M73.8 117.5C73.8 116.2 74.4 115.2 75.0 114.5C75.6 113.8 76.3 113.3 77.3 113.4C78.3 113.5 79.6 114.1 80.9 115.1C82.2 116.1 83.6 117.8 85.0 119.3C86.4 120.8 88.1 122.6 89.1 124.0C90.1 125.4 90.7 126.5 90.9 127.5C91.1 128.5 90.9 129.4 90.3 129.9C89.7 130.4 88.6 130.7 87.4 130.7C86.2 130.7 84.7 130.5 83.2 129.9C81.7 129.3 79.9 128.2 78.5 126.9C77.1 125.6 75.8 123.8 75.0 122.2C74.2 120.6 73.8 118.8 73.8 117.5Z" fill="none" stroke="#ff9e0a" stroke-width="1.8" stroke-linecap="round" stroke-linejoin="round"/>
<rect x="179.5" y="188.1" width="28.9" height="9.8" fill="#fff"/>
<path d="M-0.4 171.1C2.5 171.6 10.5 172.9 16.7 173.9C22.9 174.9 30.0 176.2 36.7 177.3C43.4 178.4 50.1 179.4 56.8 180.3C63.5 181.2 70.2 181.9 76.9 182.7C83.6 183.5 91.0 184.1 97.0 184.9C103.0 185.7 108.3 186.7 113.0 187.3C117.7 187.9 120.4 188.1 125.1 188.3C129.8 188.5 135.8 188.3 141.1 188.7C146.4 189.1 152.6 190.3 157.2 190.7C161.8 191.1 164.8 191.0 168.6 191.3C172.3 191.6 177.8 192.1 179.7 192.3M207.8 191.9C210.6 191.6 219.3 190.7 224.8 189.9C230.3 189.1 235.5 187.9 240.9 186.9C246.3 185.9 251.7 184.8 257.0 183.9C262.4 183.0 267.6 182.3 273.0 181.7C278.4 181.1 283.8 180.7 289.1 180.5C294.5 180.3 299.7 180.4 305.1 180.7C310.5 180.9 318.9 181.8 321.6 182.0" fill="none" stroke="#78f073" stroke-width="1.8" stroke-linecap="round" stroke-linejoin="round"/>
<text x="194.0" y="196.6" text-anchor="middle" font-family='"Liberation Sans", Arial, sans-serif' font-weight="bold" font-size="10.0" stroke="#78f073" stroke-width="0.3" textLength="26.5" lengthAdjust="spacingAndGlyphs" fill="#78f073">12200</text>
<rect x="-1.0" y="192.1" width="29.5" height="9.8" fill="#fff"/>
<rect x="193.1" y="217.2" width="29.3" height="9.8" fill="#fff"/>
<path d="M27.7 197.4C30.5 197.8 39.3 199.2 44.8 200.0C50.3 200.8 55.5 201.6 60.8 202.4C66.2 203.2 71.6 204.1 76.9 205.0C82.2 205.9 87.6 207.1 92.9 208.0C98.2 208.9 103.6 209.7 109.0 210.4C114.4 211.1 119.8 211.4 125.1 212.0C130.4 212.6 135.8 213.0 141.1 213.8C146.4 214.6 151.9 215.9 157.2 216.8C162.5 217.7 166.8 218.1 172.7 219.0C178.6 219.8 189.4 221.4 192.7 221.9M221.8 221.5C224.3 221.1 231.7 220.4 236.9 219.4C242.1 218.4 247.6 216.8 252.9 215.4C258.2 214.0 263.6 212.2 269.0 210.8C274.4 209.4 279.8 207.9 285.1 207.0C290.5 206.1 295.0 205.5 301.1 205.4C307.2 205.3 318.2 206.2 321.6 206.3" fill="none" stroke="#37cd3c" stroke-width="1.8" stroke-linecap="round" stroke-linejoin="round"/>
<text x="13.8" y="200.6" text-anchor="middle" font-family='"Liberation Sans", Arial, sans-serif' font-weight="bold" font-size="10.0" stroke="#37cd3c" stroke-width="0.3" textLength="27.1" lengthAdjust="spacingAndGlyphs" fill="#37cd3c">12000</text>
<text x="207.7" y="225.7" text-anchor="middle" font-family='"Liberation Sans", Arial, sans-serif' font-weight="bold" font-size="10.0" stroke="#37cd3c" stroke-width="0.3" textLength="26.9" lengthAdjust="spacingAndGlyphs" fill="#37cd3c">12000</text>
<rect x="25.5" y="216.6" width="29.7" height="9.8" fill="#fff"/>
<rect x="213.2" y="239.0" width="28.9" height="9.8" fill="#fff"/>
<path d="M-0.4 228.2C1.8 227.6 8.3 225.5 12.7 224.5C17.0 223.4 23.5 222.3 25.7 221.9M54.8 221.5C57.2 221.9 63.9 222.9 68.9 223.9C73.9 224.9 79.6 226.4 84.9 227.5C90.2 228.6 95.7 229.6 101.0 230.5C106.3 231.4 111.7 232.2 117.0 232.9C122.3 233.6 127.8 233.9 133.1 234.5C138.4 235.1 143.5 235.8 149.1 236.5C154.7 237.2 162.0 237.9 166.6 238.5C171.2 239.1 171.7 239.2 176.7 239.9C181.7 240.6 190.7 241.9 196.7 242.5C202.7 243.1 210.1 243.3 212.8 243.5M241.9 243.1C244.4 242.6 251.8 241.3 257.0 239.9C262.2 238.5 267.6 236.2 273.0 234.5C278.4 232.8 283.8 231.0 289.1 229.9C294.5 228.8 299.7 228.2 305.1 228.1C310.5 228.0 318.9 229.0 321.6 229.2" fill="none" stroke="#1fa81f" stroke-width="1.8" stroke-linecap="round" stroke-linejoin="round"/>
<text x="40.4" y="225.1" text-anchor="middle" font-family='"Liberation Sans", Arial, sans-serif' font-weight="bold" font-size="10.0" stroke="#1fa81f" stroke-width="0.3" textLength="27.3" lengthAdjust="spacingAndGlyphs" fill="#1fa81f">11800</text>
<text x="227.7" y="247.5" text-anchor="middle" font-family='"Liberation Sans", Arial, sans-serif' font-weight="bold" font-size="10.0" stroke="#1fa81f" stroke-width="0.3" textLength="26.5" lengthAdjust="spacingAndGlyphs" fill="#1fa81f">11800</text>
<rect x="52.6" y="242.6" width="29.3" height="9.8" fill="#fff"/>
<path d="M-0.4 262.6C1.8 261.8 8.5 259.1 12.7 257.6C16.9 256.1 20.7 254.8 24.7 253.6C28.7 252.4 32.0 251.5 36.7 250.6C41.4 249.6 50.1 248.4 52.8 247.9M80.9 247.5C83.6 247.9 91.7 249.2 97.0 250.0C102.3 250.8 107.7 251.5 113.0 252.2C118.3 252.9 123.8 253.5 129.1 254.2C134.4 254.9 140.5 255.6 145.1 256.2C149.7 256.8 151.3 257.4 156.6 258.0C161.9 258.6 170.0 259.2 176.7 260.0C183.4 260.8 190.0 261.7 196.7 262.6C203.4 263.5 210.1 264.8 216.8 265.6C223.5 266.4 230.9 267.2 236.9 267.6C242.9 268.0 247.6 268.2 252.9 268.0C258.2 267.8 263.6 267.4 269.0 266.6C274.4 265.8 279.8 264.5 285.1 263.2C290.5 261.9 295.0 260.4 301.1 259.0C307.2 257.6 318.2 255.4 321.6 254.7" fill="none" stroke="#78b6fa" stroke-width="1.8" stroke-linecap="round" stroke-linejoin="round"/>
<text x="67.2" y="251.1" text-anchor="middle" font-family='"Liberation Sans", Arial, sans-serif' font-weight="bold" font-size="10.0" stroke="#78b6fa" stroke-width="0.3" textLength="26.9" lengthAdjust="spacingAndGlyphs" fill="#78b6fa">11600</text>
<rect x="86.1" y="269.3" width="29.3" height="9.8" fill="#fff"/>
<path d="M-0.4 296.1C2.5 295.1 10.5 292.4 16.7 290.3C22.9 288.2 30.0 285.7 36.7 283.7C43.4 281.7 50.8 279.5 56.8 278.1C62.8 276.7 68.1 275.9 72.9 275.2C77.8 274.5 83.7 274.2 85.9 274.0M115.0 274.0C117.3 274.3 124.1 275.1 129.1 275.6C134.1 276.1 140.5 276.7 145.1 277.1C149.7 277.5 151.3 277.7 156.6 278.1C161.9 278.5 170.0 278.9 176.7 279.7C183.4 280.5 190.0 281.8 196.7 282.7C203.4 283.6 210.1 284.6 216.8 285.3C223.5 286.0 230.9 286.7 236.9 287.1C242.9 287.5 247.6 287.8 252.9 287.7C258.2 287.6 263.6 287.3 269.0 286.7C274.4 286.1 279.8 285.0 285.1 284.1C290.5 283.2 295.0 282.2 301.1 281.1C307.2 280.0 318.2 278.1 321.6 277.5" fill="none" stroke="#308af1" stroke-width="1.8" stroke-linecap="round" stroke-linejoin="round"/>
<text x="100.7" y="277.8" text-anchor="middle" font-family='"Liberation Sans", Arial, sans-serif' font-weight="bold" font-size="10.0" stroke="#308af1" stroke-width="0.3" textLength="26.9" lengthAdjust="spacingAndGlyphs" fill="#308af1">11400</text>
</g>
<rect x="0" y="0" width="320.4" height="297.0" fill="none" stroke="#000" stroke-width="1.45"/>
<path d="M0 0.0h-3.6M0 19.8h-3.6M0 39.6h-3.6M0 59.4h-3.6M0 79.2h-3.6M0 99.0h-3.6M0 118.8h-3.6M0 138.6h-3.6M0 158.4h-3.6M0 178.2h-3.6M0 198.0h-3.6M0 217.8h-3.6M0 237.6h-3.6M0 257.4h-3.6M0 277.2h-3.6M0 297.0h-3.6M4.4 297.0v3.4M40.0 297.0v3.4M75.6 297.0v3.4M111.2 297.0v3.4M146.8 297.0v3.4M182.4 297.0v3.4M218.0 297.0v3.4M253.6 297.0v3.4M289.2 297.0v3.4" stroke="#000" stroke-width="1.2" fill="none"/>
<g font-family='"Liberation Sans", Arial, Helvetica, sans-serif' font-weight="bold" font-size="10.1" fill="#000">
<text x="-21.99" y="4.2" textLength="16.79" lengthAdjust="spacingAndGlyphs">15N</text>
<text x="-21.99" y="24.0" textLength="16.79" lengthAdjust="spacingAndGlyphs">10N</text>
<text x="-16.90" y="43.8" textLength="11.70" lengthAdjust="spacingAndGlyphs">5N</text>
<text x="-18.42" y="63.6" textLength="13.22" lengthAdjust="spacingAndGlyphs">EQ</text>
<text x="-16.39" y="83.4" textLength="11.19" lengthAdjust="spacingAndGlyphs">5S</text>
<text x="-21.48" y="103.2" textLength="16.28" lengthAdjust="spacingAndGlyphs">10S</text>
<text x="-21.48" y="123.0" textLength="16.28" lengthAdjust="spacingAndGlyphs">15S</text>
<text x="-21.48" y="142.8" textLength="16.28" lengthAdjust="spacingAndGlyphs">20S</text>
<text x="-21.48" y="162.6" textLength="16.28" lengthAdjust="spacingAndGlyphs">25S</text>
<text x="-21.48" y="182.4" textLength="16.28" lengthAdjust="spacingAndGlyphs">30S</text>
<text x="-21.48" y="202.2" textLength="16.28" lengthAdjust="spacingAndGlyphs">35S</text>
<text x="-21.48" y="222.0" textLength="16.28" lengthAdjust="spacingAndGlyphs">40S</text>
<text x="-21.48" y="241.8" textLength="16.28" lengthAdjust="spacingAndGlyphs">45S</text>
<text x="-21.48" y="261.6" textLength="16.28" lengthAdjust="spacingAndGlyphs">50S</text>
<text x="-21.48" y="281.4" textLength="16.28" lengthAdjust="spacingAndGlyphs">55S</text>
<text x="-21.48" y="301.2" textLength="16.28" lengthAdjust="spacingAndGlyphs">60S</text>
<text x="-6.46" y="308.9" textLength="21.81" lengthAdjust="spacingAndGlyphs">100W</text>
<text x="31.47" y="308.9" textLength="17.17" lengthAdjust="spacingAndGlyphs">90W</text>
<text x="67.07" y="308.9" textLength="17.17" lengthAdjust="spacingAndGlyphs">80W</text>
<text x="102.67" y="308.9" textLength="17.17" lengthAdjust="spacingAndGlyphs">70W</text>
<text x="138.27" y="308.9" textLength="17.17" lengthAdjust="spacingAndGlyphs">60W</text>
<text x="173.87" y="308.9" textLength="17.17" lengthAdjust="spacingAndGlyphs">50W</text>
<text x="209.47" y="308.9" textLength="17.17" lengthAdjust="spacingAndGlyphs">40W</text>
<text x="245.07" y="308.9" textLength="17.17" lengthAdjust="spacingAndGlyphs">30W</text>
<text x="280.67" y="308.9" textLength="17.17" lengthAdjust="spacingAndGlyphs">20W</text>
</g>
<g font-family='"Liberation Sans", Arial, Helvetica, sans-serif' font-size="18.8" fill="#000">
<text x="43.3" y="-9.9" textLength="70.1" lengthAdjust="spacingAndGlyphs">cluster:</text>
<text transform="translate(130.2,-9.9) scale(1.12,1)" text-anchor="middle">3</text>
<text x="159.7" y="-9.9" textLength="94.0" lengthAdjust="spacingAndGlyphs">membros:</text>
<text transform="translate(270.0,-9.9) scale(1.12,1)" text-anchor="middle">3</text>
</g>
</g>
<g transform="translate(522.4,493.8)">
<clipPath id="cp3"><rect x="0" y="0" width="320.4" height="297.0"/></clipPath>
<g clip-path="url(#cp3)">
<path d="M64.3 -2.4L64.3 0.0L63.7 2.8L64.3 4.0L63.2 6.3L63.0 8.7L62.5 10.7L62.7 12.3L61.9 14.3L62.7 16.1L63.5 18.2L64.9 19.8L65.9 21.2L66.5 21.5L67.5 22.4L67.8 23.8L69.2 24.0L70.7 24.6L72.4 24.4L74.2 23.4L76.0 22.4L77.4 21.4L79.2 21.6L81.0 22.2L82.8 22.8L84.2 24.2L85.1 25.1L86.0 26.5L86.7 27.3L86.9 27.9L87.2 26.9L87.2 25.3L88.5 24.4L89.5 22.6L91.0 22.0L91.3 20.2L91.7 18.2L92.6 17.0L94.0 15.6L95.9 15.8L96.3 14.7L98.4 14.9L100.6 13.9L102.3 12.7L103.4 11.3L105.2 10.1L107.0 10.7L107.3 11.7L106.6 12.5L105.6 13.7L104.3 14.3L105.2 15.8L105.6 16.8L105.9 16.0L107.7 15.4L109.5 14.9L110.5 13.9L110.4 11.9L111.2 11.1L112.0 13.1L112.1 14.1L113.7 13.9L115.5 14.3L116.9 15.2L117.5 16.6L118.0 17.8L120.5 17.8L122.3 17.4L124.4 17.4L125.3 17.6L126.2 19.0L128.3 19.4L130.1 19.4L131.5 18.4L133.0 17.8L131.7 17.2L134.4 17.2L137.2 16.9L140.1 17.0L138.3 17.8L136.5 18.0L137.2 19.0L137.9 19.8L139.0 20.4L141.2 20.6L143.3 22.2L144.0 23.8L142.9 25.3L145.4 25.5L146.9 25.5L148.3 26.5L150.1 27.7L151.8 30.1L152.4 32.1L153.6 32.5L155.4 34.3L156.6 35.2L157.0 35.8L157.9 35.8L161.1 36.2L163.9 35.8L166.1 36.0L168.2 36.6L169.6 37.2L171.8 37.8L173.9 39.8L175.3 41.2L176.2 41.6L176.6 42.8L177.3 42.0L178.2 43.2L178.9 45.9L180.0 50.3L181.2 52.3L182.6 52.9L182.8 54.8L181.4 56.2L180.0 58.2L178.5 59.4L177.5 61.4L175.7 64.0L174.6 65.1L176.8 65.5L178.9 64.5L180.0 66.5L181.4 66.7L184.2 66.3L186.4 65.7L188.0 65.1L188.5 63.2L189.9 62.0L192.1 61.8L194.6 62.8L196.5 63.8L198.5 64.7L200.6 65.5L201.7 67.7L202.0 69.7L201.3 71.3L202.6 70.7L203.5 69.1L205.6 68.9L208.1 69.5L210.2 70.5L211.6 70.3L213.4 70.9L216.3 70.5L218.4 70.9L221.6 72.7L223.4 74.1L225.9 76.8L227.8 78.6L229.8 79.4L232.3 79.4L234.2 79.8L235.1 82.4L235.8 85.1L236.6 87.7L236.4 91.3L235.3 94.6L233.4 97.7L230.9 101.0L228.6 102.8L227.5 104.7L225.5 108.5L223.4 110.9L221.8 112.5L221.4 114.8L221.6 118.0L222.0 121.6L221.4 124.5L220.9 127.5L220.9 129.7L219.3 132.1L218.9 135.0L218.6 137.2L217.0 139.8L215.4 142.2L214.6 143.7L214.5 146.5L212.0 147.9L210.9 150.3L206.7 150.3L204.2 150.7L201.2 151.9L198.8 153.6L195.6 154.4L193.1 156.2L189.9 158.6L187.8 160.4L187.4 162.4L187.3 165.5L187.8 168.3L187.3 171.1L186.5 172.7L184.9 174.0L183.4 175.5L182.1 178.2L180.0 181.8L178.2 184.1L175.3 186.5L173.2 190.1L170.5 193.1L169.6 194.4L167.5 196.6L164.8 197.9L162.2 197.2L160.4 197.6L157.9 196.4L154.5 195.9L152.9 194.0L152.4 192.5L152.0 194.0L152.4 195.8L154.0 197.2L156.5 198.8L156.5 201.2L158.4 203.3L157.5 206.3L155.6 209.9L151.5 212.3L146.8 213.2L142.6 213.8L139.4 213.2L138.5 214.6L139.4 216.2L138.7 219.8L137.1 222.0L133.3 222.4L129.8 220.8L128.5 221.8L129.0 224.9L130.8 226.7L133.0 226.1L134.0 228.5L131.5 228.7L130.8 227.5L129.0 228.7L129.0 230.9L128.0 233.2L128.0 235.6L126.9 237.6L123.7 238.4L120.9 240.0L119.8 242.0L121.9 244.3L125.5 245.5L126.2 247.1L125.8 249.1L122.3 251.5L120.1 253.4L119.3 255.4L116.9 257.8L114.8 259.4L114.8 261.4L114.1 263.7L115.2 265.3L116.9 266.7L113.7 267.3L110.2 268.1L108.4 270.1L109.8 272.1L112.7 271.3L114.1 268.5L116.2 267.9L117.7 270.1L119.4 272.4L122.6 274.4L126.9 275.6L128.5 275.8L126.9 277.0L122.6 277.2L117.3 276.6L113.0 276.8L115.5 278.2L120.9 280.8L116.2 279.6L111.2 278.4L107.0 276.0L103.4 274.0L99.5 271.3L96.3 268.5L94.2 265.3L92.7 261.4L91.7 257.4L91.5 253.4L91.3 249.5L92.4 247.9L95.6 248.7L95.9 246.7L93.8 244.7L91.1 244.3L93.1 241.6L94.5 239.6L95.6 236.0L97.4 234.0L99.5 233.2L100.9 231.7L101.3 228.1L102.0 225.7L100.7 223.6L98.8 224.7L97.7 222.9L97.7 220.2L99.0 217.2L99.7 215.0L98.8 211.5L98.4 208.3L99.9 206.5L100.2 204.9L101.3 202.0L102.3 199.2L104.0 195.6L105.4 192.1L105.4 190.3L106.1 187.7L105.7 184.1L105.2 180.6L106.6 177.8L105.9 173.8L107.2 170.3L108.0 166.7L108.9 162.4L109.5 158.4L109.6 154.4L109.1 152.1L110.0 150.7L110.5 146.5L110.7 142.6L110.7 139.4L110.4 135.8L110.1 132.6L109.9 132.1L108.0 130.3L106.4 129.3L105.6 127.7L103.8 126.7L101.3 125.1L98.1 123.6L95.2 122.0L92.7 120.2L90.1 117.4L88.8 114.4L89.2 113.3L88.1 110.9L86.9 108.5L85.8 107.1L85.3 104.9L84.0 103.0L82.8 99.8L81.3 97.0L80.6 95.2L79.6 92.7L77.8 90.3L76.7 87.9L75.8 86.3L73.5 84.3L71.7 83.4L71.6 82.2L72.4 81.4L71.6 79.6L70.9 77.9L71.2 76.4L72.4 74.8L73.9 73.3L74.6 72.9L75.3 71.9L76.2 70.9L76.5 69.1L75.8 68.1L74.9 69.9L73.9 69.5L72.1 68.1L73.0 66.9L72.6 64.9L72.4 63.6L73.7 62.8L74.2 61.0L75.3 59.6L75.5 57.4L76.7 55.6L78.5 55.0L79.7 53.7L79.9 52.3L80.8 49.9L82.8 49.3L84.2 47.5L85.6 44.9L84.7 43.2L85.1 40.0L84.4 37.6L85.1 34.8L84.4 32.7L83.1 30.9L82.1 29.3L81.2 27.5L82.4 26.3L81.0 25.3L79.2 24.0L77.4 24.0L76.4 25.3L74.6 26.5L74.0 27.7L75.6 29.7L74.2 30.7L72.4 30.9L71.9 28.7L70.3 28.9L69.2 27.3L67.5 26.7L65.7 26.5L65.3 27.6L64.4 26.3L63.9 25.3L63.5 26.1L62.3 25.7L62.7 24.0L60.9 22.2L59.1 21.4L58.4 19.9L57.5 19.2L58.0 20.8L57.3 21.4L55.5 20.2L54.8 18.4L55.0 16.2L55.4 15.6L53.9 13.9L52.2 12.3L50.4 10.3L48.6 8.3L49.5 7.9L49.0 6.7L47.5 7.1L45.4 7.1L42.5 6.1L40.4 5.5L37.9 4.4L35.1 4.0L32.2 2.0L30.1 0.0L27.6 -2.4M105.6 16.8L104.3 18.6L104.1 21.4L105.6 23.4L107.2 23.0L107.5 20.6L106.6 18.2L105.9 17.0L105.6 16.8M54.6 11.5L56.8 12.3L58.2 15.0L56.4 15.0L54.8 13.5L54.6 11.5M52.2 10.3L53.6 11.1L53.4 9.9L52.2 10.3M111.1 120.4L112.7 120.4L114.1 122.4L115.9 123.6L115.2 124.9L113.4 123.6L111.6 122.4L111.1 120.4M178.2 178.4L180.3 179.4L178.9 182.2L176.8 184.5L175.0 186.1L174.6 184.5L176.8 182.2L177.5 179.8L178.2 178.4M172.8 186.9L171.4 189.3L170.0 191.3L171.1 190.9L172.8 188.5L172.8 186.9M122.2 133.8L122.0 132.6L121.5 132.6L121.3 133.8L121.5 135.0L122.0 135.0L122.2 133.8M179.8 60.2L182.4 59.8L184.9 60.0L187.8 60.6L188.1 63.0L186.4 65.3L183.5 66.1L180.7 66.3L179.6 64.5L179.8 60.2M181.0 57.0L183.5 58.0L183.9 59.0L181.0 58.8L181.0 57.0M175.7 64.0L177.8 63.0L179.2 61.4L180.3 59.8L181.4 58.6M178.9 64.5L179.2 63.0L180.3 61.8L181.7 61.4L182.8 60.2M179.6 63.4L181.0 64.2L182.4 63.4L183.9 64.2L185.3 63.4L186.4 64.5M180.7 61.8L182.4 62.2L183.9 61.4L185.3 61.8M182.8 59.4L184.2 58.6L185.3 59.2L183.9 59.8L182.8 59.4M179.2 57.8L180.3 57.2L181.4 58.2L180.3 58.6L179.2 57.8M177.8 60.6L178.9 61.0L179.2 62.6L178.2 62.2L177.8 60.6M187.4 66.1L186.4 67.7L185.3 69.3M184.6 66.3L184.2 68.1L183.9 69.7M140.1 17.0L143.3 16.4L143.5 19.4L140.1 19.6L141.5 18.6L141.7 17.4L140.1 17.0M145.0 14.5L144.6 14.4L143.9 14.8L143.7 15.2L144.2 15.3L144.8 14.9L145.0 14.5M134.0 15.8L133.6 15.5L132.6 15.4L131.6 15.5L131.2 15.8L131.6 16.2L132.6 16.3L133.6 16.2L134.0 15.8M141.1 11.5L140.9 11.0L140.7 11.0L140.5 11.5L140.7 11.9L140.9 11.9L141.1 11.5M142.9 6.9L142.7 6.5L142.4 6.5L142.3 6.9L142.4 7.4L142.7 7.4L142.9 6.9M148.8 7.3L148.6 6.8L148.3 6.8L148.1 7.3L148.3 7.8L148.6 7.8L148.8 7.3M143.6 4.4L143.5 3.7L143.1 3.7L142.9 4.4L143.1 5.0L143.5 5.0L143.6 4.4M143.8 1.4L143.6 0.5L143.0 0.5L142.8 1.4L143.0 2.2L143.6 2.2L143.8 1.4M111.6 10.2L111.6 9.8L111.2 9.5L110.9 9.6L110.9 10.0L111.3 10.3L111.6 10.2M115.5 11.6L115.3 11.1L114.6 10.6L114.1 10.5L114.3 11.0L115.0 11.6L115.5 11.6M117.7 11.1L117.5 10.6L117.1 10.6L116.9 11.1L117.1 11.6L117.5 11.6L117.7 11.1M69.8 9.7L69.7 9.3L69.5 9.5L69.5 9.9L69.7 10.1L69.8 9.7M37.2 61.4L36.6 60.0L35.6 59.8L34.8 60.5L34.9 62.2L35.8 63.2L36.6 63.4L37.6 63.2L37.2 61.4M35.2 61.0L35.0 60.3L34.4 60.3L34.2 61.0L34.4 61.7L35.0 61.7L35.2 61.0M39.6 61.8L39.3 61.3L38.6 61.0L38.1 61.5L38.1 62.1L38.6 62.5L39.5 62.5L39.6 61.8M37.8 60.6L37.5 60.1L37.0 60.3L37.0 60.9L37.5 61.0L37.8 60.6M42.6 62.3L42.0 62.2L41.3 62.6L41.0 63.2L41.6 63.4L42.4 62.9L42.6 62.3M38.8 64.5L38.6 64.2L38.2 64.4L38.2 64.7L38.6 64.8L38.8 64.5M41.4 64.9L41.2 64.6L40.9 64.7L40.9 65.0L41.2 65.1L41.4 64.9M73.1 193.1L72.8 192.8L72.5 193.1L72.8 193.3L73.1 193.1M80.1 192.7L79.7 192.4L79.4 192.7L79.7 192.9L80.1 192.7M142.6 262.5L146.1 263.7L149.0 263.9L150.4 264.3L149.3 265.3L147.2 266.3L144.7 267.3L143.3 265.9L145.8 265.3L142.6 262.5M150.4 264.1L152.5 263.7L154.7 264.9L152.5 266.5L149.7 267.3L148.3 266.5L150.8 265.7L150.4 264.1M146.1 264.5L148.3 264.9M150.8 264.9L152.9 265.3M224.8 273.2L228.7 273.6L231.6 274.8L233.0 276.4L230.5 275.6L226.9 274.4L224.8 273.2M260.8 282.3L260.4 282.0L260.1 282.3L260.4 282.7L260.8 282.3M262.5 283.9L262.2 283.6L261.8 283.9L262.2 284.2L262.5 283.9M264.0 285.5L263.6 285.2L263.3 285.5L263.6 285.8L264.0 285.5M265.8 288.3L265.4 288.0L265.0 288.3L265.4 288.6L265.8 288.3M266.5 290.7L266.1 290.3L265.8 290.7L266.1 291.0L266.5 290.7M266.8 293.0L266.5 292.7L266.1 293.0L266.5 293.4L266.8 293.0M263.6 294.6L263.3 294.3L262.9 294.6L263.3 294.9L263.6 294.6M130.1 276.4L131.9 276.0L133.3 276.2L131.5 276.8L130.1 276.4M98.8 224.9L96.8 225.1L96.3 228.1L95.6 230.9L98.1 231.3L98.8 228.9L98.4 226.9L98.8 224.9M96.8 233.5L95.7 233.4L95.4 234.7L95.4 235.9M97.2 233.7L97.3 234.9L97.4 233.7L97.8 233.5M96.0 232.7L97.1 233.9L98.0 234.5L97.2 235.6M96.8 232.2L95.8 232.0L95.0 233.1L95.5 233.0L95.8 233.0M97.5 232.3L97.7 232.4L97.2 231.6L97.7 232.3L97.9 232.3L98.8 231.6L98.3 230.3M96.1 232.0L95.3 232.1L94.1 231.6L94.8 231.4L95.7 231.9L96.2 231.6M97.6 231.9L98.7 232.0L99.1 233.2L99.6 232.8M98.9 231.2L99.5 230.1L99.1 228.9L98.7 228.6L98.7 229.4L98.2 228.7M97.0 231.0L96.0 231.2L96.1 230.1L96.9 229.1L96.4 229.3L96.0 228.3L97.1 229.2M96.3 232.4L95.1 231.5L94.3 232.1L93.4 232.0L93.7 232.5M95.1 234.1L94.9 233.1L96.1 232.6L96.2 232.9M96.2 234.9L95.1 236.1L94.4 237.0L94.0 238.2L92.7 239.2L91.7 239.6L90.6 238.5M97.1 235.5L98.3 235.2L98.2 236.3L98.2 235.0L98.1 235.5L97.2 234.8M97.7 234.9L97.7 235.7L98.8 236.1L99.3 234.9L100.0 235.5M97.3 235.6L97.3 234.5L97.0 235.3L97.1 235.3L97.4 235.0L98.1 234.2M95.4 234.4L95.9 235.1L96.0 235.5L94.8 236.8L94.3 237.5L94.7 236.2L94.6 235.0M98.7 232.9L97.7 234.0L97.6 234.5L97.6 233.1L97.9 234.5L98.9 235.0M97.3 233.2L98.3 232.4L98.9 232.5L98.1 231.7M95.9 233.2L95.8 232.6L94.8 233.5L96.0 234.8L96.3 234.9L96.7 234.6L96.9 234.7M98.5 234.5L97.3 233.7L97.9 234.8L98.5 235.8L99.7 236.6M98.2 237.7L97.6 238.5L97.9 239.1L97.7 240.2L98.7 240.6M96.1 236.6L96.9 235.6L96.0 236.6L96.0 235.5L96.7 235.2L97.4 236.2L96.5 235.9M94.4 237.7L95.1 238.8L95.3 239.5L94.7 238.7L94.7 238.5L95.4 237.4L95.2 237.1M96.3 236.8L96.2 236.7L96.2 235.5L96.6 234.4L97.8 235.1L97.9 233.9M98.0 237.5L97.7 238.0L98.2 238.2L97.4 238.8M94.4 235.3L93.5 234.2L94.7 235.0L95.8 235.3L95.8 233.9L96.6 234.8M96.0 235.8L95.8 236.2L94.7 236.6L94.3 236.7L94.8 237.0L94.9 237.6M98.6 236.6L99.8 237.7L99.2 239.0L99.9 239.6L99.0 239.8M98.3 235.2L98.1 235.1L98.2 235.1L97.7 235.7L98.5 236.6L99.5 237.2M93.9 236.6L92.9 235.6L91.8 234.6L91.7 235.1L91.8 233.9L91.2 234.9M96.1 239.3L97.3 240.0L96.5 238.8L96.8 238.7M94.4 238.9L93.8 238.1L95.0 239.3L93.8 239.3L95.0 239.3M94.6 238.9L95.0 238.8L95.9 237.5L95.5 238.3L94.8 239.1L95.7 238.5L94.8 237.1M98.5 238.1L97.4 237.5L96.8 238.4L95.8 237.4M97.9 238.5L98.2 237.9L97.0 238.8L96.5 240.2L96.1 240.6L97.3 241.1M93.5 237.0L93.1 238.4L92.8 238.5L92.8 239.3L92.8 240.7M94.7 238.6L94.9 238.9L94.4 238.5L93.4 237.3L94.2 238.2L95.2 237.4L95.5 236.7M97.1 237.8L97.7 237.4L96.5 236.5L97.5 236.1L98.1 235.3L97.2 235.2M96.0 237.1L96.8 236.9L97.8 236.4L98.2 237.1M93.4 238.5L94.6 238.9L94.5 240.1L93.3 240.0L92.6 240.7L92.5 241.9M97.7 240.0L98.1 241.2L98.7 241.9L97.7 242.5M96.7 241.4L96.7 241.7L96.7 241.2L97.3 240.8L97.7 242.0L96.8 242.7L97.4 243.2M95.9 241.7L95.9 240.4L94.9 241.2L94.9 240.6M94.5 240.8L95.7 240.7L95.3 241.8L95.2 242.4M93.5 240.8L94.7 241.1L95.7 239.9L94.7 241.0L95.3 241.7L95.0 241.4L95.3 242.0M93.7 240.0L94.6 240.1L93.5 241.5L93.4 241.6L92.9 242.6L92.6 243.1L93.4 244.5M96.8 239.1L97.9 239.9L96.7 239.3L96.1 240.5M95.0 239.0L94.7 239.2L94.1 240.5L93.1 239.6M94.5 238.9L95.7 239.1L95.2 238.3L95.9 238.5L94.8 237.8M95.1 239.0L95.6 240.3L96.2 240.4L96.8 240.0L96.3 241.3M96.7 243.5L96.5 244.1L95.9 243.4L96.3 243.7L95.6 243.7L96.0 244.8L96.4 246.0M94.9 242.1L94.8 242.6L95.4 242.8L95.5 243.5L94.7 243.3M94.1 243.0L95.1 242.3L94.8 242.6L94.9 242.9L94.5 244.1M93.9 241.8L94.4 241.7L95.1 240.8L94.1 239.7L93.8 239.3M94.6 243.1L93.7 243.3L94.3 242.5L95.5 242.5M93.1 240.9L94.2 241.6L93.3 242.6L93.3 242.1L94.4 241.4L94.8 240.7L94.7 240.6M92.9 241.2L93.1 242.5L93.6 241.2L93.9 241.1L93.8 240.4M93.2 242.2L92.9 242.9L93.1 244.3L92.6 244.4L93.8 244.0M96.5 241.8L96.6 243.1L96.4 242.7L95.3 243.5L96.3 243.1M93.1 242.3L94.1 243.1L93.0 243.5L92.8 243.0L92.0 242.2L92.6 242.2L91.9 240.9M94.1 248.5L94.0 249.1L95.0 250.2L95.3 249.9L96.2 249.9M96.6 250.0L97.7 251.2L96.5 250.9L96.3 250.3L95.5 250.5M95.8 249.5L97.0 248.3L96.6 249.1L97.7 248.4M92.9 248.8L93.7 247.4L93.6 248.5L92.5 249.7L92.3 248.6L92.5 247.9L92.2 247.1M94.1 248.5L92.9 248.6L92.6 247.4L91.9 247.8M96.6 249.0L95.9 248.7L95.7 249.0L95.6 248.2L94.5 249.0L93.4 248.7L93.1 249.2M96.8 249.0L97.9 249.6L98.4 249.3L99.2 248.1L98.1 247.2L97.1 246.6M94.7 247.5L95.8 246.7L94.8 246.7L93.6 245.5L93.1 245.0L92.3 245.7M96.4 248.2L96.4 248.5L95.6 248.7L96.0 248.8M95.1 248.8L96.0 247.4L95.4 248.6L94.4 248.6L95.0 248.7L94.3 248.9L94.6 248.5M95.5 250.4L96.2 250.9L95.6 251.6L95.0 252.3M93.8 251.7L93.0 250.6L93.2 251.1L92.9 249.7L92.9 250.5M95.8 250.8L94.8 250.8L95.6 249.9L96.6 251.2M93.1 251.8L93.3 250.9L92.5 252.1L92.6 253.0L92.8 252.2M95.0 252.0L94.3 252.4L93.4 253.2L92.8 253.0L93.2 253.8L92.0 254.3M95.1 250.7L94.1 252.0L94.1 252.0L93.8 251.2L94.2 252.2L94.3 251.8M93.6 250.5L94.0 250.8L92.9 250.1L93.9 250.3L92.7 249.6L93.4 249.2M93.6 250.3L93.4 251.2L92.5 252.3L92.6 252.7M95.6 250.8L95.7 250.4L96.8 251.6L97.1 251.9M94.2 250.8L93.3 251.7L92.3 252.0L92.9 251.2L93.7 251.7L94.5 253.0M96.7 253.4L95.6 252.8L96.1 251.7L96.4 250.8L96.7 250.4L96.0 250.5L96.2 251.8M96.8 253.7L95.9 254.4L96.4 253.3L95.3 253.2L95.9 254.4L96.8 255.5M94.8 252.9L95.1 253.5L94.5 253.8L94.2 253.8L93.4 255.1L94.6 255.2M93.8 252.8L94.7 251.9L94.4 253.1L94.1 253.5L94.8 253.5L95.2 254.8L94.3 253.6M93.0 252.6L91.9 252.6L91.6 251.3L90.7 250.4M97.2 251.6L96.4 250.3L96.4 249.0L97.4 249.9M95.9 251.2L96.7 250.9L96.1 251.4L96.4 250.3M93.9 252.5L93.2 253.2L93.2 253.7L92.0 254.6L91.2 253.4L91.6 252.3L90.8 251.5M91.8 252.0L93.0 252.1L93.0 251.6L94.0 252.3L94.1 251.3L94.7 251.7M93.4 252.3L93.1 251.6L92.9 252.5L93.5 253.7L94.3 254.4M95.1 254.1L95.6 253.4L94.9 254.0L95.3 254.2L94.9 255.4L94.9 255.1M91.3 255.9L90.8 255.8L90.8 256.1L90.4 257.1L90.0 256.2L89.2 257.5M96.1 254.6L95.1 254.2L96.0 253.4L95.8 254.1L94.6 253.7L94.7 254.1L95.1 254.3M97.0 254.6L96.1 255.9L95.0 257.3L94.3 258.2L95.3 259.3M94.9 254.7L94.0 255.5L94.3 255.5L94.6 254.7L93.8 255.2M92.9 254.9L93.4 256.3L94.3 255.6L94.2 254.9L94.1 255.7L93.1 256.4L91.9 256.9M95.8 253.6L96.3 254.3L96.4 254.5L97.1 254.4L96.6 254.0L97.7 254.8M96.6 255.0L97.6 254.0L96.9 255.0L97.9 255.8L97.6 255.6L97.3 254.6M96.9 253.1L96.8 253.0L95.6 254.3L96.7 255.0L97.7 254.2L97.4 254.0L97.6 254.9M91.2 254.8L90.8 255.8L89.6 257.1L90.1 256.7L90.6 256.0M91.6 256.8L90.8 255.6L90.9 255.1L91.9 254.4L92.4 254.7L91.8 255.5M91.4 256.1L92.2 255.7L91.6 256.9L90.6 256.1M92.5 257.4L91.9 257.8L93.0 259.0L93.6 257.9L94.3 257.6L94.3 258.2L94.9 257.4M91.3 257.0L91.0 256.4L91.1 257.2L92.0 258.3M96.7 257.7L96.7 258.2L97.4 259.5L97.0 260.6M95.8 255.4L96.1 254.1L96.1 253.9L95.3 253.0L96.3 253.8L95.5 252.5L96.2 252.6M97.8 255.9L98.2 256.3L97.9 256.6L98.9 257.7M97.1 257.0L96.7 257.2L96.8 258.1L98.0 257.7L99.1 258.7M95.2 255.6L94.8 256.1L93.9 255.2L94.3 254.5M92.3 256.1L92.5 257.2L92.4 256.1L91.7 257.0L91.2 256.4L92.1 257.4M92.5 259.5L92.8 259.9L92.1 258.6L91.5 257.4L92.8 258.3L93.2 259.2M92.5 259.7L93.1 259.9L92.3 259.5L91.4 260.3L91.1 261.6L90.8 260.8M96.2 259.0L96.1 260.0L96.3 260.2L96.9 259.1L96.8 258.9L97.4 259.1M93.0 258.5L93.5 258.2L93.4 258.7L93.7 259.8L93.5 259.0M96.3 258.7L97.2 258.8L96.0 257.8L96.0 257.3L97.0 256.2L96.5 257.6M97.1 257.2L96.0 257.1L95.1 256.3L96.2 256.2M92.2 257.8L92.7 257.8L93.1 256.9L93.1 257.1L94.2 258.0M96.1 258.2L96.7 257.9L97.0 258.6L96.7 259.8M92.0 257.2L92.2 258.3L91.7 258.5L92.8 257.2L94.1 255.9L94.0 256.9M97.8 258.8L97.7 258.7L97.0 257.4L96.7 257.0L97.4 256.1M95.4 261.4L96.1 261.5L96.8 262.2L97.3 261.7L98.5 261.2M95.5 260.4L95.1 259.9L94.7 260.0L95.0 261.1L95.9 262.1L95.5 262.4M92.6 260.8L93.3 261.8L94.2 261.5L93.0 262.8L94.1 262.4L93.5 263.5M93.0 261.5L92.7 262.5L93.7 261.6L92.8 260.6L93.1 259.8L93.5 258.7L94.2 257.8M93.4 260.6L94.0 260.8L95.0 260.6L94.4 261.3M93.0 260.0L93.0 258.9L93.5 259.6L92.6 259.3M97.3 260.6L97.2 260.5L97.6 259.5L97.3 259.8L98.4 260.9L98.8 260.6M92.2 259.8L93.0 260.9L93.0 260.2L92.1 261.0L91.9 262.0L90.9 261.6M94.5 259.4L93.9 259.9L93.3 261.1L92.8 261.5L92.8 262.0M99.0 259.2L100.2 258.8L100.9 259.3L100.5 259.8L100.7 259.5L101.4 260.7M98.0 262.2L97.8 263.3L96.7 262.4L96.6 261.6M92.9 262.9L93.1 262.6L93.6 262.3L94.1 263.1L94.5 263.2L95.2 264.3L94.4 265.6M98.4 262.1L98.1 261.2L98.8 261.1L98.2 261.6M95.7 263.3L95.9 263.1L96.9 263.1L96.9 262.2L97.6 262.4L98.1 262.7L97.0 262.2M97.0 262.0L97.0 262.2L96.0 261.8L95.3 262.8L94.1 264.1M97.7 262.7L97.0 263.8L97.0 264.4L97.1 264.5M98.2 261.1L98.9 260.5L99.8 259.9L98.7 259.5L99.3 259.6L100.3 260.3M99.9 261.5L98.8 260.5L99.3 260.1L99.0 260.7M97.1 261.0L97.4 261.6L98.5 260.9L98.4 261.9L99.6 262.9L100.7 263.8L101.4 263.9M98.5 262.0L99.2 261.9L98.7 263.1L99.8 262.5L100.7 263.0L100.9 261.7M99.7 264.7L99.9 263.4L99.3 263.7L99.0 263.0L98.3 263.1L98.8 263.6M95.1 265.6L94.6 266.6L95.6 265.2L94.7 263.9M99.4 264.8L99.1 266.0L99.2 265.2L98.4 264.5L99.5 265.2L99.8 264.7L99.7 265.5M95.0 264.4L94.9 265.6L95.7 264.8L95.0 264.6L96.0 263.5L96.0 263.6L96.3 264.5M94.5 265.6L94.1 265.4L93.9 265.3L93.0 266.6L94.3 266.9L93.3 266.6M99.4 264.6L99.0 264.6L97.8 265.9L99.0 264.8M96.9 263.8L98.0 264.4L97.0 264.6L97.2 264.3L96.3 263.3L95.9 261.9M96.0 264.9L96.2 263.8L96.1 262.6L97.1 263.8M97.8 264.1L98.3 265.3L97.9 266.0L96.9 264.8M97.1 264.6L96.7 265.3L97.3 266.2L98.4 265.0L97.3 264.8M94.2 266.1L94.9 265.5L95.3 264.1L94.2 265.1L94.8 263.9L95.3 264.5M99.2 266.4L99.2 266.7L98.9 267.1L98.6 267.3M101.2 266.1L101.1 264.9L101.8 265.9L102.7 267.1M99.5 267.2L100.2 265.9L101.2 266.2L100.1 267.4L101.2 267.9M96.1 267.7L95.2 268.4L94.1 267.8L94.2 268.8L95.1 269.5L94.9 270.4M96.4 265.2L97.2 265.9L96.2 266.0L96.1 267.0L96.2 266.6L96.9 265.4M99.0 265.3L98.4 266.1L98.0 264.7L99.3 263.5M94.9 266.3L93.7 265.7L93.2 264.4L92.0 263.5L91.6 264.5M94.0 265.3L93.2 265.4L94.2 266.2L94.4 267.2L93.6 266.5L94.2 267.3M94.7 266.7L95.3 267.6L94.4 267.2L94.8 268.0L94.3 269.4L94.8 269.3L95.6 268.2M100.0 269.2L100.9 268.2L100.9 269.5L101.9 269.6L102.8 270.2L102.0 269.3M98.6 269.6L98.8 268.6L98.5 267.4L99.6 268.5L99.3 269.3L100.1 268.1M102.4 268.2L101.9 269.2L102.5 269.4L101.3 268.5M96.5 269.4L95.8 270.3L94.8 271.0L95.6 272.3M96.1 268.5L95.5 267.6L95.9 267.7L95.2 267.8L94.8 268.9M96.9 268.3L96.9 268.3L96.3 269.4L96.1 270.4L96.3 269.4L95.4 269.2L96.1 270.1M102.9 267.0L103.4 266.8L103.6 268.0L104.8 269.3L104.4 269.6L105.3 269.0L106.1 268.8M104.4 268.2L105.2 269.5L105.3 268.2L106.3 268.9L106.2 268.5L105.8 268.5L104.7 268.6M99.9 268.8L99.7 269.1L100.9 269.3L99.8 267.9L101.0 269.2M103.2 267.7L103.6 266.8L102.4 267.9L101.5 269.3L100.8 270.5L99.8 271.0M98.7 271.7L97.6 271.5L98.7 271.7L98.7 270.6L99.8 270.4L99.2 269.7M104.4 271.3L104.7 271.1L105.0 271.9L105.6 272.0L105.7 271.7L105.6 272.2L105.0 273.0M102.1 271.1L100.9 271.5L101.8 272.2L101.9 272.3L101.4 270.9L100.9 270.1L100.0 271.3M105.7 271.0L105.7 270.1L105.4 269.3L105.4 268.0M103.8 270.0L103.4 270.4L103.8 270.1L104.7 269.2L104.7 268.5L105.3 267.8L105.3 267.0M104.1 269.1L103.9 270.2L103.6 270.0L102.7 270.3L103.9 271.3M105.5 270.3L105.2 270.4L105.1 269.8L104.6 270.1M102.5 270.1L101.3 269.4L102.5 269.8L102.0 269.6L102.8 269.8L102.5 270.6M105.2 270.2L106.3 271.0L106.2 269.9L104.9 271.1L105.1 271.2M106.2 269.3L106.2 269.3L106.7 269.6L106.3 269.3L106.0 268.1L106.4 268.0L105.4 268.4M103.1 272.3L104.1 271.0L104.1 271.2L104.4 269.8L104.0 269.7M107.3 273.1L106.9 274.3L106.5 275.2L106.9 275.7L106.5 274.5L106.5 273.2M105.4 272.4L105.4 273.3L104.7 272.9L104.9 273.3L106.1 272.9M99.6 272.6L99.1 272.1L97.8 272.6L98.7 272.4M105.8 273.0L106.5 272.9L107.4 271.8L107.4 272.8L106.7 272.5L105.8 272.4L105.8 273.7M99.9 270.6L100.7 270.3L101.5 271.5L100.3 270.7L99.8 270.1L99.5 271.0L98.9 272.2M108.2 271.3L107.4 271.0L106.2 271.7L105.9 271.0L104.8 272.2L104.1 273.0M100.7 271.3L100.3 270.2L101.1 270.7L101.3 269.4L101.3 268.2M101.6 271.7L101.4 272.0L101.9 273.3L102.8 274.4L102.0 274.8M99.2 270.7L99.4 271.8L99.5 272.1L99.2 273.3L98.3 272.4L97.9 273.1L97.1 273.7M104.0 275.0L103.6 275.9L104.1 277.0L103.5 276.1M102.9 274.1L102.1 274.6L102.6 274.9L103.8 275.7L104.9 275.7M103.9 274.1L105.0 272.7L105.2 272.9L106.5 272.8L106.2 272.8M102.9 273.5L103.0 274.2L103.7 274.5L104.1 274.3M104.7 274.2L105.2 273.5L104.6 274.3L105.5 275.5M110.7 272.4L110.0 271.8L109.0 272.4L109.7 272.7L109.4 271.7L109.3 271.4M107.9 272.3L107.1 272.7L107.8 272.2L108.8 273.5L109.3 273.6L110.6 273.9M110.7 273.8L109.7 272.7L110.3 272.1L109.1 273.4L108.3 274.2L107.8 274.5M102.0 273.4L102.2 274.2L102.2 274.1L103.2 273.6L103.4 272.4M102.8 272.5L103.8 271.5L104.0 270.9L105.1 270.4L104.0 270.9L104.7 271.4M112.9 275.4L114.2 275.1L113.5 275.0L113.1 273.7L113.0 274.2L113.0 273.7L113.8 273.3M109.2 274.9L109.0 274.8L110.1 275.9L110.7 277.1L111.2 276.3M106.9 275.1L107.0 275.8L105.9 276.2L105.7 277.0L105.2 278.1M111.0 274.9L111.5 276.3L112.0 277.3L112.4 276.7L111.5 276.1M109.9 275.7L110.0 275.0L109.2 274.5L109.5 274.7M111.6 273.6L112.1 274.9L112.0 276.2L113.0 276.7M105.5 274.6L104.7 274.8L104.8 275.3L105.0 276.6M108.8 273.3L107.8 272.7L109.0 272.5L108.0 272.5L107.8 273.4L108.0 274.8L109.0 274.4M110.3 273.4L110.7 274.5L111.3 275.9L111.0 276.8L110.7 275.6L110.8 274.5M110.8 275.0L111.4 275.5L110.6 274.6L110.2 275.0L110.3 275.3L111.1 276.0M108.0 276.3L109.1 275.0L109.0 275.0L108.2 275.6L108.4 276.8L108.9 277.7L108.7 276.4M108.5 277.3L108.4 278.1L108.1 279.4L108.4 278.5L108.4 279.5L107.3 280.7L107.8 279.6M108.2 277.4L109.2 278.3L108.7 278.5L108.9 278.9L108.1 280.0M110.5 276.5L111.6 275.2L111.9 274.3L110.8 273.9L111.1 274.4M112.6 275.5L113.0 276.5L113.9 276.4L114.2 275.5L113.5 274.8L114.0 275.8L114.2 275.6M115.7 275.7L115.9 276.0L114.9 276.9L115.9 276.7L115.0 275.7M109.9 276.2L110.4 277.0L110.3 276.9L110.8 276.2L111.8 276.0L112.7 275.5M114.5 276.1L114.8 274.9L114.9 275.0L115.3 274.9M116.0 276.0L116.6 277.0L117.3 278.3L116.7 278.6L115.5 278.4L114.8 278.9L115.3 279.1M115.3 275.2L115.4 274.0L116.4 274.9L117.0 275.4L117.6 274.9M117.4 278.3L117.4 278.3L117.0 278.3L117.8 278.7L117.5 279.2L117.7 280.5M118.0 278.1L117.3 278.3L118.1 278.0L117.1 279.4L116.2 278.5L115.4 278.4M113.2 277.2L114.0 277.0L113.4 275.6L114.0 276.2L113.9 277.6L115.1 277.6L115.1 278.9M117.5 278.4L118.3 277.1L118.8 277.3L118.1 276.0L118.2 276.4L118.2 276.9L117.3 276.6M112.5 277.0L112.1 277.1L113.2 277.6L112.8 277.6L112.1 278.3L113.1 278.0L113.4 277.4M112.0 276.8L112.0 277.5L112.2 277.4L113.3 276.1M111.2 276.5L112.1 275.7L112.4 275.4L112.1 276.0M117.1 275.9L117.6 276.4L118.2 275.7L118.3 275.4L117.9 275.2M114.1 277.5L114.5 276.4L115.2 276.4L116.2 275.5L117.4 276.5L116.7 275.4M116.2 276.8L116.3 277.3L115.5 278.5L115.0 279.1L115.6 278.9L116.7 279.4L117.7 279.1M115.0 279.4L116.2 279.8L116.9 280.0L117.8 281.2L117.7 280.1L117.2 280.8M114.6 279.4L113.9 280.8L112.8 280.9L113.8 281.5L113.8 282.6L113.2 283.9M115.3 279.7L116.1 278.6L115.7 279.6L114.9 279.5M120.1 278.5L119.3 279.0L120.0 278.6L119.7 278.1M116.6 279.7L117.4 280.8L117.6 280.0L118.9 280.3L120.0 279.3L118.8 279.8L119.2 280.3M117.1 277.4L116.3 278.7L115.5 278.6L116.4 279.0L116.0 279.5L116.5 278.4M115.4 276.8L114.8 276.5L115.5 276.6L114.4 276.2L114.8 276.0L115.3 275.9M116.8 277.7L115.9 279.1L115.8 278.7L116.5 279.0L117.7 279.8L118.3 280.9M114.6 278.5L114.7 279.3L115.4 280.0L115.7 279.3M120.2 277.1L120.3 277.5L120.8 277.6L121.7 278.4L122.8 277.3M119.3 280.5L118.3 279.9L117.3 279.5L117.0 278.5M117.9 279.8L118.9 280.2L119.3 279.2L118.2 280.5L118.7 281.2L118.3 281.7L118.1 282.3M121.4 280.0L121.4 278.8L122.0 277.5L121.1 278.1L120.1 279.4M121.4 280.5L121.8 280.2L121.7 280.0L122.7 280.8L123.6 281.2L124.3 280.2M118.4 279.3L118.9 278.4L118.0 277.3L117.1 277.8L117.1 278.2L117.7 278.3M119.4 279.2L120.3 277.8L119.1 278.6L119.9 278.0L118.7 278.0L118.1 278.2L117.1 279.5M121.9 279.3L120.9 279.4L120.0 279.6L119.2 279.1M118.3 278.5L118.4 277.6L119.5 278.7L120.7 277.8M121.8 279.5L121.2 280.4L120.7 281.6L119.5 281.6M119.4 278.9L118.8 279.4L117.7 279.5L117.1 280.0L116.9 278.6L117.5 279.2M298.9 -2.4L298.0 1.0L299.6 2.2L300.6 5.5L300.6 7.5L300.3 9.9L301.4 11.5L302.6 12.3L302.4 14.3L304.9 14.7L307.1 16.2L308.8 18.6L311.3 21.0L312.9 23.2L313.3 26.1L314.5 28.1L315.9 30.1L319.5 32.5L322.0 34.5M32.2 2.0L32.4 0.0L32.2 -1.2M39.7 5.0L41.5 3.2L42.4 2.3L42.9 0.4L44.0 -1.6M42.4 2.3L45.4 4.2L47.9 4.4L48.1 6.3L47.9 6.9M49.5 7.9L51.1 6.9L51.8 4.8L53.9 4.0L55.4 4.4L57.5 2.0L59.6 1.2L61.8 0.8L64.3 0.0M55.4 15.6L58.2 16.0L60.3 15.8L61.8 16.8L62.7 16.1M65.3 27.6L65.5 25.7L65.0 24.2L66.0 23.4L65.3 22.0L66.5 21.5M85.1 25.1L84.7 27.7L85.6 28.1L84.4 29.7L83.1 30.9M106.6 12.5L104.3 13.3L103.2 15.2L102.3 16.0L100.9 18.0L100.6 20.6L99.3 23.0L100.7 23.4L101.5 25.3L102.7 26.3L102.5 29.9L104.1 31.7L107.7 31.5L110.9 31.7L113.2 35.2L116.6 35.0L120.3 34.8L118.9 38.4L119.1 41.6L119.8 44.5L120.9 45.9L118.9 48.1L121.2 50.3L121.9 52.7L122.5 54.5M122.5 54.5L121.6 54.6L121.6 52.7L120.5 50.9L117.7 51.7L117.8 52.6L111.8 52.7L111.8 55.2L114.1 56.8L111.1 57.2L111.1 60.0L112.7 61.4L113.4 63.8L111.4 76.1M111.4 76.1L110.2 74.6L108.8 74.4L111.1 70.1L108.0 68.3L105.2 68.1L103.1 69.1L100.9 68.9L99.9 66.5L98.1 64.5L95.6 61.6L92.7 59.8M92.7 59.8L91.3 59.2L88.8 57.8L86.0 58.0L84.5 56.6L82.8 56.0L80.6 54.6L79.7 53.7M92.7 59.8L92.4 63.2L91.5 65.5L87.8 69.7L83.3 71.3L81.5 72.9L80.3 77.6L79.2 79.2L77.6 77.2L75.1 76.4L74.0 75.2L74.6 72.9M111.4 76.1L108.4 76.0L104.1 77.6L100.9 79.6L99.9 83.4L98.1 86.7L97.0 88.5L98.1 88.5L100.6 94.6L99.9 96.6L102.7 97.0L103.6 99.0L106.6 99.0L109.1 97.0L109.5 103.0L112.8 102.8M112.8 102.8L116.1 108.9L114.8 113.3L115.3 115.6L113.6 118.0L114.3 120.0L112.7 121.6L114.8 123.6L114.6 125.1L112.5 127.9L113.1 128.7M113.1 128.7L112.0 129.3L109.9 132.1M113.1 128.7L114.5 130.7L115.0 134.6L116.8 136.2L115.7 140.2L117.7 143.7L118.4 146.5L118.9 149.9L121.3 149.8M121.3 149.8L121.9 150.5L120.7 154.4L117.3 156.4L116.4 159.6L116.9 163.2L117.3 165.9L115.5 166.7L114.5 169.9L112.3 171.9L111.4 175.0L111.6 179.0L109.5 182.6L110.2 185.7L111.1 189.7L112.0 191.3L111.8 195.2L109.8 198.8L109.8 202.4L107.2 204.7L107.7 208.7L108.0 212.3L105.6 216.2L104.8 219.4L104.5 224.1L105.0 227.7L103.8 230.1L105.2 232.5L105.2 235.2L106.6 236.8L105.6 239.6L105.0 242.0L104.5 245.1L102.9 247.5L102.3 251.5L98.8 253.8L99.9 257.4L99.9 260.2L103.1 260.0L102.9 263.7L104.5 265.3L111.2 265.3L116.8 266.6M116.2 267.9L116.2 276.8M121.3 149.8L122.8 147.3L124.6 145.7L126.4 146.9L130.5 147.3L131.5 149.9L132.8 146.5L136.9 146.5L137.4 147.5M137.4 147.5L143.3 153.6L148.6 156.0L154.0 158.8L155.4 159.6L154.0 163.2L151.8 167.5L157.5 168.1L159.7 168.5L161.4 167.7L164.6 165.5L165.7 163.5L166.1 160.8M166.1 160.8L168.7 160.8L169.5 163.4L169.1 165.9L168.9 166.9L165.4 168.5L161.8 171.5L159.0 174.6L157.2 177.2L155.2 179.0M155.2 179.0L154.3 182.2L153.6 186.1L153.3 190.1L152.4 192.5M155.2 179.0L158.2 179.4L161.1 181.4L162.7 181.8L166.4 184.1L168.9 186.1L170.3 188.5L170.0 191.3L170.5 193.1M166.1 160.8L167.1 154.8L163.2 154.2L162.5 149.1L159.7 146.9L154.1 146.9L154.5 142.2L153.4 139.2M153.4 139.2L150.1 136.0L140.6 137.2L138.8 140.8L137.4 147.5M153.4 139.2L154.5 134.6L155.8 131.5L154.9 128.9L152.5 127.7L152.7 123.9L146.3 123.8L146.0 119.2L145.1 114.0L140.4 112.9L136.9 110.9L134.4 109.1L131.2 108.7L129.0 106.5L127.8 103.0L128.0 99.0L127.6 97.8L123.4 98.6L120.1 101.8L118.4 101.6L116.2 103.4L112.8 102.8M122.5 54.5L124.4 56.4L127.3 56.6L128.7 54.8L131.5 53.7L132.6 51.7L134.7 50.9L134.7 49.9L132.6 49.5L131.9 47.1L131.9 45.1L130.5 43.0L132.6 43.2L135.1 43.8L136.5 45.1L137.2 43.4L140.1 43.0L143.3 41.6L144.3 38.8M144.3 38.8L141.9 35.8L142.8 32.9L145.6 31.7L144.4 29.7L146.8 27.5L146.9 25.5M144.3 38.8L146.5 38.8L147.0 41.6L148.5 44.0L147.6 46.1L146.9 48.7L147.7 52.1L149.7 54.1L152.2 54.3L154.0 53.5L156.5 51.7L159.4 51.7M159.4 51.7L156.6 46.1L155.2 43.6L154.1 40.8L156.6 38.8L157.0 35.8M159.4 51.7L161.1 50.1L164.3 49.3L166.1 50.2M166.1 50.2L167.5 47.5L168.2 45.1L166.6 40.8L166.8 39.2L168.2 36.6M166.1 50.2L168.9 50.3L172.1 50.7L174.1 47.1L175.7 44.4L176.6 42.8M300.6 5.5L303.5 5.5L305.6 5.0L308.5 5.5L311.1 5.9L308.5 6.7L305.6 6.3L303.5 7.1L300.6 7.5M300.8 10.5L305.3 9.3L311.7 9.3L316.3 10.5L319.9 11.3L322.0 10.7M311.7 9.3L311.7 13.1L308.1 13.9L307.1 16.2M313.1 23.6L315.9 20.4L320.4 19.8L322.7 22.6M316.7 -2.4L317.0 1.2L318.4 6.3L319.9 10.3L319.9 11.3M319.5 32.3L322.7 28.5L323.8 25.7M165.1 49.9L167.9 53.5L170.7 56.2L172.1 59.4L173.4 61.8L175.7 64.0M150.2 58.8L152.2 61.8L154.7 64.2L157.5 67.3L159.7 68.1L160.4 68.5L157.9 75.2L155.0 82.0L152.7 88.5M152.7 88.5L153.3 91.1L155.0 94.2L156.5 95.8L158.6 96.6L181.7 98.4M181.7 98.4L183.9 95.0L185.3 91.1L185.3 87.1L187.4 84.0L187.3 80.7L188.5 80.0M188.5 80.0L190.3 78.4L191.7 76.4L193.8 72.5L194.9 68.5L196.5 63.8M188.5 80.0L191.3 81.2L191.5 85.3L191.7 87.9L194.9 91.1L196.9 94.2L196.0 97.4L197.0 100.0M211.6 70.3L210.2 72.9L208.1 77.2L208.1 79.6L207.4 83.2L207.4 86.1L204.9 85.9L202.0 87.9L199.2 90.7L198.5 93.9L197.0 96.2L197.0 100.0M213.4 70.9L213.6 73.3L213.8 77.2L215.2 80.0L214.8 83.2L215.9 85.9L216.3 88.7M216.3 88.7L215.9 91.1L214.5 93.1L213.2 94.0M213.2 94.0L210.9 96.2L207.7 96.6L204.9 99.0L202.7 101.4L199.5 102.6L197.0 100.0M227.8 78.6L225.9 81.2L224.8 83.2L223.2 84.7M223.2 84.7L222.9 87.1L222.7 89.9M222.7 89.9L220.5 89.3L218.0 88.7L216.3 88.7M235.8 85.1L234.1 84.9L230.5 84.3L229.8 86.7L227.7 85.9L226.9 83.6L225.2 84.3L223.2 84.7M236.4 89.3L234.1 88.9L230.5 90.3L228.7 91.9L227.7 89.9L225.2 90.1L222.7 89.9M235.3 94.6L232.3 95.4L230.2 96.2L226.9 95.0L225.2 95.8L224.5 96.4M230.9 101.0L229.4 99.8L227.3 98.2L225.2 97.2L224.5 96.4M227.5 104.7L225.5 104.1L224.5 101.8L225.9 99.8L225.2 97.2M224.5 96.4L222.7 94.2L220.5 93.3L218.0 95.0L216.3 96.6L215.2 96.6L214.5 95.4L213.2 94.0M196.5 118.6L200.2 118.4L203.1 116.0L204.5 116.0L207.4 117.6L209.1 119.2L210.9 118.6L213.4 121.8L214.8 121.6L217.3 122.8L216.3 125.1L217.0 127.9L215.9 128.7L217.2 130.5M219.3 132.1L217.2 130.5M217.2 130.5L214.8 131.9L214.5 134.6L214.1 138.2L211.6 139.8L211.5 141.6L211.8 142.6M211.8 142.6L213.4 143.4L214.6 143.7M211.8 142.6L209.9 145.3L207.4 146.5L204.5 146.9L202.7 147.5L201.3 148.1M201.3 148.1L203.1 148.9L203.1 150.1L201.7 150.9L201.2 151.9M201.3 148.1L198.5 149.1L197.0 149.9L195.3 150.1L194.6 147.7L194.4 144.5L193.1 142.6L192.4 140.6L192.1 138.8L187.8 139.0L184.9 138.4L181.4 138.0L178.9 139.0M178.9 139.0L176.8 142.2L175.3 144.5L173.5 146.5L171.4 148.9M171.4 148.9L175.3 148.7L178.9 149.3L182.4 150.3L183.5 150.9L183.9 152.9L184.9 155.6L187.4 157.2L189.2 159.6M187.4 162.4L184.6 163.0L181.4 162.6L178.5 163.4L177.1 164.7L173.5 163.9L171.1 163.4L169.5 163.4M183.4 175.5L182.1 173.8L182.4 172.1L179.6 171.1L178.9 169.7L175.7 168.3L172.5 167.1L168.9 166.9M171.4 148.9L168.2 152.1L167.3 154.6M154.9 128.9L158.6 127.9L162.5 129.1L165.4 128.9L168.2 129.1L169.3 130.7L171.4 130.9M171.4 130.9L174.3 133.5L177.8 135.8L179.1 136.6L178.9 139.0M179.1 136.6L182.4 134.6L184.2 133.1L185.3 132.3L188.9 132.1L191.7 131.1L192.1 128.7L192.1 125.5L192.8 122.8L193.8 122.4L194.6 119.6L196.5 118.6M196.5 118.6L196.3 114.8L195.6 111.3M195.6 111.3L193.1 111.3L190.6 112.1L187.8 111.3L184.9 111.7L181.4 110.3L180.1 110.5M180.1 110.5L180.0 106.9L180.0 103.0L181.0 100.2L181.7 98.4M195.6 111.3L196.0 106.9L195.3 105.3L196.3 102.2L197.0 100.0M180.1 110.5L178.9 114.8L176.8 118.8L174.3 122.4L172.1 125.1L171.4 127.9L171.4 130.9M145.4 113.7L146.8 108.9L147.2 105.7L145.4 103.4L141.5 103.0L141.3 99.0L141.2 94.2M141.2 94.2L152.5 94.4L152.7 88.5M141.2 94.2L137.9 92.5L136.2 90.9L133.7 91.1L130.8 93.5L127.3 96.6L122.6 98.2M122.6 98.2L97.7 88.3M122.6 98.2L123.4 98.6M134.7 50.9L136.9 54.6L138.8 56.0L138.5 61.6L141.0 65.2L143.3 62.6L145.2 60.2L150.2 58.8L150.8 54.4M188.7 120.8L191.9 120.8L192.1 123.0L188.7 123.0L188.7 120.8" fill="none" stroke="#9a9a9a" stroke-width="0.7" stroke-linejoin="round"/>
<rect x="129.3" y="188.5" width="28.9" height="9.8" fill="#fff"/>
<path d="M-0.4 163.0C2.3 163.6 9.7 165.3 15.7 166.9C21.7 168.6 29.0 170.8 35.7 172.9C42.4 175.0 49.1 177.3 55.8 179.3C62.5 181.3 69.2 183.2 75.9 184.9C82.6 186.6 90.0 188.1 96.0 189.3C102.0 190.5 107.3 191.6 112.0 192.3C116.7 193.1 121.3 193.6 124.1 193.8C127.0 194.0 128.3 193.5 129.1 193.4M157.8 192.7C160.6 192.5 168.6 191.8 174.7 191.3C180.9 190.8 188.0 190.3 194.7 189.9C201.4 189.5 208.1 189.2 214.8 188.9C221.5 188.6 228.2 188.3 234.9 187.9C241.6 187.5 248.3 187.1 255.0 186.7C261.7 186.3 268.3 185.8 275.0 185.3C281.7 184.8 287.3 184.4 295.1 183.9C302.9 183.4 317.2 182.5 321.6 182.2" fill="none" stroke="#78f073" stroke-width="1.8" stroke-linecap="round" stroke-linejoin="round"/>
<text x="143.8" y="197.0" text-anchor="middle" font-family='"Liberation Sans", Arial, sans-serif' font-weight="bold" font-size="10.0" stroke="#78f073" stroke-width="0.3" textLength="26.5" lengthAdjust="spacingAndGlyphs" fill="#78f073">12200</text>
<rect x="-5.3" y="187.4" width="29.4" height="9.8" fill="#fff"/>
<path d="M23.7 192.7C26.4 193.3 34.5 195.1 39.8 196.4C45.2 197.8 50.5 199.3 55.8 200.8C61.2 202.3 66.5 204.0 71.9 205.4C77.2 206.8 82.5 208.2 87.9 209.4C93.2 210.6 98.6 211.9 104.0 212.8C109.4 213.7 114.6 214.4 120.0 215.0C125.4 215.6 130.3 216.1 136.1 216.4C141.9 216.8 148.2 216.8 154.6 217.1C161.0 217.4 168.0 218.0 174.7 218.4C181.4 218.9 188.0 219.4 194.7 219.8C201.4 220.2 208.1 220.6 214.8 220.8C221.5 221.0 228.9 221.2 234.9 221.1C240.9 221.0 245.5 220.7 250.9 220.0C256.2 219.3 261.6 218.1 267.0 217.0C272.4 215.9 277.8 214.4 283.1 213.4C288.5 212.4 292.7 211.7 299.1 210.8C305.5 210.0 317.9 208.7 321.6 208.3" fill="none" stroke="#37cd3c" stroke-width="1.8" stroke-linecap="round" stroke-linejoin="round"/>
<text x="9.4" y="195.9" text-anchor="middle" font-family='"Liberation Sans", Arial, sans-serif' font-weight="bold" font-size="10.0" stroke="#37cd3c" stroke-width="0.3" textLength="27.0" lengthAdjust="spacingAndGlyphs" fill="#37cd3c">12000</text>
<rect x="18.9" y="213.5" width="29.3" height="9.8" fill="#fff"/>
<path d="M-0.4 235.5C0.6 235.0 3.6 233.8 5.6 232.5C7.6 231.2 9.5 229.3 11.7 227.5C13.9 225.7 17.5 222.8 18.7 221.9M47.8 219.0C50.5 219.6 58.5 221.6 63.8 222.9C69.2 224.3 74.5 225.8 79.9 227.1C85.3 228.4 90.6 229.5 96.0 230.5C101.4 231.5 106.6 232.4 112.0 233.1C117.4 233.8 122.8 234.3 128.1 234.7C133.5 235.1 137.9 235.2 144.1 235.5C150.4 235.8 160.5 236.2 165.6 236.5C170.7 236.8 169.9 236.8 174.7 237.1C179.6 237.4 188.0 238.1 194.7 238.5C201.4 238.9 208.1 239.2 214.8 239.5C221.5 239.8 228.2 240.2 234.9 240.5C241.6 240.8 249.0 241.3 255.0 241.5C261.0 241.7 265.6 242.0 271.0 241.9C276.4 241.8 281.8 241.5 287.1 240.9C292.5 240.3 297.4 239.5 303.1 238.5C308.9 237.4 318.5 235.2 321.6 234.6" fill="none" stroke="#1fa81f" stroke-width="1.8" stroke-linecap="round" stroke-linejoin="round"/>
<text x="33.6" y="222.0" text-anchor="middle" font-family='"Liberation Sans", Arial, sans-serif' font-weight="bold" font-size="10.0" stroke="#1fa81f" stroke-width="0.3" textLength="26.9" lengthAdjust="spacingAndGlyphs" fill="#1fa81f">11800</text>
<rect x="169.1" y="250.3" width="29.1" height="9.8" fill="#fff"/>
<path d="M-0.4 265.4C1.6 264.9 7.7 263.7 11.7 262.6C15.7 261.5 19.7 259.8 23.7 258.6C27.7 257.4 31.7 256.0 35.7 255.2C39.7 254.4 43.1 253.9 47.8 253.6C52.5 253.3 58.5 253.5 63.8 253.6C69.2 253.7 74.5 254.1 79.9 254.4C85.3 254.7 90.6 255.0 96.0 255.2C101.4 255.4 106.6 255.5 112.0 255.6C117.4 255.7 122.8 255.6 128.1 255.6C133.5 255.6 139.2 255.5 144.1 255.4C149.0 255.3 153.5 255.3 157.6 255.2C161.7 255.1 166.8 255.0 168.6 255.0M197.8 254.8C200.6 254.8 208.6 254.8 214.8 255.0C221.0 255.2 228.2 255.5 234.9 256.0C241.6 256.5 248.3 257.2 255.0 258.0C261.7 258.8 268.3 259.8 275.0 260.6C281.7 261.4 287.3 262.2 295.1 263.0C302.9 263.7 317.2 264.7 321.6 265.1" fill="none" stroke="#78b6fa" stroke-width="1.8" stroke-linecap="round" stroke-linejoin="round"/>
<text x="183.6" y="258.8" text-anchor="middle" font-family='"Liberation Sans", Arial, sans-serif' font-weight="bold" font-size="10.0" stroke="#78b6fa" stroke-width="0.3" textLength="26.7" lengthAdjust="spacingAndGlyphs" fill="#78b6fa">11600</text>
<rect x="46.2" y="286.8" width="28.7" height="9.8" fill="#fff"/>
<rect x="206.0" y="265.3" width="28.9" height="9.8" fill="#fff"/>
<path d="M-0.4 288.1C2.3 288.2 10.4 288.4 15.7 288.7C21.1 289.0 26.7 289.4 31.7 289.7C36.7 290.0 43.5 290.5 45.8 290.7M74.3 290.7C76.6 290.4 82.9 289.7 87.9 288.7C92.8 287.7 98.6 286.0 104.0 284.7C109.4 283.4 114.6 281.9 120.0 280.7C125.4 279.5 130.7 278.3 136.1 277.3C141.5 276.3 147.3 275.3 152.2 274.6C157.1 273.9 161.9 273.4 165.6 273.0C169.4 272.6 169.9 272.4 174.7 272.0C179.6 271.6 189.5 270.9 194.7 270.6C199.9 270.3 204.0 270.3 205.8 270.2M234.5 270.0C237.2 270.2 245.5 270.5 250.9 271.0C256.3 271.5 261.6 272.2 267.0 273.0C272.4 273.8 277.8 274.6 283.1 275.6C288.5 276.5 292.7 277.5 299.1 278.7C305.5 279.9 317.9 282.2 321.6 282.9" fill="none" stroke="#308af1" stroke-width="1.8" stroke-linecap="round" stroke-linejoin="round"/>
<text x="60.6" y="295.3" text-anchor="middle" font-family='"Liberation Sans", Arial, sans-serif' font-weight="bold" font-size="10.0" stroke="#308af1" stroke-width="0.3" textLength="26.3" lengthAdjust="spacingAndGlyphs" fill="#308af1">11400</text>
<text x="220.5" y="273.8" text-anchor="middle" font-family='"Liberation Sans", Arial, sans-serif' font-weight="bold" font-size="10.0" stroke="#308af1" stroke-width="0.3" textLength="26.5" lengthAdjust="spacingAndGlyphs" fill="#308af1">11400</text>
<path d="M148.6 297.4C149.6 297.1 150.3 296.8 154.6 295.7C159.0 294.6 168.0 292.3 174.7 290.7C181.4 289.1 188.0 287.4 194.7 286.3C201.4 285.2 209.4 284.5 214.8 284.1C220.2 283.7 222.2 283.6 226.9 283.7C231.6 283.8 237.5 284.1 242.9 284.7C248.2 285.3 253.7 286.3 259.0 287.1C264.4 287.9 269.0 288.7 275.0 289.7C281.0 290.7 288.7 292.1 295.1 293.3C301.5 294.5 310.5 296.4 313.6 297.0" fill="none" stroke="#1c62e0" stroke-width="1.8" stroke-linecap="round" stroke-linejoin="round"/>
</g>
<rect x="0" y="0" width="320.4" height="297.0" fill="none" stroke="#000" stroke-width="1.45"/>
<path d="M0 0.0h-3.6M0 19.8h-3.6M0 39.6h-3.6M0 59.4h-3.6M0 79.2h-3.6M0 99.0h-3.6M0 118.8h-3.6M0 138.6h-3.6M0 158.4h-3.6M0 178.2h-3.6M0 198.0h-3.6M0 217.8h-3.6M0 237.6h-3.6M0 257.4h-3.6M0 277.2h-3.6M0 297.0h-3.6M4.4 297.0v3.4M40.0 297.0v3.4M75.6 297.0v3.4M111.2 297.0v3.4M146.8 297.0v3.4M182.4 297.0v3.4M218.0 297.0v3.4M253.6 297.0v3.4M289.2 297.0v3.4" stroke="#000" stroke-width="1.2" fill="none"/>
<g font-family='"Liberation Sans", Arial, Helvetica, sans-serif' font-weight="bold" font-size="10.1" fill="#000">
<text x="-21.99" y="4.2" textLength="16.79" lengthAdjust="spacingAndGlyphs">15N</text>
<text x="-21.99" y="24.0" textLength="16.79" lengthAdjust="spacingAndGlyphs">10N</text>
<text x="-16.90" y="43.8" textLength="11.70" lengthAdjust="spacingAndGlyphs">5N</text>
<text x="-18.42" y="63.6" textLength="13.22" lengthAdjust="spacingAndGlyphs">EQ</text>
<text x="-16.39" y="83.4" textLength="11.19" lengthAdjust="spacingAndGlyphs">5S</text>
<text x="-21.48" y="103.2" textLength="16.28" lengthAdjust="spacingAndGlyphs">10S</text>
<text x="-21.48" y="123.0" textLength="16.28" lengthAdjust="spacingAndGlyphs">15S</text>
<text x="-21.48" y="142.8" textLength="16.28" lengthAdjust="spacingAndGlyphs">20S</text>
<text x="-21.48" y="162.6" textLength="16.28" lengthAdjust="spacingAndGlyphs">25S</text>
<text x="-21.48" y="182.4" textLength="16.28" lengthAdjust="spacingAndGlyphs">30S</text>
<text x="-21.48" y="202.2" textLength="16.28" lengthAdjust="spacingAndGlyphs">35S</text>
<text x="-21.48" y="222.0" textLength="16.28" lengthAdjust="spacingAndGlyphs">40S</text>
<text x="-21.48" y="241.8" textLength="16.28" lengthAdjust="spacingAndGlyphs">45S</text>
<text x="-21.48" y="261.6" textLength="16.28" lengthAdjust="spacingAndGlyphs">50S</text>
<text x="-21.48" y="281.4" textLength="16.28" lengthAdjust="spacingAndGlyphs">55S</text>
<text x="-21.48" y="301.2" textLength="16.28" lengthAdjust="spacingAndGlyphs">60S</text>
<text x="-6.46" y="308.9" textLength="21.81" lengthAdjust="spacingAndGlyphs">100W</text>
<text x="31.47" y="308.9" textLength="17.17" lengthAdjust="spacingAndGlyphs">90W</text>
<text x="67.07" y="308.9" textLength="17.17" lengthAdjust="spacingAndGlyphs">80W</text>
<text x="102.67" y="308.9" textLength="17.17" lengthAdjust="spacingAndGlyphs">70W</text>
<text x="138.27" y="308.9" textLength="17.17" lengthAdjust="spacingAndGlyphs">60W</text>
<text x="173.87" y="308.9" textLength="17.17" lengthAdjust="spacingAndGlyphs">50W</text>
<text x="209.47" y="308.9" textLength="17.17" lengthAdjust="spacingAndGlyphs">40W</text>
<text x="245.07" y="308.9" textLength="17.17" lengthAdjust="spacingAndGlyphs">30W</text>
<text x="280.67" y="308.9" textLength="17.17" lengthAdjust="spacingAndGlyphs">20W</text>
</g>
<g font-family='"Liberation Sans", Arial, Helvetica, sans-serif' font-size="18.8" fill="#000">
<text x="43.3" y="-9.9" textLength="70.1" lengthAdjust="spacingAndGlyphs">cluster:</text>
<text transform="translate(130.2,-9.9) scale(1.12,1)" text-anchor="middle">4</text>
<text x="159.7" y="-9.9" textLength="94.0" lengthAdjust="spacingAndGlyphs">membros:</text>
<text transform="translate(270.0,-9.9) scale(1.12,1)" text-anchor="middle">2</text>
</g>
</g>
<g transform="translate(63.4,848.2)">
<clipPath id="cp4"><rect x="0" y="0" width="320.4" height="297.0"/></clipPath>
<g clip-path="url(#cp4)">
<path d="M64.3 -2.4L64.3 0.0L63.7 2.8L64.3 4.0L63.2 6.3L63.0 8.7L62.5 10.7L62.7 12.3L61.9 14.3L62.7 16.1L63.5 18.2L64.9 19.8L65.9 21.2L66.5 21.5L67.5 22.4L67.8 23.8L69.2 24.0L70.7 24.6L72.4 24.4L74.2 23.4L76.0 22.4L77.4 21.4L79.2 21.6L81.0 22.2L82.8 22.8L84.2 24.2L85.1 25.1L86.0 26.5L86.7 27.3L86.9 27.9L87.2 26.9L87.2 25.3L88.5 24.4L89.5 22.6L91.0 22.0L91.3 20.2L91.7 18.2L92.6 17.0L94.0 15.6L95.9 15.8L96.3 14.7L98.4 14.9L100.6 13.9L102.3 12.7L103.4 11.3L105.2 10.1L107.0 10.7L107.3 11.7L106.6 12.5L105.6 13.7L104.3 14.3L105.2 15.8L105.6 16.8L105.9 16.0L107.7 15.4L109.5 14.9L110.5 13.9L110.4 11.9L111.2 11.1L112.0 13.1L112.1 14.1L113.7 13.9L115.5 14.3L116.9 15.2L117.5 16.6L118.0 17.8L120.5 17.8L122.3 17.4L124.4 17.4L125.3 17.6L126.2 19.0L128.3 19.4L130.1 19.4L131.5 18.4L133.0 17.8L131.7 17.2L134.4 17.2L137.2 16.9L140.1 17.0L138.3 17.8L136.5 18.0L137.2 19.0L137.9 19.8L139.0 20.4L141.2 20.6L143.3 22.2L144.0 23.8L142.9 25.3L145.4 25.5L146.9 25.5L148.3 26.5L150.1 27.7L151.8 30.1L152.4 32.1L153.6 32.5L155.4 34.3L156.6 35.2L157.0 35.8L157.9 35.8L161.1 36.2L163.9 35.8L166.1 36.0L168.2 36.6L169.6 37.2L171.8 37.8L173.9 39.8L175.3 41.2L176.2 41.6L176.6 42.8L177.3 42.0L178.2 43.2L178.9 45.9L180.0 50.3L181.2 52.3L182.6 52.9L182.8 54.8L181.4 56.2L180.0 58.2L178.5 59.4L177.5 61.4L175.7 64.0L174.6 65.1L176.8 65.5L178.9 64.5L180.0 66.5L181.4 66.7L184.2 66.3L186.4 65.7L188.0 65.1L188.5 63.2L189.9 62.0L192.1 61.8L194.6 62.8L196.5 63.8L198.5 64.7L200.6 65.5L201.7 67.7L202.0 69.7L201.3 71.3L202.6 70.7L203.5 69.1L205.6 68.9L208.1 69.5L210.2 70.5L211.6 70.3L213.4 70.9L216.3 70.5L218.4 70.9L221.6 72.7L223.4 74.1L225.9 76.8L227.8 78.6L229.8 79.4L232.3 79.4L234.2 79.8L235.1 82.4L235.8 85.1L236.6 87.7L236.4 91.3L235.3 94.6L233.4 97.7L230.9 101.0L228.6 102.8L227.5 104.7L225.5 108.5L223.4 110.9L221.8 112.5L221.4 114.8L221.6 118.0L222.0 121.6L221.4 124.5L220.9 127.5L220.9 129.7L219.3 132.1L218.9 135.0L218.6 137.2L217.0 139.8L215.4 142.2L214.6 143.7L214.5 146.5L212.0 147.9L210.9 150.3L206.7 150.3L204.2 150.7L201.2 151.9L198.8 153.6L195.6 154.4L193.1 156.2L189.9 158.6L187.8 160.4L187.4 162.4L187.3 165.5L187.8 168.3L187.3 171.1L186.5 172.7L184.9 174.0L183.4 175.5L182.1 178.2L180.0 181.8L178.2 184.1L175.3 186.5L173.2 190.1L170.5 193.1L169.6 194.4L167.5 196.6L164.8 197.9L162.2 197.2L160.4 197.6L157.9 196.4L154.5 195.9L152.9 194.0L152.4 192.5L152.0 194.0L152.4 195.8L154.0 197.2L156.5 198.8L156.5 201.2L158.4 203.3L157.5 206.3L155.6 209.9L151.5 212.3L146.8 213.2L142.6 213.8L139.4 213.2L138.5 214.6L139.4 216.2L138.7 219.8L137.1 222.0L133.3 222.4L129.8 220.8L128.5 221.8L129.0 224.9L130.8 226.7L133.0 226.1L134.0 228.5L131.5 228.7L130.8 227.5L129.0 228.7L129.0 230.9L128.0 233.2L128.0 235.6L126.9 237.6L123.7 238.4L120.9 240.0L119.8 242.0L121.9 244.3L125.5 245.5L126.2 247.1L125.8 249.1L122.3 251.5L120.1 253.4L119.3 255.4L116.9 257.8L114.8 259.4L114.8 261.4L114.1 263.7L115.2 265.3L116.9 266.7L113.7 267.3L110.2 268.1L108.4 270.1L109.8 272.1L112.7 271.3L114.1 268.5L116.2 267.9L117.7 270.1L119.4 272.4L122.6 274.4L126.9 275.6L128.5 275.8L126.9 277.0L122.6 277.2L117.3 276.6L113.0 276.8L115.5 278.2L120.9 280.8L116.2 279.6L111.2 278.4L107.0 276.0L103.4 274.0L99.5 271.3L96.3 268.5L94.2 265.3L92.7 261.4L91.7 257.4L91.5 253.4L91.3 249.5L92.4 247.9L95.6 248.7L95.9 246.7L93.8 244.7L91.1 244.3L93.1 241.6L94.5 239.6L95.6 236.0L97.4 234.0L99.5 233.2L100.9 231.7L101.3 228.1L102.0 225.7L100.7 223.6L98.8 224.7L97.7 222.9L97.7 220.2L99.0 217.2L99.7 215.0L98.8 211.5L98.4 208.3L99.9 206.5L100.2 204.9L101.3 202.0L102.3 199.2L104.0 195.6L105.4 192.1L105.4 190.3L106.1 187.7L105.7 184.1L105.2 180.6L106.6 177.8L105.9 173.8L107.2 170.3L108.0 166.7L108.9 162.4L109.5 158.4L109.6 154.4L109.1 152.1L110.0 150.7L110.5 146.5L110.7 142.6L110.7 139.4L110.4 135.8L110.1 132.6L109.9 132.1L108.0 130.3L106.4 129.3L105.6 127.7L103.8 126.7L101.3 125.1L98.1 123.6L95.2 122.0L92.7 120.2L90.1 117.4L88.8 114.4L89.2 113.3L88.1 110.9L86.9 108.5L85.8 107.1L85.3 104.9L84.0 103.0L82.8 99.8L81.3 97.0L80.6 95.2L79.6 92.7L77.8 90.3L76.7 87.9L75.8 86.3L73.5 84.3L71.7 83.4L71.6 82.2L72.4 81.4L71.6 79.6L70.9 77.9L71.2 76.4L72.4 74.8L73.9 73.3L74.6 72.9L75.3 71.9L76.2 70.9L76.5 69.1L75.8 68.1L74.9 69.9L73.9 69.5L72.1 68.1L73.0 66.9L72.6 64.9L72.4 63.6L73.7 62.8L74.2 61.0L75.3 59.6L75.5 57.4L76.7 55.6L78.5 55.0L79.7 53.7L79.9 52.3L80.8 49.9L82.8 49.3L84.2 47.5L85.6 44.9L84.7 43.2L85.1 40.0L84.4 37.6L85.1 34.8L84.4 32.7L83.1 30.9L82.1 29.3L81.2 27.5L82.4 26.3L81.0 25.3L79.2 24.0L77.4 24.0L76.4 25.3L74.6 26.5L74.0 27.7L75.6 29.7L74.2 30.7L72.4 30.9L71.9 28.7L70.3 28.9L69.2 27.3L67.5 26.7L65.7 26.5L65.3 27.6L64.4 26.3L63.9 25.3L63.5 26.1L62.3 25.7L62.7 24.0L60.9 22.2L59.1 21.4L58.4 19.9L57.5 19.2L58.0 20.8L57.3 21.4L55.5 20.2L54.8 18.4L55.0 16.2L55.4 15.6L53.9 13.9L52.2 12.3L50.4 10.3L48.6 8.3L49.5 7.9L49.0 6.7L47.5 7.1L45.4 7.1L42.5 6.1L40.4 5.5L37.9 4.4L35.1 4.0L32.2 2.0L30.1 0.0L27.6 -2.4M105.6 16.8L104.3 18.6L104.1 21.4L105.6 23.4L107.2 23.0L107.5 20.6L106.6 18.2L105.9 17.0L105.6 16.8M54.6 11.5L56.8 12.3L58.2 15.0L56.4 15.0L54.8 13.5L54.6 11.5M52.2 10.3L53.6 11.1L53.4 9.9L52.2 10.3M111.1 120.4L112.7 120.4L114.1 122.4L115.9 123.6L115.2 124.9L113.4 123.6L111.6 122.4L111.1 120.4M178.2 178.4L180.3 179.4L178.9 182.2L176.8 184.5L175.0 186.1L174.6 184.5L176.8 182.2L177.5 179.8L178.2 178.4M172.8 186.9L171.4 189.3L170.0 191.3L171.1 190.9L172.8 188.5L172.8 186.9M122.2 133.8L122.0 132.6L121.5 132.6L121.3 133.8L121.5 135.0L122.0 135.0L122.2 133.8M179.8 60.2L182.4 59.8L184.9 60.0L187.8 60.6L188.1 63.0L186.4 65.3L183.5 66.1L180.7 66.3L179.6 64.5L179.8 60.2M181.0 57.0L183.5 58.0L183.9 59.0L181.0 58.8L181.0 57.0M175.7 64.0L177.8 63.0L179.2 61.4L180.3 59.8L181.4 58.6M178.9 64.5L179.2 63.0L180.3 61.8L181.7 61.4L182.8 60.2M179.6 63.4L181.0 64.2L182.4 63.4L183.9 64.2L185.3 63.4L186.4 64.5M180.7 61.8L182.4 62.2L183.9 61.4L185.3 61.8M182.8 59.4L184.2 58.6L185.3 59.2L183.9 59.8L182.8 59.4M179.2 57.8L180.3 57.2L181.4 58.2L180.3 58.6L179.2 57.8M177.8 60.6L178.9 61.0L179.2 62.6L178.2 62.2L177.8 60.6M187.4 66.1L186.4 67.7L185.3 69.3M184.6 66.3L184.2 68.1L183.9 69.7M140.1 17.0L143.3 16.4L143.5 19.4L140.1 19.6L141.5 18.6L141.7 17.4L140.1 17.0M145.0 14.5L144.6 14.4L143.9 14.8L143.7 15.2L144.2 15.3L144.8 14.9L145.0 14.5M134.0 15.8L133.6 15.5L132.6 15.4L131.6 15.5L131.2 15.8L131.6 16.2L132.6 16.3L133.6 16.2L134.0 15.8M141.1 11.5L140.9 11.0L140.7 11.0L140.5 11.5L140.7 11.9L140.9 11.9L141.1 11.5M142.9 6.9L142.7 6.5L142.4 6.5L142.3 6.9L142.4 7.4L142.7 7.4L142.9 6.9M148.8 7.3L148.6 6.8L148.3 6.8L148.1 7.3L148.3 7.8L148.6 7.8L148.8 7.3M143.6 4.4L143.5 3.7L143.1 3.7L142.9 4.4L143.1 5.0L143.5 5.0L143.6 4.4M143.8 1.4L143.6 0.5L143.0 0.5L142.8 1.4L143.0 2.2L143.6 2.2L143.8 1.4M111.6 10.2L111.6 9.8L111.2 9.5L110.9 9.6L110.9 10.0L111.3 10.3L111.6 10.2M115.5 11.6L115.3 11.1L114.6 10.6L114.1 10.5L114.3 11.0L115.0 11.6L115.5 11.6M117.7 11.1L117.5 10.6L117.1 10.6L116.9 11.1L117.1 11.6L117.5 11.6L117.7 11.1M69.8 9.7L69.7 9.3L69.5 9.5L69.5 9.9L69.7 10.1L69.8 9.7M37.2 61.4L36.6 60.0L35.6 59.8L34.8 60.5L34.9 62.2L35.8 63.2L36.6 63.4L37.6 63.2L37.2 61.4M35.2 61.0L35.0 60.3L34.4 60.3L34.2 61.0L34.4 61.7L35.0 61.7L35.2 61.0M39.6 61.8L39.3 61.3L38.6 61.0L38.1 61.5L38.1 62.1L38.6 62.5L39.5 62.5L39.6 61.8M37.8 60.6L37.5 60.1L37.0 60.3L37.0 60.9L37.5 61.0L37.8 60.6M42.6 62.3L42.0 62.2L41.3 62.6L41.0 63.2L41.6 63.4L42.4 62.9L42.6 62.3M38.8 64.5L38.6 64.2L38.2 64.4L38.2 64.7L38.6 64.8L38.8 64.5M41.4 64.9L41.2 64.6L40.9 64.7L40.9 65.0L41.2 65.1L41.4 64.9M73.1 193.1L72.8 192.8L72.5 193.1L72.8 193.3L73.1 193.1M80.1 192.7L79.7 192.4L79.4 192.7L79.7 192.9L80.1 192.7M142.6 262.5L146.1 263.7L149.0 263.9L150.4 264.3L149.3 265.3L147.2 266.3L144.7 267.3L143.3 265.9L145.8 265.3L142.6 262.5M150.4 264.1L152.5 263.7L154.7 264.9L152.5 266.5L149.7 267.3L148.3 266.5L150.8 265.7L150.4 264.1M146.1 264.5L148.3 264.9M150.8 264.9L152.9 265.3M224.8 273.2L228.7 273.6L231.6 274.8L233.0 276.4L230.5 275.6L226.9 274.4L224.8 273.2M260.8 282.3L260.4 282.0L260.1 282.3L260.4 282.7L260.8 282.3M262.5 283.9L262.2 283.6L261.8 283.9L262.2 284.2L262.5 283.9M264.0 285.5L263.6 285.2L263.3 285.5L263.6 285.8L264.0 285.5M265.8 288.3L265.4 288.0L265.0 288.3L265.4 288.6L265.8 288.3M266.5 290.7L266.1 290.3L265.8 290.7L266.1 291.0L266.5 290.7M266.8 293.0L266.5 292.7L266.1 293.0L266.5 293.4L266.8 293.0M263.6 294.6L263.3 294.3L262.9 294.6L263.3 294.9L263.6 294.6M130.1 276.4L131.9 276.0L133.3 276.2L131.5 276.8L130.1 276.4M98.8 224.9L96.8 225.1L96.3 228.1L95.6 230.9L98.1 231.3L98.8 228.9L98.4 226.9L98.8 224.9M96.8 233.5L95.7 233.4L95.4 234.7L95.4 235.9M97.2 233.7L97.3 234.9L97.4 233.7L97.8 233.5M96.0 232.7L97.1 233.9L98.0 234.5L97.2 235.6M96.8 232.2L95.8 232.0L95.0 233.1L95.5 233.0L95.8 233.0M97.5 232.3L97.7 232.4L97.2 231.6L97.7 232.3L97.9 232.3L98.8 231.6L98.3 230.3M96.1 232.0L95.3 232.1L94.1 231.6L94.8 231.4L95.7 231.9L96.2 231.6M97.6 231.9L98.7 232.0L99.1 233.2L99.6 232.8M98.9 231.2L99.5 230.1L99.1 228.9L98.7 228.6L98.7 229.4L98.2 228.7M97.0 231.0L96.0 231.2L96.1 230.1L96.9 229.1L96.4 229.3L96.0 228.3L97.1 229.2M96.3 232.4L95.1 231.5L94.3 232.1L93.4 232.0L93.7 232.5M95.1 234.1L94.9 233.1L96.1 232.6L96.2 232.9M96.2 234.9L95.1 236.1L94.4 237.0L94.0 238.2L92.7 239.2L91.7 239.6L90.6 238.5M97.1 235.5L98.3 235.2L98.2 236.3L98.2 235.0L98.1 235.5L97.2 234.8M97.7 234.9L97.7 235.7L98.8 236.1L99.3 234.9L100.0 235.5M97.3 235.6L97.3 234.5L97.0 235.3L97.1 235.3L97.4 235.0L98.1 234.2M95.4 234.4L95.9 235.1L96.0 235.5L94.8 236.8L94.3 237.5L94.7 236.2L94.6 235.0M98.7 232.9L97.7 234.0L97.6 234.5L97.6 233.1L97.9 234.5L98.9 235.0M97.3 233.2L98.3 232.4L98.9 232.5L98.1 231.7M95.9 233.2L95.8 232.6L94.8 233.5L96.0 234.8L96.3 234.9L96.7 234.6L96.9 234.7M98.5 234.5L97.3 233.7L97.9 234.8L98.5 235.8L99.7 236.6M98.2 237.7L97.6 238.5L97.9 239.1L97.7 240.2L98.7 240.6M96.1 236.6L96.9 235.6L96.0 236.6L96.0 235.5L96.7 235.2L97.4 236.2L96.5 235.9M94.4 237.7L95.1 238.8L95.3 239.5L94.7 238.7L94.7 238.5L95.4 237.4L95.2 237.1M96.3 236.8L96.2 236.7L96.2 235.5L96.6 234.4L97.8 235.1L97.9 233.9M98.0 237.5L97.7 238.0L98.2 238.2L97.4 238.8M94.4 235.3L93.5 234.2L94.7 235.0L95.8 235.3L95.8 233.9L96.6 234.8M96.0 235.8L95.8 236.2L94.7 236.6L94.3 236.7L94.8 237.0L94.9 237.6M98.6 236.6L99.8 237.7L99.2 239.0L99.9 239.6L99.0 239.8M98.3 235.2L98.1 235.1L98.2 235.1L97.7 235.7L98.5 236.6L99.5 237.2M93.9 236.6L92.9 235.6L91.8 234.6L91.7 235.1L91.8 233.9L91.2 234.9M96.1 239.3L97.3 240.0L96.5 238.8L96.8 238.7M94.4 238.9L93.8 238.1L95.0 239.3L93.8 239.3L95.0 239.3M94.6 238.9L95.0 238.8L95.9 237.5L95.5 238.3L94.8 239.1L95.7 238.5L94.8 237.1M98.5 238.1L97.4 237.5L96.8 238.4L95.8 237.4M97.9 238.5L98.2 237.9L97.0 238.8L96.5 240.2L96.1 240.6L97.3 241.1M93.5 237.0L93.1 238.4L92.8 238.5L92.8 239.3L92.8 240.7M94.7 238.6L94.9 238.9L94.4 238.5L93.4 237.3L94.2 238.2L95.2 237.4L95.5 236.7M97.1 237.8L97.7 237.4L96.5 236.5L97.5 236.1L98.1 235.3L97.2 235.2M96.0 237.1L96.8 236.9L97.8 236.4L98.2 237.1M93.4 238.5L94.6 238.9L94.5 240.1L93.3 240.0L92.6 240.7L92.5 241.9M97.7 240.0L98.1 241.2L98.7 241.9L97.7 242.5M96.7 241.4L96.7 241.7L96.7 241.2L97.3 240.8L97.7 242.0L96.8 242.7L97.4 243.2M95.9 241.7L95.9 240.4L94.9 241.2L94.9 240.6M94.5 240.8L95.7 240.7L95.3 241.8L95.2 242.4M93.5 240.8L94.7 241.1L95.7 239.9L94.7 241.0L95.3 241.7L95.0 241.4L95.3 242.0M93.7 240.0L94.6 240.1L93.5 241.5L93.4 241.6L92.9 242.6L92.6 243.1L93.4 244.5M96.8 239.1L97.9 239.9L96.7 239.3L96.1 240.5M95.0 239.0L94.7 239.2L94.1 240.5L93.1 239.6M94.5 238.9L95.7 239.1L95.2 238.3L95.9 238.5L94.8 237.8M95.1 239.0L95.6 240.3L96.2 240.4L96.8 240.0L96.3 241.3M96.7 243.5L96.5 244.1L95.9 243.4L96.3 243.7L95.6 243.7L96.0 244.8L96.4 246.0M94.9 242.1L94.8 242.6L95.4 242.8L95.5 243.5L94.7 243.3M94.1 243.0L95.1 242.3L94.8 242.6L94.9 242.9L94.5 244.1M93.9 241.8L94.4 241.7L95.1 240.8L94.1 239.7L93.8 239.3M94.6 243.1L93.7 243.3L94.3 242.5L95.5 242.5M93.1 240.9L94.2 241.6L93.3 242.6L93.3 242.1L94.4 241.4L94.8 240.7L94.7 240.6M92.9 241.2L93.1 242.5L93.6 241.2L93.9 241.1L93.8 240.4M93.2 242.2L92.9 242.9L93.1 244.3L92.6 244.4L93.8 244.0M96.5 241.8L96.6 243.1L96.4 242.7L95.3 243.5L96.3 243.1M93.1 242.3L94.1 243.1L93.0 243.5L92.8 243.0L92.0 242.2L92.6 242.2L91.9 240.9M94.1 248.5L94.0 249.1L95.0 250.2L95.3 249.9L96.2 249.9M96.6 250.0L97.7 251.2L96.5 250.9L96.3 250.3L95.5 250.5M95.8 249.5L97.0 248.3L96.6 249.1L97.7 248.4M92.9 248.8L93.7 247.4L93.6 248.5L92.5 249.7L92.3 248.6L92.5 247.9L92.2 247.1M94.1 248.5L92.9 248.6L92.6 247.4L91.9 247.8M96.6 249.0L95.9 248.7L95.7 249.0L95.6 248.2L94.5 249.0L93.4 248.7L93.1 249.2M96.8 249.0L97.9 249.6L98.4 249.3L99.2 248.1L98.1 247.2L97.1 246.6M94.7 247.5L95.8 246.7L94.8 246.7L93.6 245.5L93.1 245.0L92.3 245.7M96.4 248.2L96.4 248.5L95.6 248.7L96.0 248.8M95.1 248.8L96.0 247.4L95.4 248.6L94.4 248.6L95.0 248.7L94.3 248.9L94.6 248.5M95.5 250.4L96.2 250.9L95.6 251.6L95.0 252.3M93.8 251.7L93.0 250.6L93.2 251.1L92.9 249.7L92.9 250.5M95.8 250.8L94.8 250.8L95.6 249.9L96.6 251.2M93.1 251.8L93.3 250.9L92.5 252.1L92.6 253.0L92.8 252.2M95.0 252.0L94.3 252.4L93.4 253.2L92.8 253.0L93.2 253.8L92.0 254.3M95.1 250.7L94.1 252.0L94.1 252.0L93.8 251.2L94.2 252.2L94.3 251.8M93.6 250.5L94.0 250.8L92.9 250.1L93.9 250.3L92.7 249.6L93.4 249.2M93.6 250.3L93.4 251.2L92.5 252.3L92.6 252.7M95.6 250.8L95.7 250.4L96.8 251.6L97.1 251.9M94.2 250.8L93.3 251.7L92.3 252.0L92.9 251.2L93.7 251.7L94.5 253.0M96.7 253.4L95.6 252.8L96.1 251.7L96.4 250.8L96.7 250.4L96.0 250.5L96.2 251.8M96.8 253.7L95.9 254.4L96.4 253.3L95.3 253.2L95.9 254.4L96.8 255.5M94.8 252.9L95.1 253.5L94.5 253.8L94.2 253.8L93.4 255.1L94.6 255.2M93.8 252.8L94.7 251.9L94.4 253.1L94.1 253.5L94.8 253.5L95.2 254.8L94.3 253.6M93.0 252.6L91.9 252.6L91.6 251.3L90.7 250.4M97.2 251.6L96.4 250.3L96.4 249.0L97.4 249.9M95.9 251.2L96.7 250.9L96.1 251.4L96.4 250.3M93.9 252.5L93.2 253.2L93.2 253.7L92.0 254.6L91.2 253.4L91.6 252.3L90.8 251.5M91.8 252.0L93.0 252.1L93.0 251.6L94.0 252.3L94.1 251.3L94.7 251.7M93.4 252.3L93.1 251.6L92.9 252.5L93.5 253.7L94.3 254.4M95.1 254.1L95.6 253.4L94.9 254.0L95.3 254.2L94.9 255.4L94.9 255.1M91.3 255.9L90.8 255.8L90.8 256.1L90.4 257.1L90.0 256.2L89.2 257.5M96.1 254.6L95.1 254.2L96.0 253.4L95.8 254.1L94.6 253.7L94.7 254.1L95.1 254.3M97.0 254.6L96.1 255.9L95.0 257.3L94.3 258.2L95.3 259.3M94.9 254.7L94.0 255.5L94.3 255.5L94.6 254.7L93.8 255.2M92.9 254.9L93.4 256.3L94.3 255.6L94.2 254.9L94.1 255.7L93.1 256.4L91.9 256.9M95.8 253.6L96.3 254.3L96.4 254.5L97.1 254.4L96.6 254.0L97.7 254.8M96.6 255.0L97.6 254.0L96.9 255.0L97.9 255.8L97.6 255.6L97.3 254.6M96.9 253.1L96.8 253.0L95.6 254.3L96.7 255.0L97.7 254.2L97.4 254.0L97.6 254.9M91.2 254.8L90.8 255.8L89.6 257.1L90.1 256.7L90.6 256.0M91.6 256.8L90.8 255.6L90.9 255.1L91.9 254.4L92.4 254.7L91.8 255.5M91.4 256.1L92.2 255.7L91.6 256.9L90.6 256.1M92.5 257.4L91.9 257.8L93.0 259.0L93.6 257.9L94.3 257.6L94.3 258.2L94.9 257.4M91.3 257.0L91.0 256.4L91.1 257.2L92.0 258.3M96.7 257.7L96.7 258.2L97.4 259.5L97.0 260.6M95.8 255.4L96.1 254.1L96.1 253.9L95.3 253.0L96.3 253.8L95.5 252.5L96.2 252.6M97.8 255.9L98.2 256.3L97.9 256.6L98.9 257.7M97.1 257.0L96.7 257.2L96.8 258.1L98.0 257.7L99.1 258.7M95.2 255.6L94.8 256.1L93.9 255.2L94.3 254.5M92.3 256.1L92.5 257.2L92.4 256.1L91.7 257.0L91.2 256.4L92.1 257.4M92.5 259.5L92.8 259.9L92.1 258.6L91.5 257.4L92.8 258.3L93.2 259.2M92.5 259.7L93.1 259.9L92.3 259.5L91.4 260.3L91.1 261.6L90.8 260.8M96.2 259.0L96.1 260.0L96.3 260.2L96.9 259.1L96.8 258.9L97.4 259.1M93.0 258.5L93.5 258.2L93.4 258.7L93.7 259.8L93.5 259.0M96.3 258.7L97.2 258.8L96.0 257.8L96.0 257.3L97.0 256.2L96.5 257.6M97.1 257.2L96.0 257.1L95.1 256.3L96.2 256.2M92.2 257.8L92.7 257.8L93.1 256.9L93.1 257.1L94.2 258.0M96.1 258.2L96.7 257.9L97.0 258.6L96.7 259.8M92.0 257.2L92.2 258.3L91.7 258.5L92.8 257.2L94.1 255.9L94.0 256.9M97.8 258.8L97.7 258.7L97.0 257.4L96.7 257.0L97.4 256.1M95.4 261.4L96.1 261.5L96.8 262.2L97.3 261.7L98.5 261.2M95.5 260.4L95.1 259.9L94.7 260.0L95.0 261.1L95.9 262.1L95.5 262.4M92.6 260.8L93.3 261.8L94.2 261.5L93.0 262.8L94.1 262.4L93.5 263.5M93.0 261.5L92.7 262.5L93.7 261.6L92.8 260.6L93.1 259.8L93.5 258.7L94.2 257.8M93.4 260.6L94.0 260.8L95.0 260.6L94.4 261.3M93.0 260.0L93.0 258.9L93.5 259.6L92.6 259.3M97.3 260.6L97.2 260.5L97.6 259.5L97.3 259.8L98.4 260.9L98.8 260.6M92.2 259.8L93.0 260.9L93.0 260.2L92.1 261.0L91.9 262.0L90.9 261.6M94.5 259.4L93.9 259.9L93.3 261.1L92.8 261.5L92.8 262.0M99.0 259.2L100.2 258.8L100.9 259.3L100.5 259.8L100.7 259.5L101.4 260.7M98.0 262.2L97.8 263.3L96.7 262.4L96.6 261.6M92.9 262.9L93.1 262.6L93.6 262.3L94.1 263.1L94.5 263.2L95.2 264.3L94.4 265.6M98.4 262.1L98.1 261.2L98.8 261.1L98.2 261.6M95.7 263.3L95.9 263.1L96.9 263.1L96.9 262.2L97.6 262.4L98.1 262.7L97.0 262.2M97.0 262.0L97.0 262.2L96.0 261.8L95.3 262.8L94.1 264.1M97.7 262.7L97.0 263.8L97.0 264.4L97.1 264.5M98.2 261.1L98.9 260.5L99.8 259.9L98.7 259.5L99.3 259.6L100.3 260.3M99.9 261.5L98.8 260.5L99.3 260.1L99.0 260.7M97.1 261.0L97.4 261.6L98.5 260.9L98.4 261.9L99.6 262.9L100.7 263.8L101.4 263.9M98.5 262.0L99.2 261.9L98.7 263.1L99.8 262.5L100.7 263.0L100.9 261.7M99.7 264.7L99.9 263.4L99.3 263.7L99.0 263.0L98.3 263.1L98.8 263.6M95.1 265.6L94.6 266.6L95.6 265.2L94.7 263.9M99.4 264.8L99.1 266.0L99.2 265.2L98.4 264.5L99.5 265.2L99.8 264.7L99.7 265.5M95.0 264.4L94.9 265.6L95.7 264.8L95.0 264.6L96.0 263.5L96.0 263.6L96.3 264.5M94.5 265.6L94.1 265.4L93.9 265.3L93.0 266.6L94.3 266.9L93.3 266.6M99.4 264.6L99.0 264.6L97.8 265.9L99.0 264.8M96.9 263.8L98.0 264.4L97.0 264.6L97.2 264.3L96.3 263.3L95.9 261.9M96.0 264.9L96.2 263.8L96.1 262.6L97.1 263.8M97.8 264.1L98.3 265.3L97.9 266.0L96.9 264.8M97.1 264.6L96.7 265.3L97.3 266.2L98.4 265.0L97.3 264.8M94.2 266.1L94.9 265.5L95.3 264.1L94.2 265.1L94.8 263.9L95.3 264.5M99.2 266.4L99.2 266.7L98.9 267.1L98.6 267.3M101.2 266.1L101.1 264.9L101.8 265.9L102.7 267.1M99.5 267.2L100.2 265.9L101.2 266.2L100.1 267.4L101.2 267.9M96.1 267.7L95.2 268.4L94.1 267.8L94.2 268.8L95.1 269.5L94.9 270.4M96.4 265.2L97.2 265.9L96.2 266.0L96.1 267.0L96.2 266.6L96.9 265.4M99.0 265.3L98.4 266.1L98.0 264.7L99.3 263.5M94.9 266.3L93.7 265.7L93.2 264.4L92.0 263.5L91.6 264.5M94.0 265.3L93.2 265.4L94.2 266.2L94.4 267.2L93.6 266.5L94.2 267.3M94.7 266.7L95.3 267.6L94.4 267.2L94.8 268.0L94.3 269.4L94.8 269.3L95.6 268.2M100.0 269.2L100.9 268.2L100.9 269.5L101.9 269.6L102.8 270.2L102.0 269.3M98.6 269.6L98.8 268.6L98.5 267.4L99.6 268.5L99.3 269.3L100.1 268.1M102.4 268.2L101.9 269.2L102.5 269.4L101.3 268.5M96.5 269.4L95.8 270.3L94.8 271.0L95.6 272.3M96.1 268.5L95.5 267.6L95.9 267.7L95.2 267.8L94.8 268.9M96.9 268.3L96.9 268.3L96.3 269.4L96.1 270.4L96.3 269.4L95.4 269.2L96.1 270.1M102.9 267.0L103.4 266.8L103.6 268.0L104.8 269.3L104.4 269.6L105.3 269.0L106.1 268.8M104.4 268.2L105.2 269.5L105.3 268.2L106.3 268.9L106.2 268.5L105.8 268.5L104.7 268.6M99.9 268.8L99.7 269.1L100.9 269.3L99.8 267.9L101.0 269.2M103.2 267.7L103.6 266.8L102.4 267.9L101.5 269.3L100.8 270.5L99.8 271.0M98.7 271.7L97.6 271.5L98.7 271.7L98.7 270.6L99.8 270.4L99.2 269.7M104.4 271.3L104.7 271.1L105.0 271.9L105.6 272.0L105.7 271.7L105.6 272.2L105.0 273.0M102.1 271.1L100.9 271.5L101.8 272.2L101.9 272.3L101.4 270.9L100.9 270.1L100.0 271.3M105.7 271.0L105.7 270.1L105.4 269.3L105.4 268.0M103.8 270.0L103.4 270.4L103.8 270.1L104.7 269.2L104.7 268.5L105.3 267.8L105.3 267.0M104.1 269.1L103.9 270.2L103.6 270.0L102.7 270.3L103.9 271.3M105.5 270.3L105.2 270.4L105.1 269.8L104.6 270.1M102.5 270.1L101.3 269.4L102.5 269.8L102.0 269.6L102.8 269.8L102.5 270.6M105.2 270.2L106.3 271.0L106.2 269.9L104.9 271.1L105.1 271.2M106.2 269.3L106.2 269.3L106.7 269.6L106.3 269.3L106.0 268.1L106.4 268.0L105.4 268.4M103.1 272.3L104.1 271.0L104.1 271.2L104.4 269.8L104.0 269.7M107.3 273.1L106.9 274.3L106.5 275.2L106.9 275.7L106.5 274.5L106.5 273.2M105.4 272.4L105.4 273.3L104.7 272.9L104.9 273.3L106.1 272.9M99.6 272.6L99.1 272.1L97.8 272.6L98.7 272.4M105.8 273.0L106.5 272.9L107.4 271.8L107.4 272.8L106.7 272.5L105.8 272.4L105.8 273.7M99.9 270.6L100.7 270.3L101.5 271.5L100.3 270.7L99.8 270.1L99.5 271.0L98.9 272.2M108.2 271.3L107.4 271.0L106.2 271.7L105.9 271.0L104.8 272.2L104.1 273.0M100.7 271.3L100.3 270.2L101.1 270.7L101.3 269.4L101.3 268.2M101.6 271.7L101.4 272.0L101.9 273.3L102.8 274.4L102.0 274.8M99.2 270.7L99.4 271.8L99.5 272.1L99.2 273.3L98.3 272.4L97.9 273.1L97.1 273.7M104.0 275.0L103.6 275.9L104.1 277.0L103.5 276.1M102.9 274.1L102.1 274.6L102.6 274.9L103.8 275.7L104.9 275.7M103.9 274.1L105.0 272.7L105.2 272.9L106.5 272.8L106.2 272.8M102.9 273.5L103.0 274.2L103.7 274.5L104.1 274.3M104.7 274.2L105.2 273.5L104.6 274.3L105.5 275.5M110.7 272.4L110.0 271.8L109.0 272.4L109.7 272.7L109.4 271.7L109.3 271.4M107.9 272.3L107.1 272.7L107.8 272.2L108.8 273.5L109.3 273.6L110.6 273.9M110.7 273.8L109.7 272.7L110.3 272.1L109.1 273.4L108.3 274.2L107.8 274.5M102.0 273.4L102.2 274.2L102.2 274.1L103.2 273.6L103.4 272.4M102.8 272.5L103.8 271.5L104.0 270.9L105.1 270.4L104.0 270.9L104.7 271.4M112.9 275.4L114.2 275.1L113.5 275.0L113.1 273.7L113.0 274.2L113.0 273.7L113.8 273.3M109.2 274.9L109.0 274.8L110.1 275.9L110.7 277.1L111.2 276.3M106.9 275.1L107.0 275.8L105.9 276.2L105.7 277.0L105.2 278.1M111.0 274.9L111.5 276.3L112.0 277.3L112.4 276.7L111.5 276.1M109.9 275.7L110.0 275.0L109.2 274.5L109.5 274.7M111.6 273.6L112.1 274.9L112.0 276.2L113.0 276.7M105.5 274.6L104.7 274.8L104.8 275.3L105.0 276.6M108.8 273.3L107.8 272.7L109.0 272.5L108.0 272.5L107.8 273.4L108.0 274.8L109.0 274.4M110.3 273.4L110.7 274.5L111.3 275.9L111.0 276.8L110.7 275.6L110.8 274.5M110.8 275.0L111.4 275.5L110.6 274.6L110.2 275.0L110.3 275.3L111.1 276.0M108.0 276.3L109.1 275.0L109.0 275.0L108.2 275.6L108.4 276.8L108.9 277.7L108.7 276.4M108.5 277.3L108.4 278.1L108.1 279.4L108.4 278.5L108.4 279.5L107.3 280.7L107.8 279.6M108.2 277.4L109.2 278.3L108.7 278.5L108.9 278.9L108.1 280.0M110.5 276.5L111.6 275.2L111.9 274.3L110.8 273.9L111.1 274.4M112.6 275.5L113.0 276.5L113.9 276.4L114.2 275.5L113.5 274.8L114.0 275.8L114.2 275.6M115.7 275.7L115.9 276.0L114.9 276.9L115.9 276.7L115.0 275.7M109.9 276.2L110.4 277.0L110.3 276.9L110.8 276.2L111.8 276.0L112.7 275.5M114.5 276.1L114.8 274.9L114.9 275.0L115.3 274.9M116.0 276.0L116.6 277.0L117.3 278.3L116.7 278.6L115.5 278.4L114.8 278.9L115.3 279.1M115.3 275.2L115.4 274.0L116.4 274.9L117.0 275.4L117.6 274.9M117.4 278.3L117.4 278.3L117.0 278.3L117.8 278.7L117.5 279.2L117.7 280.5M118.0 278.1L117.3 278.3L118.1 278.0L117.1 279.4L116.2 278.5L115.4 278.4M113.2 277.2L114.0 277.0L113.4 275.6L114.0 276.2L113.9 277.6L115.1 277.6L115.1 278.9M117.5 278.4L118.3 277.1L118.8 277.3L118.1 276.0L118.2 276.4L118.2 276.9L117.3 276.6M112.5 277.0L112.1 277.1L113.2 277.6L112.8 277.6L112.1 278.3L113.1 278.0L113.4 277.4M112.0 276.8L112.0 277.5L112.2 277.4L113.3 276.1M111.2 276.5L112.1 275.7L112.4 275.4L112.1 276.0M117.1 275.9L117.6 276.4L118.2 275.7L118.3 275.4L117.9 275.2M114.1 277.5L114.5 276.4L115.2 276.4L116.2 275.5L117.4 276.5L116.7 275.4M116.2 276.8L116.3 277.3L115.5 278.5L115.0 279.1L115.6 278.9L116.7 279.4L117.7 279.1M115.0 279.4L116.2 279.8L116.9 280.0L117.8 281.2L117.7 280.1L117.2 280.8M114.6 279.4L113.9 280.8L112.8 280.9L113.8 281.5L113.8 282.6L113.2 283.9M115.3 279.7L116.1 278.6L115.7 279.6L114.9 279.5M120.1 278.5L119.3 279.0L120.0 278.6L119.7 278.1M116.6 279.7L117.4 280.8L117.6 280.0L118.9 280.3L120.0 279.3L118.8 279.8L119.2 280.3M117.1 277.4L116.3 278.7L115.5 278.6L116.4 279.0L116.0 279.5L116.5 278.4M115.4 276.8L114.8 276.5L115.5 276.6L114.4 276.2L114.8 276.0L115.3 275.9M116.8 277.7L115.9 279.1L115.8 278.7L116.5 279.0L117.7 279.8L118.3 280.9M114.6 278.5L114.7 279.3L115.4 280.0L115.7 279.3M120.2 277.1L120.3 277.5L120.8 277.6L121.7 278.4L122.8 277.3M119.3 280.5L118.3 279.9L117.3 279.5L117.0 278.5M117.9 279.8L118.9 280.2L119.3 279.2L118.2 280.5L118.7 281.2L118.3 281.7L118.1 282.3M121.4 280.0L121.4 278.8L122.0 277.5L121.1 278.1L120.1 279.4M121.4 280.5L121.8 280.2L121.7 280.0L122.7 280.8L123.6 281.2L124.3 280.2M118.4 279.3L118.9 278.4L118.0 277.3L117.1 277.8L117.1 278.2L117.7 278.3M119.4 279.2L120.3 277.8L119.1 278.6L119.9 278.0L118.7 278.0L118.1 278.2L117.1 279.5M121.9 279.3L120.9 279.4L120.0 279.6L119.2 279.1M118.3 278.5L118.4 277.6L119.5 278.7L120.7 277.8M121.8 279.5L121.2 280.4L120.7 281.6L119.5 281.6M119.4 278.9L118.8 279.4L117.7 279.5L117.1 280.0L116.9 278.6L117.5 279.2M298.9 -2.4L298.0 1.0L299.6 2.2L300.6 5.5L300.6 7.5L300.3 9.9L301.4 11.5L302.6 12.3L302.4 14.3L304.9 14.7L307.1 16.2L308.8 18.6L311.3 21.0L312.9 23.2L313.3 26.1L314.5 28.1L315.9 30.1L319.5 32.5L322.0 34.5M32.2 2.0L32.4 0.0L32.2 -1.2M39.7 5.0L41.5 3.2L42.4 2.3L42.9 0.4L44.0 -1.6M42.4 2.3L45.4 4.2L47.9 4.4L48.1 6.3L47.9 6.9M49.5 7.9L51.1 6.9L51.8 4.8L53.9 4.0L55.4 4.4L57.5 2.0L59.6 1.2L61.8 0.8L64.3 0.0M55.4 15.6L58.2 16.0L60.3 15.8L61.8 16.8L62.7 16.1M65.3 27.6L65.5 25.7L65.0 24.2L66.0 23.4L65.3 22.0L66.5 21.5M85.1 25.1L84.7 27.7L85.6 28.1L84.4 29.7L83.1 30.9M106.6 12.5L104.3 13.3L103.2 15.2L102.3 16.0L100.9 18.0L100.6 20.6L99.3 23.0L100.7 23.4L101.5 25.3L102.7 26.3L102.5 29.9L104.1 31.7L107.7 31.5L110.9 31.7L113.2 35.2L116.6 35.0L120.3 34.8L118.9 38.4L119.1 41.6L119.8 44.5L120.9 45.9L118.9 48.1L121.2 50.3L121.9 52.7L122.5 54.5M122.5 54.5L121.6 54.6L121.6 52.7L120.5 50.9L117.7 51.7L117.8 52.6L111.8 52.7L111.8 55.2L114.1 56.8L111.1 57.2L111.1 60.0L112.7 61.4L113.4 63.8L111.4 76.1M111.4 76.1L110.2 74.6L108.8 74.4L111.1 70.1L108.0 68.3L105.2 68.1L103.1 69.1L100.9 68.9L99.9 66.5L98.1 64.5L95.6 61.6L92.7 59.8M92.7 59.8L91.3 59.2L88.8 57.8L86.0 58.0L84.5 56.6L82.8 56.0L80.6 54.6L79.7 53.7M92.7 59.8L92.4 63.2L91.5 65.5L87.8 69.7L83.3 71.3L81.5 72.9L80.3 77.6L79.2 79.2L77.6 77.2L75.1 76.4L74.0 75.2L74.6 72.9M111.4 76.1L108.4 76.0L104.1 77.6L100.9 79.6L99.9 83.4L98.1 86.7L97.0 88.5L98.1 88.5L100.6 94.6L99.9 96.6L102.7 97.0L103.6 99.0L106.6 99.0L109.1 97.0L109.5 103.0L112.8 102.8M112.8 102.8L116.1 108.9L114.8 113.3L115.3 115.6L113.6 118.0L114.3 120.0L112.7 121.6L114.8 123.6L114.6 125.1L112.5 127.9L113.1 128.7M113.1 128.7L112.0 129.3L109.9 132.1M113.1 128.7L114.5 130.7L115.0 134.6L116.8 136.2L115.7 140.2L117.7 143.7L118.4 146.5L118.9 149.9L121.3 149.8M121.3 149.8L121.9 150.5L120.7 154.4L117.3 156.4L116.4 159.6L116.9 163.2L117.3 165.9L115.5 166.7L114.5 169.9L112.3 171.9L111.4 175.0L111.6 179.0L109.5 182.6L110.2 185.7L111.1 189.7L112.0 191.3L111.8 195.2L109.8 198.8L109.8 202.4L107.2 204.7L107.7 208.7L108.0 212.3L105.6 216.2L104.8 219.4L104.5 224.1L105.0 227.7L103.8 230.1L105.2 232.5L105.2 235.2L106.6 236.8L105.6 239.6L105.0 242.0L104.5 245.1L102.9 247.5L102.3 251.5L98.8 253.8L99.9 257.4L99.9 260.2L103.1 260.0L102.9 263.7L104.5 265.3L111.2 265.3L116.8 266.6M116.2 267.9L116.2 276.8M121.3 149.8L122.8 147.3L124.6 145.7L126.4 146.9L130.5 147.3L131.5 149.9L132.8 146.5L136.9 146.5L137.4 147.5M137.4 147.5L143.3 153.6L148.6 156.0L154.0 158.8L155.4 159.6L154.0 163.2L151.8 167.5L157.5 168.1L159.7 168.5L161.4 167.7L164.6 165.5L165.7 163.5L166.1 160.8M166.1 160.8L168.7 160.8L169.5 163.4L169.1 165.9L168.9 166.9L165.4 168.5L161.8 171.5L159.0 174.6L157.2 177.2L155.2 179.0M155.2 179.0L154.3 182.2L153.6 186.1L153.3 190.1L152.4 192.5M155.2 179.0L158.2 179.4L161.1 181.4L162.7 181.8L166.4 184.1L168.9 186.1L170.3 188.5L170.0 191.3L170.5 193.1M166.1 160.8L167.1 154.8L163.2 154.2L162.5 149.1L159.7 146.9L154.1 146.9L154.5 142.2L153.4 139.2M153.4 139.2L150.1 136.0L140.6 137.2L138.8 140.8L137.4 147.5M153.4 139.2L154.5 134.6L155.8 131.5L154.9 128.9L152.5 127.7L152.7 123.9L146.3 123.8L146.0 119.2L145.1 114.0L140.4 112.9L136.9 110.9L134.4 109.1L131.2 108.7L129.0 106.5L127.8 103.0L128.0 99.0L127.6 97.8L123.4 98.6L120.1 101.8L118.4 101.6L116.2 103.4L112.8 102.8M122.5 54.5L124.4 56.4L127.3 56.6L128.7 54.8L131.5 53.7L132.6 51.7L134.7 50.9L134.7 49.9L132.6 49.5L131.9 47.1L131.9 45.1L130.5 43.0L132.6 43.2L135.1 43.8L136.5 45.1L137.2 43.4L140.1 43.0L143.3 41.6L144.3 38.8M144.3 38.8L141.9 35.8L142.8 32.9L145.6 31.7L144.4 29.7L146.8 27.5L146.9 25.5M144.3 38.8L146.5 38.8L147.0 41.6L148.5 44.0L147.6 46.1L146.9 48.7L147.7 52.1L149.7 54.1L152.2 54.3L154.0 53.5L156.5 51.7L159.4 51.7M159.4 51.7L156.6 46.1L155.2 43.6L154.1 40.8L156.6 38.8L157.0 35.8M159.4 51.7L161.1 50.1L164.3 49.3L166.1 50.2M166.1 50.2L167.5 47.5L168.2 45.1L166.6 40.8L166.8 39.2L168.2 36.6M166.1 50.2L168.9 50.3L172.1 50.7L174.1 47.1L175.7 44.4L176.6 42.8M300.6 5.5L303.5 5.5L305.6 5.0L308.5 5.5L311.1 5.9L308.5 6.7L305.6 6.3L303.5 7.1L300.6 7.5M300.8 10.5L305.3 9.3L311.7 9.3L316.3 10.5L319.9 11.3L322.0 10.7M311.7 9.3L311.7 13.1L308.1 13.9L307.1 16.2M313.1 23.6L315.9 20.4L320.4 19.8L322.7 22.6M316.7 -2.4L317.0 1.2L318.4 6.3L319.9 10.3L319.9 11.3M319.5 32.3L322.7 28.5L323.8 25.7M165.1 49.9L167.9 53.5L170.7 56.2L172.1 59.4L173.4 61.8L175.7 64.0M150.2 58.8L152.2 61.8L154.7 64.2L157.5 67.3L159.7 68.1L160.4 68.5L157.9 75.2L155.0 82.0L152.7 88.5M152.7 88.5L153.3 91.1L155.0 94.2L156.5 95.8L158.6 96.6L181.7 98.4M181.7 98.4L183.9 95.0L185.3 91.1L185.3 87.1L187.4 84.0L187.3 80.7L188.5 80.0M188.5 80.0L190.3 78.4L191.7 76.4L193.8 72.5L194.9 68.5L196.5 63.8M188.5 80.0L191.3 81.2L191.5 85.3L191.7 87.9L194.9 91.1L196.9 94.2L196.0 97.4L197.0 100.0M211.6 70.3L210.2 72.9L208.1 77.2L208.1 79.6L207.4 83.2L207.4 86.1L204.9 85.9L202.0 87.9L199.2 90.7L198.5 93.9L197.0 96.2L197.0 100.0M213.4 70.9L213.6 73.3L213.8 77.2L215.2 80.0L214.8 83.2L215.9 85.9L216.3 88.7M216.3 88.7L215.9 91.1L214.5 93.1L213.2 94.0M213.2 94.0L210.9 96.2L207.7 96.6L204.9 99.0L202.7 101.4L199.5 102.6L197.0 100.0M227.8 78.6L225.9 81.2L224.8 83.2L223.2 84.7M223.2 84.7L222.9 87.1L222.7 89.9M222.7 89.9L220.5 89.3L218.0 88.7L216.3 88.7M235.8 85.1L234.1 84.9L230.5 84.3L229.8 86.7L227.7 85.9L226.9 83.6L225.2 84.3L223.2 84.7M236.4 89.3L234.1 88.9L230.5 90.3L228.7 91.9L227.7 89.9L225.2 90.1L222.7 89.9M235.3 94.6L232.3 95.4L230.2 96.2L226.9 95.0L225.2 95.8L224.5 96.4M230.9 101.0L229.4 99.8L227.3 98.2L225.2 97.2L224.5 96.4M227.5 104.7L225.5 104.1L224.5 101.8L225.9 99.8L225.2 97.2M224.5 96.4L222.7 94.2L220.5 93.3L218.0 95.0L216.3 96.6L215.2 96.6L214.5 95.4L213.2 94.0M196.5 118.6L200.2 118.4L203.1 116.0L204.5 116.0L207.4 117.6L209.1 119.2L210.9 118.6L213.4 121.8L214.8 121.6L217.3 122.8L216.3 125.1L217.0 127.9L215.9 128.7L217.2 130.5M219.3 132.1L217.2 130.5M217.2 130.5L214.8 131.9L214.5 134.6L214.1 138.2L211.6 139.8L211.5 141.6L211.8 142.6M211.8 142.6L213.4 143.4L214.6 143.7M211.8 142.6L209.9 145.3L207.4 146.5L204.5 146.9L202.7 147.5L201.3 148.1M201.3 148.1L203.1 148.9L203.1 150.1L201.7 150.9L201.2 151.9M201.3 148.1L198.5 149.1L197.0 149.9L195.3 150.1L194.6 147.7L194.4 144.5L193.1 142.6L192.4 140.6L192.1 138.8L187.8 139.0L184.9 138.4L181.4 138.0L178.9 139.0M178.9 139.0L176.8 142.2L175.3 144.5L173.5 146.5L171.4 148.9M171.4 148.9L175.3 148.7L178.9 149.3L182.4 150.3L183.5 150.9L183.9 152.9L184.9 155.6L187.4 157.2L189.2 159.6M187.4 162.4L184.6 163.0L181.4 162.6L178.5 163.4L177.1 164.7L173.5 163.9L171.1 163.4L169.5 163.4M183.4 175.5L182.1 173.8L182.4 172.1L179.6 171.1L178.9 169.7L175.7 168.3L172.5 167.1L168.9 166.9M171.4 148.9L168.2 152.1L167.3 154.6M154.9 128.9L158.6 127.9L162.5 129.1L165.4 128.9L168.2 129.1L169.3 130.7L171.4 130.9M171.4 130.9L174.3 133.5L177.8 135.8L179.1 136.6L178.9 139.0M179.1 136.6L182.4 134.6L184.2 133.1L185.3 132.3L188.9 132.1L191.7 131.1L192.1 128.7L192.1 125.5L192.8 122.8L193.8 122.4L194.6 119.6L196.5 118.6M196.5 118.6L196.3 114.8L195.6 111.3M195.6 111.3L193.1 111.3L190.6 112.1L187.8 111.3L184.9 111.7L181.4 110.3L180.1 110.5M180.1 110.5L180.0 106.9L180.0 103.0L181.0 100.2L181.7 98.4M195.6 111.3L196.0 106.9L195.3 105.3L196.3 102.2L197.0 100.0M180.1 110.5L178.9 114.8L176.8 118.8L174.3 122.4L172.1 125.1L171.4 127.9L171.4 130.9M145.4 113.7L146.8 108.9L147.2 105.7L145.4 103.4L141.5 103.0L141.3 99.0L141.2 94.2M141.2 94.2L152.5 94.4L152.7 88.5M141.2 94.2L137.9 92.5L136.2 90.9L133.7 91.1L130.8 93.5L127.3 96.6L122.6 98.2M122.6 98.2L97.7 88.3M122.6 98.2L123.4 98.6M134.7 50.9L136.9 54.6L138.8 56.0L138.5 61.6L141.0 65.2L143.3 62.6L145.2 60.2L150.2 58.8L150.8 54.4M188.7 120.8L191.9 120.8L192.1 123.0L188.7 123.0L188.7 120.8" fill="none" stroke="#9a9a9a" stroke-width="0.7" stroke-linejoin="round"/>
<rect x="49.2" y="182.0" width="29.1" height="9.8" fill="#fff"/>
<rect x="216.2" y="205.1" width="29.1" height="9.8" fill="#fff"/>
<path d="M-0.4 170.1C1.8 170.9 8.5 173.3 12.7 174.9C16.9 176.5 20.7 178.2 24.7 179.5C28.7 180.8 32.7 181.9 36.7 182.9C40.7 183.9 46.8 185.1 48.8 185.5M77.9 184.3C79.7 183.9 85.1 182.6 88.9 181.9C92.8 181.2 97.0 180.6 101.0 180.3C105.0 180.0 109.0 179.8 113.0 179.9C117.0 180.0 121.1 180.6 125.1 180.9C129.1 181.2 133.1 181.3 137.1 181.9C141.1 182.5 145.8 183.5 149.1 184.3C152.3 185.1 153.3 185.8 156.6 186.9C159.8 188.0 164.6 189.5 168.6 190.9C172.6 192.2 176.7 193.6 180.7 195.0C184.7 196.4 188.7 197.9 192.7 199.4C196.7 200.9 200.9 202.7 204.8 204.0C208.6 205.3 214.0 206.5 215.8 207.0M239.9 203.8C239.9 202.5 240.2 198.7 240.0 196.0C239.8 193.3 238.8 190.6 238.5 187.9C238.1 185.2 237.8 182.3 237.9 179.9C238.0 177.5 238.3 175.1 239.3 173.5C240.3 171.9 241.6 171.0 243.9 170.3C246.2 169.6 248.7 169.3 252.9 169.5C257.1 169.7 263.6 170.7 269.0 171.3C274.4 171.9 279.8 172.6 285.1 173.3C290.5 174.0 295.0 174.6 301.1 175.3C307.2 176.0 318.2 177.0 321.6 177.4" fill="none" stroke="#78f073" stroke-width="1.8" stroke-linecap="round" stroke-linejoin="round"/>
<text x="63.8" y="190.5" text-anchor="middle" font-family='"Liberation Sans", Arial, sans-serif' font-weight="bold" font-size="10.0" stroke="#78f073" stroke-width="0.3" textLength="26.7" lengthAdjust="spacingAndGlyphs" fill="#78f073">12200</text>
<text x="230.7" y="213.6" text-anchor="middle" font-family='"Liberation Sans", Arial, sans-serif' font-weight="bold" font-size="10.0" stroke="#78f073" stroke-width="0.3" textLength="26.7" lengthAdjust="spacingAndGlyphs" fill="#78f073">12200</text>
<rect x="102.8" y="193.5" width="28.9" height="9.8" fill="#fff"/>
<path d="M-0.4 204.1C1.8 204.7 8.5 206.5 12.7 207.6C16.9 208.7 20.7 209.7 24.7 210.8C28.7 211.9 32.7 213.3 36.7 214.3C40.7 215.3 44.8 216.5 48.8 217.0C52.8 217.5 56.8 217.4 60.8 217.0C64.8 216.6 68.9 215.6 72.9 214.4C76.9 213.2 80.9 211.7 84.9 210.0C88.9 208.3 94.0 205.8 97.0 204.4C100.0 203.0 102.0 202.1 103.0 201.6M131.1 198.4C132.8 198.6 137.4 198.8 141.1 199.6C144.8 200.4 149.3 201.7 153.2 203.0C157.1 204.3 161.3 205.9 164.6 207.2C167.8 208.5 168.7 209.0 172.7 211.0C176.7 213.0 183.3 216.5 188.7 219.4C194.0 222.2 199.4 225.3 204.8 228.1C210.1 230.9 215.4 233.8 220.8 236.1C226.1 238.4 231.6 240.5 236.9 242.1C242.2 243.7 248.2 244.9 252.9 245.5C257.6 246.1 261.3 246.0 265.0 245.7C268.7 245.4 272.1 245.0 275.0 243.7C277.9 242.4 280.1 240.5 282.1 238.1C284.1 235.7 285.4 232.4 287.1 229.1C288.8 225.7 290.4 221.0 292.1 218.0C293.8 215.0 294.9 212.9 297.1 211.0C299.3 209.1 301.0 207.8 305.1 206.4C309.2 205.0 318.9 203.4 321.6 202.8" fill="none" stroke="#37cd3c" stroke-width="1.8" stroke-linecap="round" stroke-linejoin="round"/>
<text x="117.2" y="202.0" text-anchor="middle" font-family='"Liberation Sans", Arial, sans-serif' font-weight="bold" font-size="10.0" stroke="#37cd3c" stroke-width="0.3" textLength="26.5" lengthAdjust="spacingAndGlyphs" fill="#37cd3c">12000</text>
<rect x="122.9" y="212.7" width="28.9" height="9.8" fill="#fff"/>
<path d="M-0.4 226.7C1.8 226.8 8.5 226.4 12.7 227.1C16.9 227.8 20.7 229.4 24.7 230.7C28.7 232.0 32.7 233.9 36.7 235.1C40.7 236.3 44.8 237.4 48.8 238.1C52.8 238.8 56.8 239.3 60.8 239.1C64.8 238.9 68.9 238.1 72.9 237.1C76.9 236.1 80.9 234.7 84.9 233.1C88.9 231.5 93.0 229.5 97.0 227.7C101.0 225.9 104.8 224.0 109.0 222.5C113.2 221.0 119.9 219.6 122.1 219.0M151.2 218.4C152.4 218.8 155.0 219.3 158.6 220.8C162.2 222.2 167.7 224.7 172.7 227.1C177.7 229.5 183.3 232.3 188.7 235.1C194.0 237.9 199.4 240.9 204.8 243.7C210.1 246.6 215.4 249.6 220.8 252.2C226.1 254.9 231.6 257.6 236.9 259.6C242.2 261.6 247.6 263.0 252.9 264.2C258.2 265.4 263.6 266.2 269.0 266.6C274.4 267.0 280.4 267.0 285.1 266.6C289.8 266.2 293.4 265.6 297.1 264.2C300.8 262.8 304.2 260.7 307.1 258.2C310.0 255.7 311.8 252.7 314.2 249.2C316.6 245.7 320.4 239.3 321.6 237.3" fill="none" stroke="#1fa81f" stroke-width="1.8" stroke-linecap="round" stroke-linejoin="round"/>
<text x="137.3" y="221.2" text-anchor="middle" font-family='"Liberation Sans", Arial, sans-serif' font-weight="bold" font-size="10.0" stroke="#1fa81f" stroke-width="0.3" textLength="26.5" lengthAdjust="spacingAndGlyphs" fill="#1fa81f">11800</text>
<rect x="129.3" y="231.2" width="29.3" height="9.8" fill="#fff"/>
<path d="M-0.4 253.5C1.8 253.7 8.5 254.1 12.7 254.6C16.9 255.1 20.7 255.9 24.7 256.6C28.7 257.3 32.7 258.1 36.7 258.6C40.7 259.1 44.8 259.6 48.8 259.8C52.8 260.0 56.8 260.0 60.8 259.6C64.8 259.2 68.9 258.6 72.9 257.6C76.9 256.6 80.9 255.1 84.9 253.6C88.9 252.1 93.0 250.4 97.0 248.7C101.0 247.1 105.0 245.2 109.0 243.7C113.0 242.2 117.7 240.7 121.0 239.7C124.3 238.7 127.8 238.0 129.1 237.7M158.2 237.7C159.3 237.9 162.2 238.3 164.6 239.0C167.0 239.7 168.7 239.8 172.7 241.7C176.7 243.6 183.3 247.3 188.7 250.2C194.0 253.1 199.4 256.2 204.8 259.2C210.1 262.2 215.4 265.5 220.8 268.2C226.1 270.9 231.6 273.3 236.9 275.2C242.2 277.2 247.6 278.7 252.9 279.9C258.2 281.1 263.6 281.8 269.0 282.3C274.4 282.8 279.8 283.0 285.1 282.7C290.5 282.4 296.4 281.5 301.1 280.7C305.8 279.9 309.8 278.9 313.2 277.9C316.6 276.9 320.2 275.3 321.6 274.8" fill="none" stroke="#78b6fa" stroke-width="1.8" stroke-linecap="round" stroke-linejoin="round"/>
<text x="144.0" y="239.7" text-anchor="middle" font-family='"Liberation Sans", Arial, sans-serif' font-weight="bold" font-size="10.0" stroke="#78b6fa" stroke-width="0.3" textLength="26.9" lengthAdjust="spacingAndGlyphs" fill="#78b6fa">11600</text>
<rect x="129.3" y="250.9" width="29.3" height="9.8" fill="#fff"/>
<path d="M-0.4 274.3C1.8 274.8 8.5 276.5 12.7 277.3C16.9 278.1 20.7 278.5 24.7 278.9C28.7 279.3 32.7 279.6 36.7 279.7C40.7 279.8 44.8 279.7 48.8 279.3C52.8 278.9 56.8 278.2 60.8 277.3C64.8 276.3 68.9 274.9 72.9 273.6C76.9 272.2 80.9 270.7 84.9 269.2C88.9 267.7 93.0 266.0 97.0 264.6C101.0 263.2 105.0 261.8 109.0 260.6C113.0 259.4 117.7 258.3 121.0 257.6C124.3 256.9 127.8 256.4 129.1 256.2M158.2 256.2C159.3 256.5 162.2 257.1 164.6 257.8C167.0 258.5 168.7 258.9 172.7 260.6C176.7 262.3 183.3 265.4 188.7 268.2C194.0 271.0 199.4 274.4 204.8 277.3C210.1 280.1 215.4 283.0 220.8 285.3C226.1 287.6 231.6 289.6 236.9 291.3C242.2 293.0 247.6 294.2 252.9 295.3C258.2 296.4 266.0 297.4 268.6 297.8M290.6 297.4C293.0 297.0 299.9 296.1 305.1 295.3C310.3 294.5 318.9 293.0 321.6 292.5" fill="none" stroke="#308af1" stroke-width="1.8" stroke-linecap="round" stroke-linejoin="round"/>
<text x="144.0" y="259.4" text-anchor="middle" font-family='"Liberation Sans", Arial, sans-serif' font-weight="bold" font-size="10.0" stroke="#308af1" stroke-width="0.3" textLength="26.9" lengthAdjust="spacingAndGlyphs" fill="#308af1">11400</text>
<rect x="9.5" y="293.2" width="28.8" height="9.8" fill="#fff"/>
<path d="M37.7 296.3C39.5 296.0 44.3 295.7 48.8 294.7C53.3 293.7 59.4 291.8 64.8 290.3C70.1 288.8 75.5 287.3 80.9 285.9C86.3 284.5 91.7 283.1 97.0 281.9C102.3 280.7 107.7 279.6 113.0 278.9C118.3 278.2 123.8 277.7 129.1 277.7C134.4 277.7 140.5 278.4 145.1 278.9C149.7 279.4 152.0 279.8 156.6 280.8C161.2 281.8 167.3 283.1 172.7 284.7C178.0 286.3 183.3 288.5 188.7 290.3C194.0 292.1 200.8 294.1 204.8 295.3C208.8 296.5 211.3 297.2 212.6 297.6" fill="none" stroke="#1c62e0" stroke-width="1.8" stroke-linecap="round" stroke-linejoin="round"/>
<text x="23.9" y="301.7" text-anchor="middle" font-family='"Liberation Sans", Arial, sans-serif' font-weight="bold" font-size="10.0" stroke="#1c62e0" stroke-width="0.3" textLength="26.4" lengthAdjust="spacingAndGlyphs" fill="#1c62e0">11200</text>
</g>
<rect x="0" y="0" width="320.4" height="297.0" fill="none" stroke="#000" stroke-width="1.45"/>
<path d="M0 0.0h-3.6M0 19.8h-3.6M0 39.6h-3.6M0 59.4h-3.6M0 79.2h-3.6M0 99.0h-3.6M0 118.8h-3.6M0 138.6h-3.6M0 158.4h-3.6M0 178.2h-3.6M0 198.0h-3.6M0 217.8h-3.6M0 237.6h-3.6M0 257.4h-3.6M0 277.2h-3.6M0 297.0h-3.6M4.4 297.0v3.4M40.0 297.0v3.4M75.6 297.0v3.4M111.2 297.0v3.4M146.8 297.0v3.4M182.4 297.0v3.4M218.0 297.0v3.4M253.6 297.0v3.4M289.2 297.0v3.4" stroke="#000" stroke-width="1.2" fill="none"/>
<g font-family='"Liberation Sans", Arial, Helvetica, sans-serif' font-weight="bold" font-size="10.1" fill="#000">
<text x="-21.99" y="4.2" textLength="16.79" lengthAdjust="spacingAndGlyphs">15N</text>
<text x="-21.99" y="24.0" textLength="16.79" lengthAdjust="spacingAndGlyphs">10N</text>
<text x="-16.90" y="43.8" textLength="11.70" lengthAdjust="spacingAndGlyphs">5N</text>
<text x="-18.42" y="63.6" textLength="13.22" lengthAdjust="spacingAndGlyphs">EQ</text>
<text x="-16.39" y="83.4" textLength="11.19" lengthAdjust="spacingAndGlyphs">5S</text>
<text x="-21.48" y="103.2" textLength="16.28" lengthAdjust="spacingAndGlyphs">10S</text>
<text x="-21.48" y="123.0" textLength="16.28" lengthAdjust="spacingAndGlyphs">15S</text>
<text x="-21.48" y="142.8" textLength="16.28" lengthAdjust="spacingAndGlyphs">20S</text>
<text x="-21.48" y="162.6" textLength="16.28" lengthAdjust="spacingAndGlyphs">25S</text>
<text x="-21.48" y="182.4" textLength="16.28" lengthAdjust="spacingAndGlyphs">30S</text>
<text x="-21.48" y="202.2" textLength="16.28" lengthAdjust="spacingAndGlyphs">35S</text>
<text x="-21.48" y="222.0" textLength="16.28" lengthAdjust="spacingAndGlyphs">40S</text>
<text x="-21.48" y="241.8" textLength="16.28" lengthAdjust="spacingAndGlyphs">45S</text>
<text x="-21.48" y="261.6" textLength="16.28" lengthAdjust="spacingAndGlyphs">50S</text>
<text x="-21.48" y="281.4" textLength="16.28" lengthAdjust="spacingAndGlyphs">55S</text>
<text x="-21.48" y="301.2" textLength="16.28" lengthAdjust="spacingAndGlyphs">60S</text>
<text x="-6.46" y="308.9" textLength="21.81" lengthAdjust="spacingAndGlyphs">100W</text>
<text x="31.47" y="308.9" textLength="17.17" lengthAdjust="spacingAndGlyphs">90W</text>
<text x="67.07" y="308.9" textLength="17.17" lengthAdjust="spacingAndGlyphs">80W</text>
<text x="102.67" y="308.9" textLength="17.17" lengthAdjust="spacingAndGlyphs">70W</text>
<text x="138.27" y="308.9" textLength="17.17" lengthAdjust="spacingAndGlyphs">60W</text>
<text x="173.87" y="308.9" textLength="17.17" lengthAdjust="spacingAndGlyphs">50W</text>
<text x="209.47" y="308.9" textLength="17.17" lengthAdjust="spacingAndGlyphs">40W</text>
<text x="245.07" y="308.9" textLength="17.17" lengthAdjust="spacingAndGlyphs">30W</text>
<text x="280.67" y="308.9" textLength="17.17" lengthAdjust="spacingAndGlyphs">20W</text>
</g>
<g font-family='"Liberation Sans", Arial, Helvetica, sans-serif' font-size="18.8" fill="#000">
<text x="43.3" y="-9.9" textLength="70.1" lengthAdjust="spacingAndGlyphs">cluster:</text>
<text transform="translate(130.2,-9.9) scale(1.12,1)" text-anchor="middle">5</text>
<text x="159.7" y="-9.9" textLength="94.0" lengthAdjust="spacingAndGlyphs">membros:</text>
<text transform="translate(270.0,-9.9) scale(1.12,1)" text-anchor="middle">1</text>
</g>
</g>
</svg>
</body></html>
